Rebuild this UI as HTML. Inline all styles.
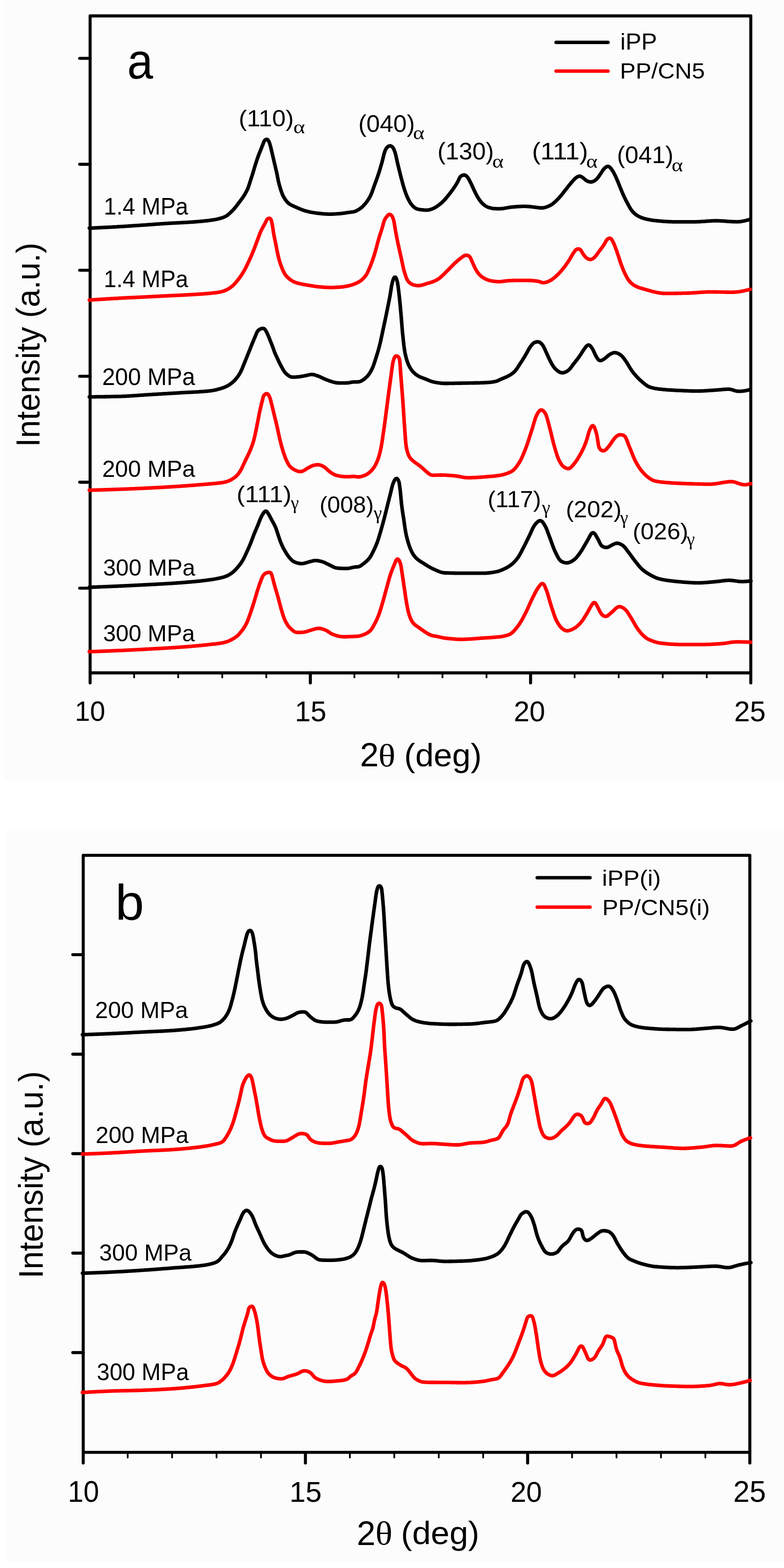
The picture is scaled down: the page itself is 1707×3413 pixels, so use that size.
<!DOCTYPE html>
<html><head><meta charset="utf-8"><title>XRD patterns</title>
<style>html,body{margin:0;padding:0;background:#fff;} svg{display:block;}</style></head>
<body>
<svg xmlns="http://www.w3.org/2000/svg" width="1707" height="3413" viewBox="0 0 1707 3413">
<rect x="0" y="0" width="1707" height="3413" fill="#fff"/>
<rect x="7" y="0" width="1700" height="1698.5" fill="#fcfcfc"/>
<rect x="13" y="1809" width="1694" height="1590" fill="#fcfcfc"/>
<rect x="196.2" y="34.6" width="1438.5" height="1430.0" fill="none" stroke="#000" stroke-width="6.6" stroke-linejoin="round"/>
<line x1="173.5" y1="127.0" x2="196.2" y2="127.0" stroke="#000" stroke-width="6.6" stroke-linecap="round"/>
<line x1="173.5" y1="357.6" x2="196.2" y2="357.6" stroke="#000" stroke-width="6.6" stroke-linecap="round"/>
<line x1="173.5" y1="588.3" x2="196.2" y2="588.3" stroke="#000" stroke-width="6.6" stroke-linecap="round"/>
<line x1="173.5" y1="819.0" x2="196.2" y2="819.0" stroke="#000" stroke-width="6.6" stroke-linecap="round"/>
<line x1="173.5" y1="1049.6" x2="196.2" y2="1049.6" stroke="#000" stroke-width="6.6" stroke-linecap="round"/>
<line x1="173.5" y1="1280.3" x2="196.2" y2="1280.3" stroke="#000" stroke-width="6.6" stroke-linecap="round"/>
<line x1="196.2" y1="1464.6" x2="196.2" y2="1486.5" stroke="#000" stroke-width="6.6" stroke-linecap="round"/>
<line x1="292.1" y1="1464.6" x2="292.1" y2="1474.5" stroke="#000" stroke-width="3.8" stroke-linecap="round"/>
<line x1="388.0" y1="1464.6" x2="388.0" y2="1474.5" stroke="#000" stroke-width="3.8" stroke-linecap="round"/>
<line x1="483.9" y1="1464.6" x2="483.9" y2="1474.5" stroke="#000" stroke-width="3.8" stroke-linecap="round"/>
<line x1="579.8" y1="1464.6" x2="579.8" y2="1474.5" stroke="#000" stroke-width="3.8" stroke-linecap="round"/>
<line x1="675.7" y1="1464.6" x2="675.7" y2="1486.5" stroke="#000" stroke-width="6.6" stroke-linecap="round"/>
<line x1="771.6" y1="1464.6" x2="771.6" y2="1474.5" stroke="#000" stroke-width="3.8" stroke-linecap="round"/>
<line x1="867.5" y1="1464.6" x2="867.5" y2="1474.5" stroke="#000" stroke-width="3.8" stroke-linecap="round"/>
<line x1="963.4" y1="1464.6" x2="963.4" y2="1474.5" stroke="#000" stroke-width="3.8" stroke-linecap="round"/>
<line x1="1059.3" y1="1464.6" x2="1059.3" y2="1474.5" stroke="#000" stroke-width="3.8" stroke-linecap="round"/>
<line x1="1155.2" y1="1464.6" x2="1155.2" y2="1486.5" stroke="#000" stroke-width="6.6" stroke-linecap="round"/>
<line x1="1251.1" y1="1464.6" x2="1251.1" y2="1474.5" stroke="#000" stroke-width="3.8" stroke-linecap="round"/>
<line x1="1347.0" y1="1464.6" x2="1347.0" y2="1474.5" stroke="#000" stroke-width="3.8" stroke-linecap="round"/>
<line x1="1442.9" y1="1464.6" x2="1442.9" y2="1474.5" stroke="#000" stroke-width="3.8" stroke-linecap="round"/>
<line x1="1538.8" y1="1464.6" x2="1538.8" y2="1474.5" stroke="#000" stroke-width="3.8" stroke-linecap="round"/>
<line x1="1634.7" y1="1464.6" x2="1634.7" y2="1486.5" stroke="#000" stroke-width="6.6" stroke-linecap="round"/>
<rect x="181.2" y="1861.8" width="1451.4" height="1299.5" fill="none" stroke="#000" stroke-width="6.6" stroke-linejoin="round"/>
<line x1="158.5" y1="2078.0" x2="181.2" y2="2078.0" stroke="#000" stroke-width="6.6" stroke-linecap="round"/>
<line x1="158.5" y1="2294.6" x2="181.2" y2="2294.6" stroke="#000" stroke-width="6.6" stroke-linecap="round"/>
<line x1="158.5" y1="2511.1" x2="181.2" y2="2511.1" stroke="#000" stroke-width="6.6" stroke-linecap="round"/>
<line x1="158.5" y1="2727.6" x2="181.2" y2="2727.6" stroke="#000" stroke-width="6.6" stroke-linecap="round"/>
<line x1="158.5" y1="2944.1" x2="181.2" y2="2944.1" stroke="#000" stroke-width="6.6" stroke-linecap="round"/>
<line x1="181.2" y1="3161.3" x2="181.2" y2="3184.5" stroke="#000" stroke-width="6.6" stroke-linecap="round"/>
<line x1="278.0" y1="3161.3" x2="278.0" y2="3172.5" stroke="#000" stroke-width="3.8" stroke-linecap="round"/>
<line x1="374.7" y1="3161.3" x2="374.7" y2="3172.5" stroke="#000" stroke-width="3.8" stroke-linecap="round"/>
<line x1="471.5" y1="3161.3" x2="471.5" y2="3172.5" stroke="#000" stroke-width="3.8" stroke-linecap="round"/>
<line x1="568.2" y1="3161.3" x2="568.2" y2="3172.5" stroke="#000" stroke-width="3.8" stroke-linecap="round"/>
<line x1="665.0" y1="3161.3" x2="665.0" y2="3184.5" stroke="#000" stroke-width="6.6" stroke-linecap="round"/>
<line x1="761.8" y1="3161.3" x2="761.8" y2="3172.5" stroke="#000" stroke-width="3.8" stroke-linecap="round"/>
<line x1="858.5" y1="3161.3" x2="858.5" y2="3172.5" stroke="#000" stroke-width="3.8" stroke-linecap="round"/>
<line x1="955.3" y1="3161.3" x2="955.3" y2="3172.5" stroke="#000" stroke-width="3.8" stroke-linecap="round"/>
<line x1="1052.0" y1="3161.3" x2="1052.0" y2="3172.5" stroke="#000" stroke-width="3.8" stroke-linecap="round"/>
<line x1="1148.8" y1="3161.3" x2="1148.8" y2="3184.5" stroke="#000" stroke-width="6.6" stroke-linecap="round"/>
<line x1="1245.6" y1="3161.3" x2="1245.6" y2="3172.5" stroke="#000" stroke-width="3.8" stroke-linecap="round"/>
<line x1="1342.3" y1="3161.3" x2="1342.3" y2="3172.5" stroke="#000" stroke-width="3.8" stroke-linecap="round"/>
<line x1="1439.1" y1="3161.3" x2="1439.1" y2="3172.5" stroke="#000" stroke-width="3.8" stroke-linecap="round"/>
<line x1="1535.8" y1="3161.3" x2="1535.8" y2="3172.5" stroke="#000" stroke-width="3.8" stroke-linecap="round"/>
<line x1="1632.6" y1="3161.3" x2="1632.6" y2="3184.5" stroke="#000" stroke-width="6.6" stroke-linecap="round"/>
<line x1="1210.7" y1="92.2" x2="1323.8" y2="92.2" stroke="#000" stroke-width="7.6" stroke-linecap="round"/>
<line x1="1210.7" y1="154.7" x2="1323.8" y2="154.7" stroke="#ff0000" stroke-width="7.6" stroke-linecap="round"/>
<line x1="1169.7" y1="1910.5" x2="1284.6" y2="1910.5" stroke="#000" stroke-width="7.6" stroke-linecap="round"/>
<line x1="1169.7" y1="1974.5" x2="1284.6" y2="1974.5" stroke="#ff0000" stroke-width="7.6" stroke-linecap="round"/>
<path d="M194.5,496.6 L196.3,496.5 L198.6,496.4 L200.5,496.3 L202.5,496.3 L204.5,496.2 L206.5,496.1 L208.5,496.0 L210.5,495.9 L212.5,495.8 L214.5,495.7 L216.5,495.6 L218.5,495.5 L220.5,495.4 L222.5,495.3 L224.5,495.2 L226.5,495.1 L228.5,495.0 L230.5,494.9 L232.5,494.8 L234.5,494.7 L236.5,494.6 L238.5,494.5 L240.4,494.4 L242.4,494.3 L244.4,494.2 L246.4,494.1 L248.4,494.0 L250.4,493.9 L252.4,493.8 L254.4,493.7 L256.4,493.5 L258.4,493.4 L260.4,493.3 L262.4,493.2 L264.4,493.1 L266.4,492.9 L268.4,492.8 L270.4,492.7 L272.4,492.6 L274.4,492.4 L276.4,492.3 L278.4,492.2 L280.4,492.0 L282.4,491.9 L284.4,491.8 L286.4,491.6 L288.4,491.5 L290.4,491.4 L292.4,491.2 L294.3,491.1 L296.3,491.0 L298.3,490.8 L300.3,490.7 L302.3,490.6 L304.3,490.4 L306.3,490.3 L308.3,490.2 L310.3,490.0 L312.3,489.9 L314.3,489.8 L316.3,489.6 L318.3,489.5 L320.3,489.3 L322.3,489.2 L324.3,489.0 L326.3,488.9 L328.3,488.8 L330.3,488.6 L332.3,488.5 L334.2,488.3 L336.2,488.2 L338.2,488.0 L340.2,487.9 L342.2,487.7 L344.2,487.6 L346.2,487.5 L348.2,487.3 L350.2,487.2 L352.2,487.1 L354.2,486.9 L356.2,486.8 L358.2,486.7 L360.2,486.5 L362.2,486.4 L364.2,486.3 L366.2,486.2 L368.2,486.0 L370.2,485.9 L372.2,485.8 L374.2,485.7 L376.2,485.6 L378.2,485.5 L380.2,485.4 L382.2,485.3 L384.1,485.2 L386.1,485.1 L388.1,485.0 L390.1,484.9 L392.1,484.8 L394.1,484.7 L396.1,484.6 L398.1,484.5 L400.1,484.4 L402.1,484.3 L404.1,484.2 L406.1,484.1 L408.1,483.9 L410.1,483.8 L412.1,483.7 L414.1,483.6 L416.1,483.4 L418.1,483.3 L420.1,483.2 L422.1,483.0 L424.1,482.9 L426.1,482.7 L428.1,482.6 L430.1,482.4 L432.1,482.2 L434.0,482.1 L436.0,481.9 L438.0,481.7 L440.0,481.5 L442.0,481.3 L444.0,481.1 L446.0,480.9 L448.0,480.7 L450.0,480.5 L452.0,480.3 L453.9,480.0 L455.9,479.8 L457.9,479.5 L459.9,479.2 L461.9,478.9 L463.8,478.6 L465.8,478.3 L467.8,477.9 L469.7,477.6 L471.7,477.2 L473.7,476.7 L475.6,476.3 L477.5,475.8 L479.5,475.3 L481.4,474.7 L483.3,474.1 L485.2,473.5 L487.1,472.8 L488.9,472.0 L490.7,471.2 L492.5,470.2 L494.1,469.2 L495.8,468.0 L497.3,466.7 L498.8,465.4 L500.3,464.1 L501.8,462.7 L503.2,461.3 L504.6,459.9 L506.0,458.5 L507.4,457.1 L508.8,455.6 L510.1,454.1 L511.4,452.6 L512.7,451.0 L513.9,449.5 L515.2,447.9 L516.4,446.3 L517.6,444.7 L518.8,443.1 L520.0,441.5 L521.2,439.9 L522.4,438.3 L523.6,436.7 L524.8,435.1 L526.0,433.5 L527.1,431.9 L528.3,430.3 L529.4,428.6 L530.5,427.0 L531.6,425.3 L532.7,423.6 L533.7,421.9 L534.7,420.1 L535.6,418.4 L536.6,416.6 L537.5,414.8 L538.4,413.0 L539.2,411.2 L540.0,409.4 L540.7,407.5 L541.3,405.6 L542.0,403.7 L542.6,401.8 L543.2,399.9 L543.8,398.0 L544.4,396.1 L545.0,394.2 L545.6,392.3 L546.2,390.4 L546.8,388.5 L547.4,386.6 L548.1,384.7 L548.7,382.8 L549.3,380.9 L549.9,378.9 L550.5,377.0 L551.1,375.1 L551.6,373.2 L552.2,371.3 L552.8,369.4 L553.3,367.5 L553.9,365.5 L554.5,363.6 L555.1,361.7 L555.6,359.8 L556.2,357.9 L556.8,356.0 L557.5,354.1 L558.1,352.2 L558.7,350.3 L559.3,348.4 L559.9,346.5 L560.6,344.6 L561.2,342.7 L561.9,340.8 L562.6,338.9 L563.3,337.1 L564.0,335.2 L564.8,333.3 L565.5,331.5 L566.3,329.6 L567.0,327.8 L567.8,325.9 L568.5,324.1 L569.3,322.2 L570.0,320.3 L570.7,318.5 L571.5,316.6 L572.2,314.8 L572.9,312.9 L573.6,311.0 L574.3,309.2 L575.1,307.4 L576.2,305.8 L577.5,304.5 L579.0,303.7 L580.6,303.4 L582.2,303.8 L583.5,304.9 L584.6,306.4 L585.5,308.1 L586.3,309.9 L587.0,311.8 L587.6,313.7 L588.1,315.6 L588.7,317.6 L589.2,319.5 L589.7,321.4 L590.2,323.4 L590.7,325.3 L591.1,327.3 L591.6,329.2 L592.0,331.2 L592.5,333.1 L592.9,335.1 L593.4,337.0 L593.8,338.9 L594.3,340.9 L594.7,342.8 L595.2,344.8 L595.6,346.7 L596.1,348.7 L596.5,350.6 L597.0,352.6 L597.4,354.5 L597.9,356.5 L598.3,358.4 L598.8,360.4 L599.3,362.3 L599.7,364.3 L600.2,366.2 L600.7,368.2 L601.1,370.1 L601.6,372.1 L602.0,374.0 L602.5,376.0 L602.9,377.9 L603.3,379.9 L603.7,381.8 L604.0,383.8 L604.4,385.8 L604.8,387.7 L605.2,389.7 L605.6,391.7 L606.0,393.6 L606.4,395.6 L606.9,397.5 L607.4,399.4 L607.9,401.4 L608.4,403.3 L609.0,405.2 L609.5,407.2 L610.1,409.1 L610.6,411.0 L611.2,412.9 L611.9,414.8 L612.5,416.7 L613.2,418.6 L613.9,420.4 L614.6,422.3 L615.4,424.1 L616.2,426.0 L617.1,427.7 L618.1,429.5 L619.1,431.2 L620.2,432.9 L621.3,434.6 L622.5,436.2 L623.7,437.8 L624.9,439.3 L626.3,440.7 L627.8,442.1 L629.3,443.3 L631.0,444.4 L632.7,445.5 L634.4,446.4 L636.2,447.3 L638.0,448.1 L639.9,448.9 L641.7,449.8 L643.5,450.6 L645.3,451.4 L647.2,452.2 L649.0,453.0 L650.8,453.8 L652.7,454.6 L654.5,455.3 L656.4,456.1 L658.3,456.8 L660.1,457.5 L662.0,458.1 L663.9,458.7 L665.9,459.3 L667.8,459.8 L669.7,460.3 L671.7,460.8 L673.6,461.2 L675.6,461.6 L677.5,462.0 L679.5,462.3 L681.5,462.7 L683.5,463.0 L685.4,463.3 L687.4,463.6 L689.4,463.8 L691.4,464.1 L693.4,464.3 L695.4,464.5 L697.3,464.7 L699.3,465.0 L701.3,465.2 L703.3,465.3 L705.3,465.5 L707.3,465.7 L709.3,465.8 L711.3,465.9 L713.3,466.0 L715.3,466.1 L717.3,466.1 L719.3,466.1 L721.3,466.0 L723.3,466.0 L725.3,465.9 L727.3,465.8 L729.3,465.7 L731.3,465.6 L733.3,465.4 L735.3,465.3 L737.3,465.2 L739.3,465.0 L741.2,464.9 L743.2,464.7 L745.2,464.4 L747.2,464.2 L749.2,463.9 L751.2,463.6 L753.1,463.3 L755.1,463.0 L757.1,462.7 L759.1,462.4 L761.1,462.2 L763.0,461.9 L765.0,461.7 L767.0,461.4 L769.0,461.1 L770.9,460.7 L772.8,460.2 L774.7,459.5 L776.5,458.6 L778.3,457.7 L780.0,456.7 L781.7,455.6 L783.4,454.5 L785.0,453.4 L786.6,452.2 L788.1,450.9 L789.6,449.5 L791.0,448.1 L792.3,446.7 L793.7,445.2 L795.0,443.7 L796.3,442.1 L797.5,440.6 L798.7,439.0 L799.9,437.4 L801.0,435.7 L802.1,434.0 L803.2,432.3 L804.2,430.6 L805.2,428.9 L806.1,427.1 L807.0,425.3 L807.8,423.5 L808.6,421.7 L809.4,419.8 L810.1,418.0 L810.8,416.1 L811.5,414.2 L812.1,412.3 L812.8,410.4 L813.4,408.5 L814.1,406.6 L814.8,404.8 L815.4,402.9 L816.1,401.0 L816.8,399.1 L817.5,397.2 L818.2,395.4 L818.9,393.5 L819.5,391.6 L820.2,389.7 L820.9,387.8 L821.6,386.0 L822.2,384.1 L822.9,382.2 L823.5,380.3 L824.1,378.4 L824.8,376.5 L825.4,374.6 L826.0,372.7 L826.5,370.8 L827.1,368.8 L827.7,366.9 L828.3,365.0 L828.8,363.1 L829.4,361.2 L829.9,359.2 L830.5,357.3 L831.0,355.4 L831.6,353.5 L832.1,351.5 L832.6,349.6 L833.1,347.7 L833.6,345.7 L834.0,343.8 L834.5,341.8 L835.0,339.9 L835.4,337.9 L835.9,336.0 L836.5,334.1 L837.1,332.2 L837.7,330.3 L838.4,328.4 L839.2,326.6 L840.1,324.8 L841.1,323.1 L842.3,321.5 L843.6,320.1 L845.1,318.9 L846.8,317.9 L848.5,317.4 L850.2,317.5 L851.9,318.1 L853.4,319.2 L854.8,320.5 L856.0,322.1 L857.0,323.8 L857.8,325.6 L858.6,327.5 L859.3,329.3 L859.9,331.2 L860.5,333.1 L861.0,335.1 L861.6,337.0 L862.0,338.9 L862.5,340.9 L862.9,342.8 L863.3,344.8 L863.8,346.7 L864.2,348.7 L864.6,350.7 L865.0,352.6 L865.5,354.6 L865.9,356.5 L866.4,358.5 L866.9,360.4 L867.3,362.3 L867.8,364.3 L868.3,366.2 L868.7,368.2 L869.2,370.1 L869.7,372.1 L870.2,374.0 L870.7,375.9 L871.1,377.9 L871.6,379.8 L872.1,381.8 L872.6,383.7 L873.1,385.6 L873.6,387.6 L874.1,389.5 L874.7,391.4 L875.2,393.4 L875.7,395.3 L876.2,397.2 L876.7,399.2 L877.2,401.1 L877.8,403.0 L878.3,404.9 L878.9,406.9 L879.5,408.8 L880.1,410.7 L880.7,412.6 L881.3,414.5 L882.0,416.4 L882.6,418.3 L883.3,420.1 L884.0,422.0 L884.7,423.9 L885.5,425.7 L886.2,427.6 L887.0,429.4 L887.9,431.2 L888.7,433.0 L889.6,434.8 L890.6,436.6 L891.5,438.4 L892.5,440.1 L893.6,441.8 L894.7,443.4 L895.9,445.0 L897.2,446.5 L898.5,448.0 L899.9,449.4 L901.4,450.8 L903.0,452.0 L904.6,453.1 L906.3,454.1 L908.1,454.8 L910.0,455.3 L912.0,455.8 L914.0,456.1 L915.9,456.4 L917.9,456.6 L919.9,456.8 L921.9,457.0 L923.9,457.2 L925.9,457.3 L927.9,457.3 L929.9,457.3 L931.9,457.1 L933.8,456.8 L935.8,456.4 L937.7,455.9 L939.6,455.2 L941.5,454.6 L943.3,453.8 L945.1,453.0 L946.9,452.0 L948.6,451.0 L950.3,449.9 L951.9,448.8 L953.6,447.7 L955.2,446.5 L956.8,445.3 L958.3,444.0 L959.8,442.7 L961.4,441.4 L962.8,440.0 L964.3,438.7 L965.7,437.3 L967.1,435.8 L968.5,434.4 L969.8,432.9 L971.1,431.4 L972.4,429.9 L973.7,428.3 L974.9,426.8 L976.2,425.2 L977.4,423.6 L978.6,422.1 L979.9,420.5 L981.1,418.9 L982.3,417.3 L983.5,415.7 L984.7,414.1 L985.9,412.5 L987.0,410.8 L988.2,409.2 L989.3,407.5 L990.4,405.9 L991.5,404.2 L992.5,402.5 L993.6,400.8 L994.6,399.1 L995.6,397.3 L996.5,395.6 L997.5,393.8 L998.3,392.0 L999.2,390.2 L1000.0,388.4 L1000.9,386.6 L1002.0,385.0 L1003.3,383.6 L1004.9,382.5 L1006.6,381.7 L1008.5,381.2 L1010.4,381.0 L1012.2,381.2 L1013.9,381.9 L1015.4,383.0 L1016.8,384.4 L1018.0,385.9 L1019.2,387.5 L1020.3,389.2 L1021.3,390.9 L1022.2,392.7 L1023.1,394.5 L1024.0,396.3 L1024.9,398.1 L1025.8,399.8 L1026.7,401.7 L1027.5,403.5 L1028.3,405.3 L1029.1,407.1 L1030.0,408.9 L1030.8,410.8 L1031.6,412.6 L1032.5,414.4 L1033.3,416.2 L1034.2,418.0 L1035.1,419.8 L1036.0,421.6 L1036.9,423.3 L1037.9,425.1 L1038.8,426.9 L1039.8,428.6 L1040.8,430.3 L1041.9,432.0 L1043.0,433.7 L1044.2,435.3 L1045.3,436.9 L1046.5,438.5 L1047.8,440.1 L1049.1,441.6 L1050.5,443.0 L1052.0,444.4 L1053.5,445.6 L1055.1,446.8 L1056.7,448.0 L1058.4,449.0 L1060.1,450.0 L1061.9,450.8 L1063.8,451.5 L1065.7,452.1 L1067.6,452.6 L1069.6,453.1 L1071.6,453.5 L1073.5,453.8 L1075.5,454.0 L1077.5,454.2 L1079.5,454.2 L1081.5,454.3 L1083.5,454.3 L1085.5,454.3 L1087.5,454.3 L1089.5,454.3 L1091.5,454.2 L1093.5,454.0 L1095.5,453.8 L1097.4,453.5 L1099.4,453.2 L1101.4,452.8 L1103.3,452.4 L1105.3,452.1 L1107.3,451.7 L1109.2,451.4 L1111.2,451.1 L1113.2,450.9 L1115.2,450.7 L1117.2,450.5 L1119.2,450.4 L1121.2,450.2 L1123.2,450.0 L1125.2,449.9 L1127.2,449.7 L1129.2,449.6 L1131.2,449.5 L1133.1,449.4 L1135.1,449.3 L1137.1,449.2 L1139.1,449.2 L1141.1,449.1 L1143.1,449.1 L1145.1,449.2 L1147.1,449.3 L1149.1,449.4 L1151.1,449.5 L1153.1,449.7 L1155.1,449.9 L1157.1,450.1 L1159.1,450.3 L1161.1,450.6 L1163.1,450.8 L1165.0,451.0 L1167.0,451.3 L1169.0,451.5 L1171.0,451.8 L1173.0,452.1 L1175.0,452.3 L1177.0,452.5 L1178.9,452.5 L1180.9,452.5 L1182.9,452.3 L1184.9,452.0 L1186.8,451.5 L1188.7,450.9 L1190.6,450.3 L1192.5,449.5 L1194.3,448.8 L1196.1,448.0 L1197.9,447.1 L1199.7,446.1 L1201.3,445.1 L1203.0,443.9 L1204.6,442.7 L1206.1,441.4 L1207.6,440.1 L1209.1,438.8 L1210.5,437.4 L1212.0,436.0 L1213.4,434.6 L1214.8,433.2 L1216.2,431.8 L1217.6,430.3 L1218.9,428.8 L1220.2,427.3 L1221.5,425.7 L1222.7,424.2 L1224.0,422.6 L1225.2,421.0 L1226.4,419.4 L1227.7,417.9 L1228.9,416.3 L1230.1,414.7 L1231.4,413.2 L1232.6,411.6 L1233.9,410.0 L1235.1,408.5 L1236.3,406.9 L1237.6,405.3 L1238.8,403.7 L1240.1,402.2 L1241.3,400.6 L1242.6,399.1 L1243.9,397.6 L1245.2,396.1 L1246.5,394.6 L1247.9,393.1 L1249.2,391.6 L1250.6,390.2 L1252.0,388.8 L1253.5,387.5 L1255.1,386.2 L1256.8,385.2 L1258.5,384.2 L1260.3,383.6 L1262.1,383.4 L1263.9,383.7 L1265.7,384.5 L1267.3,385.5 L1268.9,386.7 L1270.5,387.9 L1272.0,389.2 L1273.6,390.5 L1275.1,391.7 L1276.6,392.9 L1278.3,394.0 L1280.1,394.8 L1282.0,395.4 L1283.9,395.8 L1285.9,396.0 L1287.8,396.0 L1289.7,395.6 L1291.6,395.0 L1293.3,394.1 L1295.0,393.1 L1296.6,391.9 L1298.2,390.7 L1299.6,389.3 L1300.9,387.8 L1302.1,386.2 L1303.3,384.6 L1304.4,383.0 L1305.6,381.3 L1306.7,379.7 L1307.8,378.0 L1308.9,376.3 L1310.0,374.7 L1311.1,373.0 L1312.2,371.3 L1313.3,369.7 L1314.5,368.1 L1315.9,366.6 L1317.3,365.3 L1318.9,364.0 L1320.5,363.0 L1322.2,362.4 L1324.0,362.2 L1325.7,362.6 L1327.2,363.5 L1328.6,364.8 L1329.9,366.3 L1331.1,367.9 L1332.3,369.5 L1333.4,371.2 L1334.5,372.9 L1335.5,374.6 L1336.5,376.4 L1337.4,378.1 L1338.3,379.9 L1339.2,381.7 L1340.0,383.5 L1340.9,385.3 L1341.7,387.1 L1342.5,389.0 L1343.3,390.8 L1344.1,392.6 L1344.9,394.5 L1345.6,396.3 L1346.4,398.2 L1347.1,400.0 L1347.9,401.9 L1348.6,403.7 L1349.4,405.6 L1350.1,407.4 L1350.9,409.3 L1351.6,411.2 L1352.4,413.0 L1353.1,414.9 L1353.9,416.7 L1354.7,418.6 L1355.4,420.4 L1356.2,422.2 L1357.0,424.1 L1357.9,425.9 L1358.7,427.7 L1359.6,429.5 L1360.4,431.3 L1361.3,433.1 L1362.2,434.9 L1363.1,436.7 L1364.0,438.5 L1365.0,440.2 L1365.9,442.0 L1366.9,443.7 L1367.8,445.5 L1368.8,447.3 L1369.7,449.0 L1370.7,450.8 L1371.7,452.5 L1372.7,454.2 L1373.8,455.9 L1374.9,457.5 L1376.2,459.1 L1377.5,460.6 L1378.8,462.1 L1380.2,463.5 L1381.7,464.8 L1383.2,466.1 L1384.8,467.3 L1386.5,468.5 L1388.1,469.5 L1389.9,470.5 L1391.6,471.5 L1393.4,472.3 L1395.3,473.1 L1397.1,473.9 L1399.0,474.5 L1400.9,475.1 L1402.8,475.7 L1404.8,476.2 L1406.7,476.7 L1408.7,477.2 L1410.6,477.6 L1412.6,478.0 L1414.5,478.4 L1416.5,478.8 L1418.5,479.1 L1420.4,479.4 L1422.4,479.6 L1424.4,479.8 L1426.4,480.1 L1428.4,480.3 L1430.4,480.5 L1432.4,480.7 L1434.4,480.9 L1436.4,481.1 L1438.3,481.3 L1440.3,481.4 L1442.3,481.6 L1444.3,481.8 L1446.3,481.9 L1448.3,482.1 L1450.3,482.2 L1452.3,482.3 L1454.3,482.4 L1456.3,482.5 L1458.3,482.6 L1460.3,482.7 L1462.3,482.7 L1464.3,482.8 L1466.3,482.8 L1468.3,482.8 L1470.3,482.8 L1472.3,482.8 L1474.3,482.8 L1476.3,482.8 L1478.3,482.8 L1480.3,482.8 L1482.3,482.8 L1484.3,482.8 L1486.3,482.8 L1488.3,482.8 L1490.3,482.8 L1492.3,482.8 L1494.3,482.8 L1496.3,482.8 L1498.3,482.8 L1500.3,482.8 L1502.3,482.8 L1504.3,482.8 L1506.3,482.8 L1508.3,482.8 L1510.3,482.8 L1512.3,482.8 L1514.3,482.8 L1516.3,482.8 L1518.3,482.7 L1520.3,482.6 L1522.3,482.6 L1524.3,482.5 L1526.3,482.3 L1528.3,482.2 L1530.3,482.1 L1532.3,481.9 L1534.3,481.8 L1536.3,481.7 L1538.3,481.5 L1540.2,481.4 L1542.2,481.2 L1544.2,481.1 L1546.2,481.0 L1548.2,480.8 L1550.2,480.7 L1552.2,480.7 L1554.2,480.6 L1556.2,480.6 L1558.2,480.5 L1560.2,480.5 L1562.2,480.6 L1564.2,480.6 L1566.2,480.7 L1568.2,480.8 L1570.2,480.9 L1572.2,481.0 L1574.2,481.1 L1576.2,481.2 L1578.2,481.4 L1580.2,481.5 L1582.2,481.7 L1584.2,481.8 L1586.2,482.0 L1588.2,482.1 L1590.2,482.2 L1592.2,482.4 L1594.2,482.5 L1596.2,482.6 L1598.2,482.6 L1600.2,482.7 L1602.2,482.7 L1604.2,482.8 L1606.1,482.7 L1608.1,482.6 L1610.1,482.5 L1612.1,482.3 L1614.1,482.0 L1616.1,481.7 L1618.0,481.3 L1620.0,480.9 L1622.0,480.5 L1623.9,480.0 L1625.8,479.5 L1627.8,479.0 L1629.6,478.5 L1631.2,478.1 L1633.6,477.5 L1633.6,477.5" fill="none" stroke="#000" stroke-width="7.8" stroke-linejoin="round" stroke-linecap="round"/>
<path d="M194.5,653.1 L196.2,653.0 L198.6,652.8 L200.5,652.7 L202.5,652.6 L204.5,652.4 L206.5,652.3 L208.5,652.2 L210.5,652.0 L212.5,651.9 L214.5,651.8 L216.5,651.6 L218.4,651.5 L220.4,651.4 L222.4,651.3 L224.4,651.1 L226.4,651.0 L228.4,650.9 L230.4,650.8 L232.4,650.6 L234.4,650.5 L236.4,650.4 L238.4,650.3 L240.4,650.2 L242.4,650.0 L244.4,649.9 L246.4,649.8 L248.4,649.7 L250.4,649.6 L252.4,649.5 L254.4,649.4 L256.4,649.3 L258.4,649.1 L260.4,649.0 L262.4,648.9 L264.4,648.8 L266.4,648.7 L268.4,648.6 L270.4,648.5 L272.4,648.4 L274.4,648.3 L276.4,648.2 L278.4,648.1 L280.3,648.0 L282.3,647.9 L284.3,647.8 L286.3,647.7 L288.3,647.7 L290.3,647.6 L292.3,647.5 L294.3,647.4 L296.3,647.3 L298.3,647.2 L300.3,647.1 L302.3,647.0 L304.3,646.9 L306.3,646.8 L308.3,646.7 L310.3,646.6 L312.3,646.5 L314.3,646.4 L316.3,646.3 L318.3,646.2 L320.3,646.1 L322.3,646.0 L324.3,645.9 L326.3,645.8 L328.3,645.7 L330.3,645.6 L332.3,645.5 L334.3,645.4 L336.3,645.3 L338.3,645.2 L340.3,645.1 L342.3,645.0 L344.3,644.9 L346.3,644.8 L348.3,644.7 L350.3,644.6 L352.3,644.5 L354.3,644.4 L356.3,644.3 L358.3,644.2 L360.3,644.1 L362.2,644.0 L364.2,643.9 L366.2,643.8 L368.2,643.7 L370.2,643.6 L372.2,643.5 L374.2,643.4 L376.2,643.3 L378.2,643.2 L380.2,643.1 L382.2,643.0 L384.2,642.9 L386.2,642.8 L388.2,642.8 L390.2,642.7 L392.2,642.6 L394.2,642.5 L396.2,642.4 L398.2,642.3 L400.2,642.2 L402.2,642.1 L404.2,642.0 L406.2,641.9 L408.2,641.8 L410.2,641.7 L412.2,641.5 L414.2,641.4 L416.2,641.3 L418.2,641.2 L420.2,641.1 L422.2,640.9 L424.2,640.8 L426.2,640.7 L428.2,640.6 L430.2,640.4 L432.2,640.3 L434.1,640.2 L436.1,640.1 L438.1,639.9 L440.1,639.8 L442.1,639.7 L444.1,639.5 L446.1,639.4 L448.1,639.2 L450.1,639.1 L452.1,638.9 L454.1,638.7 L456.1,638.5 L458.1,638.3 L460.1,638.2 L462.1,637.9 L464.0,637.7 L466.0,637.5 L468.0,637.3 L470.0,637.0 L472.0,636.8 L474.0,636.5 L475.9,636.2 L477.9,635.8 L479.9,635.4 L481.8,635.0 L483.7,634.5 L485.7,633.9 L487.6,633.3 L489.4,632.6 L491.3,631.9 L493.1,631.1 L494.9,630.2 L496.6,629.2 L498.3,628.1 L500.0,627.1 L501.7,625.9 L503.3,624.7 L504.8,623.5 L506.4,622.2 L507.8,620.9 L509.3,619.5 L510.6,618.0 L512.0,616.5 L513.3,615.0 L514.6,613.5 L515.9,612.0 L517.1,610.4 L518.4,608.8 L519.6,607.3 L520.8,605.7 L522.0,604.1 L523.1,602.4 L524.3,600.8 L525.4,599.1 L526.5,597.5 L527.6,595.8 L528.6,594.1 L529.7,592.4 L530.7,590.7 L531.7,588.9 L532.7,587.2 L533.6,585.4 L534.6,583.6 L535.5,581.9 L536.4,580.1 L537.2,578.3 L538.1,576.5 L539.0,574.7 L539.8,572.9 L540.7,571.1 L541.5,569.2 L542.4,567.4 L543.2,565.6 L544.0,563.8 L544.9,562.0 L545.7,560.1 L546.5,558.3 L547.3,556.5 L548.1,554.6 L548.9,552.8 L549.6,551.0 L550.4,549.1 L551.2,547.3 L551.9,545.4 L552.7,543.6 L553.4,541.7 L554.1,539.8 L554.8,538.0 L555.5,536.1 L556.2,534.2 L556.9,532.3 L557.6,530.5 L558.3,528.6 L559.0,526.7 L559.7,524.8 L560.4,523.0 L561.1,521.1 L561.8,519.2 L562.5,517.3 L563.2,515.5 L563.9,513.6 L564.6,511.7 L565.3,509.8 L566.0,508.0 L566.8,506.1 L567.5,504.3 L568.4,502.5 L569.2,500.7 L570.1,498.9 L571.0,497.1 L572.0,495.3 L573.0,493.6 L573.9,491.9 L574.9,490.1 L575.9,488.4 L576.9,486.6 L577.8,484.8 L578.6,483.0 L579.5,481.2 L580.3,479.4 L581.3,477.8 L582.6,476.4 L584.0,475.5 L585.7,475.2 L587.4,475.4 L588.8,476.2 L589.8,477.5 L590.6,479.2 L591.1,481.0 L591.6,483.0 L592.0,484.9 L592.4,486.9 L592.7,488.9 L593.1,490.8 L593.5,492.8 L593.8,494.8 L594.1,496.7 L594.4,498.7 L594.6,500.7 L594.9,502.7 L595.2,504.7 L595.5,506.6 L595.9,508.6 L596.2,510.6 L596.6,512.5 L597.0,514.5 L597.4,516.4 L597.8,518.4 L598.2,520.4 L598.6,522.3 L599.0,524.3 L599.4,526.2 L599.8,528.2 L600.2,530.2 L600.6,532.1 L601.0,534.1 L601.4,536.1 L601.8,538.0 L602.2,540.0 L602.5,541.9 L602.9,543.9 L603.3,545.9 L603.7,547.8 L604.1,549.8 L604.5,551.7 L604.9,553.7 L605.4,555.6 L605.8,557.6 L606.3,559.5 L606.8,561.5 L607.3,563.4 L607.8,565.4 L608.3,567.3 L608.9,569.2 L609.5,571.1 L610.1,573.0 L610.7,574.9 L611.4,576.8 L612.1,578.7 L612.8,580.5 L613.5,582.4 L614.2,584.3 L615.0,586.1 L615.8,587.9 L616.6,589.8 L617.5,591.6 L618.4,593.4 L619.3,595.1 L620.3,596.8 L621.5,598.5 L622.7,600.0 L624.0,601.5 L625.4,603.0 L626.8,604.4 L628.3,605.7 L629.9,606.9 L631.5,608.2 L633.1,609.3 L634.7,610.5 L636.4,611.5 L638.1,612.5 L639.9,613.4 L641.7,614.2 L643.6,614.9 L645.5,615.5 L647.4,616.1 L649.4,616.6 L651.3,617.0 L653.3,617.5 L655.2,617.9 L657.2,618.3 L659.1,618.7 L661.1,619.1 L663.1,619.5 L665.0,619.8 L667.0,620.2 L669.0,620.5 L670.9,620.8 L672.9,621.2 L674.9,621.5 L676.9,621.8 L678.8,622.1 L680.8,622.4 L682.8,622.7 L684.8,623.1 L686.7,623.4 L688.7,623.6 L690.7,623.9 L692.7,624.1 L694.7,624.3 L696.7,624.5 L698.7,624.7 L700.7,624.8 L702.7,625.0 L704.6,625.2 L706.6,625.3 L708.6,625.4 L710.6,625.5 L712.6,625.6 L714.6,625.7 L716.6,625.7 L718.6,625.8 L720.6,625.8 L722.6,625.8 L724.6,625.7 L726.6,625.7 L728.6,625.6 L730.6,625.5 L732.6,625.4 L734.6,625.2 L736.6,625.1 L738.6,625.0 L740.6,624.8 L742.6,624.6 L744.6,624.5 L746.6,624.3 L748.6,624.0 L750.5,623.7 L752.5,623.4 L754.5,623.0 L756.4,622.6 L758.4,622.1 L760.3,621.7 L762.2,621.2 L764.2,620.7 L766.1,620.1 L768.0,619.5 L769.9,618.9 L771.8,618.2 L773.6,617.4 L775.5,616.6 L777.3,615.7 L779.0,614.8 L780.8,613.9 L782.5,612.8 L784.2,611.8 L785.8,610.6 L787.4,609.4 L788.9,608.1 L790.4,606.7 L791.8,605.3 L793.1,603.8 L794.4,602.3 L795.6,600.7 L796.8,599.1 L797.9,597.4 L798.9,595.7 L799.8,593.9 L800.7,592.1 L801.5,590.3 L802.3,588.5 L803.1,586.7 L803.9,584.8 L804.7,583.0 L805.5,581.1 L806.2,579.3 L807.0,577.4 L807.7,575.6 L808.4,573.7 L809.1,571.8 L809.8,570.0 L810.5,568.1 L811.2,566.2 L811.8,564.3 L812.5,562.4 L813.1,560.5 L813.7,558.6 L814.4,556.7 L815.0,554.8 L815.6,552.9 L816.1,551.0 L816.7,549.1 L817.3,547.2 L817.8,545.2 L818.3,543.3 L818.9,541.4 L819.4,539.4 L819.9,537.5 L820.4,535.6 L820.9,533.6 L821.4,531.7 L821.9,529.8 L822.4,527.8 L823.0,525.9 L823.5,524.0 L824.0,522.1 L824.6,520.1 L825.2,518.2 L825.8,516.3 L826.3,514.4 L826.9,512.5 L827.5,510.6 L828.1,508.7 L828.8,506.8 L829.4,504.9 L830.0,503.0 L830.6,501.0 L831.2,499.1 L831.8,497.2 L832.3,495.3 L832.9,493.4 L833.4,491.5 L833.9,489.5 L834.5,487.6 L835.0,485.7 L835.5,483.8 L836.1,481.8 L836.8,480.0 L837.6,478.2 L838.6,476.4 L839.7,474.8 L840.8,473.2 L842.0,471.6 L843.3,470.0 L844.5,468.5 L845.9,467.3 L847.4,466.7 L849.0,466.7 L850.6,467.4 L852.0,468.5 L853.3,470.0 L854.3,471.7 L855.1,473.5 L855.8,475.3 L856.4,477.2 L857.0,479.1 L857.5,481.1 L857.9,483.0 L858.3,485.0 L858.6,487.0 L859.0,488.9 L859.3,490.9 L859.6,492.9 L859.9,494.9 L860.2,496.8 L860.5,498.8 L860.9,500.8 L861.2,502.7 L861.6,504.7 L861.9,506.7 L862.3,508.6 L862.7,510.6 L863.1,512.6 L863.4,514.5 L863.8,516.5 L864.2,518.5 L864.6,520.4 L865.0,522.4 L865.4,524.3 L865.8,526.3 L866.2,528.3 L866.6,530.2 L867.0,532.2 L867.5,534.1 L867.9,536.1 L868.3,538.0 L868.7,540.0 L869.2,541.9 L869.6,543.9 L870.0,545.9 L870.5,547.8 L870.9,549.8 L871.3,551.7 L871.8,553.7 L872.2,555.6 L872.7,557.6 L873.1,559.5 L873.5,561.5 L874.0,563.4 L874.4,565.4 L874.8,567.3 L875.2,569.3 L875.6,571.2 L876.0,573.2 L876.5,575.2 L876.9,577.1 L877.3,579.1 L877.7,581.0 L878.2,583.0 L878.6,584.9 L879.1,586.9 L879.6,588.8 L880.1,590.7 L880.7,592.6 L881.3,594.6 L881.9,596.5 L882.5,598.4 L883.1,600.3 L883.8,602.2 L884.4,604.0 L885.2,605.9 L886.0,607.7 L886.9,609.5 L888.0,611.1 L889.2,612.7 L890.5,614.2 L892.0,615.5 L893.5,616.8 L895.2,617.9 L896.9,618.8 L898.7,619.6 L900.6,620.2 L902.6,620.6 L904.5,621.1 L906.5,621.4 L908.5,621.6 L910.5,621.7 L912.4,621.7 L914.4,621.5 L916.4,621.2 L918.3,620.7 L920.2,620.2 L922.2,619.6 L924.1,619.0 L925.9,618.3 L927.8,617.7 L929.8,617.1 L931.7,616.6 L933.6,616.0 L935.5,615.5 L937.4,614.9 L939.3,614.3 L941.2,613.7 L943.1,613.0 L945.0,612.2 L946.8,611.4 L948.6,610.5 L950.4,609.6 L952.1,608.6 L953.8,607.6 L955.5,606.5 L957.1,605.3 L958.6,604.1 L960.1,602.7 L961.6,601.4 L963.1,600.0 L964.5,598.6 L965.9,597.2 L967.4,595.8 L968.8,594.4 L970.2,593.0 L971.6,591.6 L973.1,590.2 L974.5,588.8 L975.9,587.4 L977.3,586.0 L978.7,584.5 L980.1,583.1 L981.5,581.7 L982.9,580.2 L984.3,578.8 L985.7,577.4 L987.1,576.0 L988.5,574.6 L989.9,573.2 L991.4,571.8 L992.9,570.5 L994.4,569.1 L995.9,567.8 L997.4,566.5 L999.0,565.3 L1000.6,564.1 L1002.1,562.8 L1003.7,561.6 L1005.3,560.4 L1006.9,559.2 L1008.5,558.0 L1010.2,556.9 L1011.9,556.1 L1013.7,555.6 L1015.6,555.5 L1017.5,555.8 L1019.3,556.4 L1020.9,557.4 L1022.4,558.6 L1023.6,560.1 L1024.6,561.8 L1025.4,563.6 L1026.2,565.4 L1027.0,567.3 L1027.8,569.1 L1028.6,570.9 L1029.4,572.8 L1030.3,574.6 L1031.1,576.4 L1031.9,578.2 L1032.7,580.1 L1033.5,581.9 L1034.4,583.7 L1035.4,585.4 L1036.3,587.2 L1037.4,588.9 L1038.4,590.6 L1039.5,592.3 L1040.7,593.9 L1041.9,595.5 L1043.2,597.0 L1044.5,598.4 L1046.0,599.8 L1047.5,601.1 L1049.0,602.4 L1050.7,603.5 L1052.3,604.6 L1054.1,605.6 L1055.8,606.6 L1057.6,607.5 L1059.4,608.3 L1061.3,609.0 L1063.2,609.7 L1065.1,610.3 L1067.0,610.8 L1068.9,611.2 L1070.9,611.6 L1072.9,611.9 L1074.9,612.2 L1076.8,612.4 L1078.8,612.6 L1080.8,612.8 L1082.8,613.0 L1084.8,613.1 L1086.8,613.1 L1088.8,613.1 L1090.8,612.9 L1092.7,612.6 L1094.7,612.3 L1096.7,612.1 L1098.7,611.8 L1100.6,611.6 L1102.6,611.4 L1104.6,611.2 L1106.6,611.1 L1108.6,610.9 L1110.6,610.8 L1112.6,610.7 L1114.6,610.6 L1116.6,610.5 L1118.6,610.5 L1120.6,610.4 L1122.6,610.4 L1124.6,610.4 L1126.6,610.4 L1128.6,610.4 L1130.6,610.4 L1132.6,610.4 L1134.6,610.4 L1136.6,610.4 L1138.6,610.4 L1140.6,610.4 L1142.6,610.4 L1144.6,610.4 L1146.6,610.4 L1148.6,610.4 L1150.6,610.4 L1152.6,610.5 L1154.6,610.5 L1156.6,610.6 L1158.6,610.8 L1160.6,610.9 L1162.6,611.1 L1164.6,611.3 L1166.5,611.5 L1168.5,611.8 L1170.5,612.1 L1172.5,612.4 L1174.4,612.9 L1176.2,613.6 L1178.0,614.3 L1179.7,614.9 L1181.5,615.3 L1183.5,615.3 L1185.4,615.1 L1187.4,614.7 L1189.3,614.2 L1191.2,613.7 L1193.1,613.0 L1194.9,612.2 L1196.7,611.3 L1198.4,610.3 L1200.2,609.3 L1201.8,608.3 L1203.5,607.1 L1205.1,606.0 L1206.7,604.7 L1208.2,603.4 L1209.7,602.1 L1211.2,600.8 L1212.6,599.4 L1214.1,598.0 L1215.5,596.6 L1216.9,595.2 L1218.3,593.7 L1219.6,592.2 L1220.9,590.7 L1222.2,589.2 L1223.5,587.7 L1224.8,586.2 L1226.1,584.6 L1227.3,583.1 L1228.6,581.5 L1229.8,579.9 L1231.0,578.3 L1232.1,576.7 L1233.3,575.0 L1234.4,573.4 L1235.6,571.7 L1236.7,570.1 L1237.8,568.4 L1238.9,566.7 L1240.0,565.1 L1241.0,563.4 L1242.0,561.6 L1243.0,559.9 L1244.0,558.1 L1245.0,556.4 L1246.0,554.7 L1247.0,553.0 L1248.1,551.3 L1249.2,549.6 L1250.4,548.0 L1251.6,546.4 L1252.9,544.9 L1254.3,543.6 L1255.8,542.6 L1257.6,542.0 L1259.4,541.8 L1261.2,542.1 L1262.8,542.9 L1264.1,544.1 L1265.3,545.6 L1266.3,547.3 L1267.3,549.0 L1268.3,550.8 L1269.4,552.4 L1270.5,554.1 L1271.7,555.7 L1272.9,557.3 L1274.2,558.8 L1275.6,560.2 L1277.1,561.5 L1278.7,562.6 L1280.5,563.5 L1282.3,564.3 L1284.1,564.7 L1286.0,564.8 L1287.9,564.4 L1289.6,563.7 L1291.3,562.7 L1292.9,561.5 L1294.4,560.2 L1295.8,558.8 L1297.1,557.3 L1298.3,555.7 L1299.5,554.1 L1300.7,552.5 L1301.8,550.8 L1303.0,549.2 L1304.1,547.6 L1305.3,545.9 L1306.5,544.3 L1307.7,542.7 L1308.9,541.2 L1310.1,539.6 L1311.3,538.0 L1312.5,536.3 L1313.6,534.7 L1314.8,533.0 L1315.8,531.4 L1316.8,529.6 L1317.8,527.9 L1318.7,526.1 L1319.7,524.4 L1320.8,522.7 L1322.0,521.2 L1323.5,519.9 L1325.1,519.0 L1326.8,518.5 L1328.5,518.6 L1330.0,519.4 L1331.3,520.6 L1332.4,522.2 L1333.4,523.9 L1334.3,525.7 L1335.2,527.5 L1336.0,529.3 L1336.9,531.1 L1337.7,532.9 L1338.4,534.8 L1339.1,536.6 L1339.8,538.5 L1340.5,540.4 L1341.2,542.3 L1341.9,544.1 L1342.6,546.0 L1343.2,547.9 L1343.9,549.8 L1344.5,551.7 L1345.2,553.6 L1345.8,555.5 L1346.4,557.4 L1347.1,559.3 L1347.7,561.2 L1348.3,563.1 L1348.9,565.0 L1349.5,566.9 L1350.1,568.8 L1350.8,570.7 L1351.4,572.6 L1352.1,574.5 L1352.8,576.4 L1353.5,578.2 L1354.2,580.1 L1354.9,582.0 L1355.6,583.8 L1356.4,585.7 L1357.1,587.5 L1357.9,589.4 L1358.7,591.2 L1359.5,593.0 L1360.4,594.8 L1361.2,596.6 L1362.1,598.4 L1363.1,600.2 L1364.0,602.0 L1364.9,603.7 L1365.9,605.5 L1367.0,607.2 L1368.0,608.9 L1369.2,610.5 L1370.4,612.1 L1371.7,613.6 L1373.1,615.0 L1374.6,616.4 L1376.1,617.7 L1377.7,618.9 L1379.3,620.1 L1380.9,621.2 L1382.7,622.2 L1384.4,623.1 L1386.2,624.0 L1388.1,624.7 L1389.9,625.5 L1391.8,626.1 L1393.7,626.8 L1395.6,627.3 L1397.5,627.9 L1399.5,628.4 L1401.4,629.0 L1403.3,629.5 L1405.2,630.1 L1407.2,630.6 L1409.1,631.2 L1411.0,631.7 L1412.9,632.3 L1414.9,632.8 L1416.8,633.3 L1418.7,633.9 L1420.6,634.4 L1422.6,634.9 L1424.5,635.3 L1426.5,635.8 L1428.4,636.2 L1430.4,636.7 L1432.3,637.0 L1434.3,637.4 L1436.3,637.7 L1438.3,638.0 L1440.2,638.2 L1442.2,638.4 L1444.2,638.5 L1446.2,638.6 L1448.2,638.7 L1450.2,638.7 L1452.2,638.7 L1454.2,638.7 L1456.2,638.7 L1458.2,638.7 L1460.2,638.6 L1462.2,638.6 L1464.2,638.6 L1466.2,638.6 L1468.2,638.6 L1470.2,638.5 L1472.2,638.5 L1474.2,638.5 L1476.2,638.4 L1478.2,638.4 L1480.2,638.4 L1482.2,638.3 L1484.2,638.3 L1486.2,638.2 L1488.2,638.2 L1490.2,638.2 L1492.2,638.1 L1494.2,638.1 L1496.2,638.0 L1498.2,638.0 L1500.2,637.9 L1502.2,637.8 L1504.2,637.7 L1506.2,637.6 L1508.2,637.5 L1510.2,637.4 L1512.2,637.2 L1514.2,637.1 L1516.2,637.0 L1518.2,636.8 L1520.2,636.7 L1522.2,636.5 L1524.2,636.4 L1526.2,636.2 L1528.2,636.1 L1530.2,636.0 L1532.2,635.9 L1534.1,635.8 L1536.1,635.7 L1538.1,635.6 L1540.1,635.5 L1542.1,635.5 L1544.1,635.4 L1546.1,635.4 L1548.1,635.4 L1550.1,635.4 L1552.1,635.4 L1554.1,635.5 L1556.1,635.5 L1558.1,635.5 L1560.1,635.5 L1562.1,635.6 L1564.1,635.6 L1566.1,635.7 L1568.1,635.7 L1570.1,635.7 L1572.1,635.8 L1574.1,635.8 L1576.1,635.9 L1578.1,635.9 L1580.1,635.9 L1582.1,636.0 L1584.1,636.0 L1586.1,636.0 L1588.1,636.1 L1590.1,636.1 L1592.1,636.1 L1594.1,636.1 L1596.1,636.0 L1598.1,636.0 L1600.1,635.9 L1602.1,635.7 L1604.1,635.6 L1606.1,635.3 L1608.1,635.1 L1610.1,634.8 L1612.0,634.5 L1614.0,634.1 L1616.0,633.8 L1617.9,633.4 L1619.9,633.0 L1621.8,632.5 L1623.8,632.1 L1625.7,631.6 L1627.7,631.2 L1629.5,630.7 L1631.1,630.3 L1633.5,629.7 L1633.5,629.7" fill="none" stroke="#ff0000" stroke-width="7.8" stroke-linejoin="round" stroke-linecap="round"/>
<path d="M194.5,863.8 L196.3,863.8 L198.6,863.8 L200.5,863.8 L202.5,863.8 L204.5,863.8 L206.5,863.8 L208.5,863.7 L210.5,863.7 L212.5,863.7 L214.5,863.7 L216.5,863.7 L218.5,863.6 L220.5,863.6 L222.5,863.6 L224.5,863.6 L226.5,863.5 L228.5,863.5 L230.5,863.5 L232.5,863.4 L234.5,863.4 L236.5,863.3 L238.5,863.3 L240.5,863.3 L242.5,863.2 L244.5,863.2 L246.5,863.1 L248.5,863.1 L250.5,863.0 L252.5,863.0 L254.5,863.0 L256.5,862.9 L258.5,862.9 L260.5,862.8 L262.5,862.8 L264.5,862.7 L266.5,862.6 L268.5,862.6 L270.5,862.5 L272.5,862.4 L274.5,862.3 L276.5,862.2 L278.5,862.1 L280.5,862.0 L282.5,861.9 L284.5,861.7 L286.5,861.6 L288.5,861.5 L290.5,861.4 L292.4,861.2 L294.4,861.1 L296.4,861.0 L298.4,860.8 L300.4,860.7 L302.4,860.5 L304.4,860.4 L306.4,860.2 L308.4,860.1 L310.4,860.0 L312.4,859.8 L314.4,859.7 L316.4,859.5 L318.4,859.4 L320.4,859.3 L322.4,859.2 L324.4,859.0 L326.4,858.9 L328.4,858.8 L330.4,858.7 L332.4,858.5 L334.4,858.4 L336.4,858.3 L338.3,858.2 L340.3,858.1 L342.3,858.0 L344.3,857.8 L346.3,857.7 L348.3,857.6 L350.3,857.5 L352.3,857.4 L354.3,857.2 L356.3,857.1 L358.3,857.0 L360.3,856.9 L362.3,856.8 L364.3,856.7 L366.3,856.5 L368.3,856.4 L370.3,856.3 L372.3,856.2 L374.3,856.1 L376.3,855.9 L378.3,855.8 L380.3,855.7 L382.3,855.6 L384.3,855.5 L386.3,855.3 L388.3,855.2 L390.3,855.1 L392.3,855.0 L394.2,854.9 L396.2,854.7 L398.2,854.6 L400.2,854.5 L402.2,854.4 L404.2,854.3 L406.2,854.2 L408.2,854.1 L410.2,854.0 L412.2,853.9 L414.2,853.8 L416.2,853.7 L418.2,853.6 L420.2,853.5 L422.2,853.4 L424.2,853.3 L426.2,853.2 L428.2,853.1 L430.2,853.0 L432.2,852.8 L434.2,852.7 L436.2,852.6 L438.2,852.4 L440.2,852.3 L442.2,852.1 L444.2,852.0 L446.2,851.8 L448.1,851.7 L450.1,851.5 L452.1,851.3 L454.1,851.1 L456.1,850.9 L458.1,850.6 L460.1,850.4 L462.1,850.1 L464.0,849.7 L466.0,849.4 L468.0,849.0 L469.9,848.6 L471.9,848.1 L473.8,847.6 L475.7,847.1 L477.7,846.6 L479.6,846.0 L481.5,845.4 L483.4,844.8 L485.3,844.2 L487.2,843.5 L489.0,842.8 L490.9,842.0 L492.7,841.2 L494.5,840.3 L496.2,839.4 L498.0,838.3 L499.6,837.3 L501.3,836.1 L502.9,835.0 L504.5,833.7 L506.0,832.5 L507.5,831.1 L509.0,829.8 L510.4,828.4 L511.8,826.9 L513.1,825.4 L514.4,823.9 L515.6,822.3 L516.9,820.8 L518.0,819.1 L519.2,817.5 L520.3,815.8 L521.3,814.1 L522.3,812.4 L523.3,810.7 L524.2,808.9 L525.1,807.1 L525.9,805.3 L526.7,803.4 L527.5,801.6 L528.3,799.7 L529.0,797.9 L529.8,796.0 L530.5,794.2 L531.3,792.3 L532.0,790.5 L532.8,788.6 L533.5,786.8 L534.3,784.9 L535.0,783.1 L535.8,781.2 L536.5,779.4 L537.3,777.5 L538.0,775.6 L538.7,773.8 L539.5,771.9 L540.2,770.1 L541.0,768.2 L541.7,766.4 L542.5,764.5 L543.2,762.6 L544.0,760.8 L544.7,758.9 L545.5,757.1 L546.2,755.2 L546.9,753.4 L547.7,751.5 L548.4,749.7 L549.2,747.8 L549.9,745.9 L550.7,744.1 L551.5,742.2 L552.2,740.4 L553.0,738.6 L553.8,736.7 L554.6,734.9 L555.4,733.0 L556.1,731.2 L556.9,729.3 L557.7,727.5 L558.4,725.7 L559.2,723.8 L560.2,722.1 L561.3,720.5 L562.5,719.0 L564.0,717.8 L565.7,716.7 L567.5,715.9 L569.3,715.2 L571.2,714.8 L573.0,714.8 L574.7,715.2 L576.1,716.3 L577.4,717.7 L578.4,719.3 L579.5,721.0 L580.4,722.8 L581.3,724.6 L582.1,726.4 L582.9,728.2 L583.7,730.0 L584.5,731.9 L585.3,733.7 L586.0,735.6 L586.8,737.5 L587.5,739.3 L588.2,741.2 L589.0,743.0 L589.7,744.9 L590.5,746.7 L591.2,748.6 L592.0,750.5 L592.7,752.3 L593.4,754.2 L594.1,756.1 L594.8,757.9 L595.4,759.8 L596.1,761.7 L596.7,763.6 L597.4,765.5 L598.1,767.4 L598.9,769.2 L599.7,771.0 L600.5,772.8 L601.4,774.7 L602.2,776.5 L603.1,778.3 L603.9,780.1 L604.8,781.9 L605.6,783.7 L606.4,785.5 L607.3,787.4 L608.2,789.1 L609.1,790.9 L610.0,792.7 L610.9,794.5 L611.8,796.3 L612.8,798.0 L613.8,799.8 L614.7,801.5 L615.7,803.3 L616.7,805.0 L617.7,806.7 L618.8,808.4 L620.0,810.0 L621.2,811.5 L622.6,813.0 L624.1,814.3 L625.6,815.6 L627.2,816.8 L628.8,817.9 L630.5,819.0 L632.3,819.8 L634.1,820.5 L636.0,820.8 L638.0,820.9 L640.0,820.9 L642.0,820.8 L644.0,820.7 L646.0,820.5 L648.0,820.3 L649.9,820.1 L651.9,819.9 L653.9,819.6 L655.9,819.3 L657.9,819.0 L659.8,818.7 L661.8,818.3 L663.8,817.9 L665.7,817.5 L667.7,817.1 L669.6,816.6 L671.6,816.2 L673.5,815.8 L675.5,815.4 L677.5,815.2 L679.4,815.1 L681.4,815.3 L683.4,815.6 L685.3,816.1 L687.2,816.7 L689.1,817.3 L691.0,818.0 L692.8,818.7 L694.7,819.4 L696.6,820.2 L698.4,821.0 L700.2,821.9 L702.0,822.7 L703.8,823.6 L705.6,824.4 L707.4,825.2 L709.3,826.0 L711.1,826.7 L713.0,827.5 L714.9,828.1 L716.8,828.8 L718.7,829.5 L720.6,830.1 L722.5,830.7 L724.4,831.2 L726.3,831.8 L728.2,832.3 L730.2,832.8 L732.1,833.1 L734.1,833.4 L736.1,833.5 L738.1,833.6 L740.1,833.6 L742.1,833.6 L744.1,833.6 L746.1,833.6 L748.1,833.6 L750.1,833.6 L752.1,833.6 L754.1,833.5 L756.1,833.4 L758.1,833.3 L760.0,833.0 L762.0,832.6 L764.0,832.2 L765.9,831.9 L767.9,831.6 L769.9,831.4 L771.9,831.3 L773.9,831.3 L775.9,831.3 L777.9,831.3 L779.8,831.2 L781.8,830.9 L783.7,830.5 L785.6,829.8 L787.3,828.9 L789.1,827.9 L790.7,826.8 L792.3,825.6 L793.9,824.4 L795.4,823.1 L796.9,821.7 L798.4,820.4 L799.8,819.0 L801.1,817.5 L802.3,815.9 L803.5,814.3 L804.6,812.7 L805.7,811.0 L806.7,809.2 L807.7,807.5 L808.6,805.7 L809.5,803.9 L810.4,802.1 L811.2,800.3 L812.0,798.5 L812.7,796.6 L813.4,794.7 L814.1,792.9 L814.7,791.0 L815.3,789.1 L816.0,787.2 L816.6,785.3 L817.2,783.4 L817.8,781.5 L818.4,779.6 L819.0,777.6 L819.6,775.7 L820.2,773.8 L820.8,771.9 L821.4,770.0 L822.0,768.1 L822.5,766.2 L823.1,764.3 L823.7,762.3 L824.2,760.4 L824.7,758.5 L825.2,756.5 L825.8,754.6 L826.3,752.7 L826.7,750.7 L827.2,748.8 L827.7,746.9 L828.2,744.9 L828.6,743.0 L829.0,741.0 L829.5,739.1 L829.9,737.1 L830.3,735.1 L830.7,733.2 L831.2,731.2 L831.6,729.3 L832.0,727.3 L832.4,725.4 L832.8,723.4 L833.2,721.4 L833.6,719.5 L834.1,717.5 L834.5,715.6 L834.9,713.6 L835.3,711.7 L835.7,709.7 L836.2,707.8 L836.6,705.8 L837.0,703.9 L837.4,701.9 L837.8,699.9 L838.2,698.0 L838.7,696.0 L839.1,694.1 L839.5,692.1 L839.9,690.2 L840.3,688.2 L840.7,686.2 L841.1,684.3 L841.5,682.3 L841.9,680.4 L842.3,678.4 L842.7,676.4 L843.1,674.5 L843.5,672.5 L843.9,670.6 L844.3,668.6 L844.7,666.6 L845.1,664.7 L845.5,662.7 L845.9,660.8 L846.3,658.8 L846.7,656.8 L847.0,654.9 L847.4,652.9 L847.8,650.9 L848.2,649.0 L848.6,647.0 L848.9,645.0 L849.3,643.1 L849.6,641.1 L849.9,639.1 L850.2,637.2 L850.6,635.2 L850.9,633.2 L851.2,631.2 L851.5,629.3 L851.8,627.3 L852.1,625.3 L852.4,623.3 L852.8,621.4 L853.2,619.4 L853.6,617.4 L854.0,615.5 L854.6,613.6 L855.1,611.7 L855.7,609.8 L856.4,607.9 L857.2,606.1 L858.0,604.5 L859.1,603.4 L860.8,603.3 L862.3,605.1 L863.0,606.8 L863.7,608.6 L864.3,610.5 L864.8,612.4 L865.3,614.4 L865.7,616.3 L866.0,618.3 L866.3,620.3 L866.6,622.3 L866.9,624.2 L867.1,626.2 L867.4,628.2 L867.6,630.2 L867.9,632.2 L868.1,634.2 L868.4,636.2 L868.6,638.1 L868.8,640.1 L869.0,642.1 L869.3,644.1 L869.5,646.1 L869.7,648.1 L869.9,650.1 L870.1,652.1 L870.3,654.0 L870.5,656.0 L870.7,658.0 L870.9,660.0 L871.1,662.0 L871.3,664.0 L871.5,666.0 L871.6,668.0 L871.8,670.0 L872.0,672.0 L872.2,674.0 L872.4,676.0 L872.5,677.9 L872.7,679.9 L872.9,681.9 L873.1,683.9 L873.2,685.9 L873.4,687.9 L873.6,689.9 L873.7,691.9 L873.9,693.9 L874.1,695.9 L874.2,697.9 L874.4,699.9 L874.6,701.9 L874.7,703.9 L874.9,705.8 L875.0,707.8 L875.2,709.8 L875.4,711.8 L875.5,713.8 L875.7,715.8 L875.9,717.8 L876.0,719.8 L876.2,721.8 L876.4,723.8 L876.6,725.8 L876.8,727.8 L877.0,729.8 L877.2,731.7 L877.4,733.7 L877.6,735.7 L877.8,737.7 L878.0,739.7 L878.2,741.7 L878.5,743.7 L878.7,745.7 L878.9,747.7 L879.1,749.6 L879.4,751.6 L879.6,753.6 L879.9,755.6 L880.1,757.6 L880.4,759.6 L880.7,761.5 L881.0,763.5 L881.4,765.5 L881.7,767.4 L882.1,769.4 L882.5,771.4 L883.0,773.3 L883.4,775.3 L883.9,777.2 L884.4,779.1 L884.9,781.1 L885.5,783.0 L886.1,784.9 L886.7,786.8 L887.4,788.7 L888.1,790.6 L888.8,792.4 L889.6,794.2 L890.5,796.0 L891.4,797.8 L892.3,799.6 L893.3,801.3 L894.4,803.0 L895.5,804.7 L896.7,806.3 L897.9,807.8 L899.3,809.3 L900.7,810.7 L902.1,812.1 L903.6,813.5 L905.1,814.7 L906.7,815.9 L908.4,817.0 L910.1,818.1 L911.8,819.1 L913.6,819.9 L915.4,820.8 L917.3,821.5 L919.1,822.3 L921.0,822.9 L922.9,823.6 L924.8,824.3 L926.6,825.0 L928.5,825.8 L930.3,826.5 L932.2,827.3 L934.0,828.2 L935.8,828.9 L937.7,829.6 L939.6,830.3 L941.5,830.8 L943.5,831.3 L945.4,831.7 L947.4,832.1 L949.3,832.5 L951.3,832.8 L953.3,833.2 L955.2,833.5 L957.2,833.7 L959.2,834.0 L961.2,834.1 L963.2,834.3 L965.2,834.4 L967.2,834.5 L969.2,834.5 L971.2,834.5 L973.2,834.5 L975.2,834.5 L977.2,834.4 L979.2,834.4 L981.2,834.4 L983.2,834.4 L985.2,834.3 L987.2,834.3 L989.2,834.3 L991.2,834.2 L993.2,834.2 L995.2,834.2 L997.2,834.1 L999.2,834.1 L1001.2,834.1 L1003.2,834.0 L1005.2,834.0 L1007.2,833.9 L1009.2,833.9 L1011.2,833.9 L1013.2,833.8 L1015.2,833.8 L1017.2,833.8 L1019.2,833.8 L1021.2,833.7 L1023.2,833.7 L1025.2,833.7 L1027.2,833.6 L1029.2,833.6 L1031.2,833.6 L1033.2,833.5 L1035.2,833.5 L1037.2,833.5 L1039.2,833.4 L1041.2,833.4 L1043.2,833.3 L1045.2,833.3 L1047.2,833.2 L1049.2,833.2 L1051.2,833.1 L1053.2,833.0 L1055.2,832.9 L1057.2,832.8 L1059.2,832.7 L1061.2,832.6 L1063.2,832.4 L1065.1,832.3 L1067.1,832.1 L1069.1,831.8 L1071.1,831.6 L1073.1,831.3 L1075.1,831.0 L1077.0,830.7 L1079.0,830.3 L1080.9,829.8 L1082.8,829.1 L1084.6,828.3 L1086.4,827.4 L1088.2,826.6 L1090.0,825.7 L1091.8,824.9 L1093.7,824.1 L1095.5,823.4 L1097.4,822.7 L1099.2,821.9 L1101.1,821.1 L1102.9,820.3 L1104.7,819.4 L1106.5,818.5 L1108.2,817.6 L1110.0,816.6 L1111.7,815.5 L1113.3,814.4 L1115.0,813.3 L1116.5,812.1 L1118.1,810.8 L1119.6,809.4 L1121.0,808.0 L1122.3,806.5 L1123.5,805.0 L1124.7,803.4 L1125.9,801.7 L1127.0,800.1 L1128.1,798.4 L1129.1,796.7 L1130.2,795.0 L1131.3,793.4 L1132.4,791.7 L1133.5,790.0 L1134.6,788.3 L1135.7,786.7 L1136.8,785.0 L1137.9,783.3 L1138.9,781.6 L1140.0,779.9 L1141.0,778.2 L1142.1,776.5 L1143.1,774.8 L1144.1,773.1 L1145.2,771.3 L1146.1,769.6 L1147.1,767.8 L1148.0,766.1 L1149.0,764.3 L1149.9,762.6 L1150.9,760.8 L1151.9,759.1 L1152.9,757.4 L1154.0,755.7 L1155.2,754.1 L1156.4,752.5 L1157.7,750.9 L1159.0,749.4 L1160.3,748.0 L1161.8,746.7 L1163.5,745.7 L1165.3,744.9 L1167.1,744.4 L1169.1,744.1 L1171.0,744.0 L1172.9,744.3 L1174.7,744.9 L1176.3,745.9 L1177.9,747.1 L1179.3,748.5 L1180.6,750.0 L1181.8,751.6 L1182.9,753.3 L1183.8,755.0 L1184.7,756.8 L1185.6,758.6 L1186.4,760.4 L1187.2,762.3 L1188.0,764.1 L1188.8,765.9 L1189.7,767.7 L1190.5,769.5 L1191.3,771.4 L1192.1,773.2 L1193.0,775.0 L1193.8,776.8 L1194.6,778.7 L1195.4,780.5 L1196.3,782.3 L1197.2,784.1 L1198.1,785.9 L1199.0,787.6 L1199.9,789.4 L1200.9,791.1 L1201.9,792.9 L1203.0,794.6 L1204.0,796.3 L1205.1,798.0 L1206.3,799.6 L1207.5,801.1 L1208.9,802.6 L1210.3,804.0 L1211.8,805.3 L1213.4,806.5 L1214.9,807.8 L1216.6,808.9 L1218.3,809.9 L1220.1,810.7 L1222.0,811.2 L1223.9,811.5 L1225.8,811.4 L1227.7,811.1 L1229.6,810.5 L1231.5,809.7 L1233.2,808.8 L1235.0,807.8 L1236.6,806.7 L1238.2,805.5 L1239.6,804.2 L1241.0,802.7 L1242.2,801.2 L1243.4,799.6 L1244.6,798.0 L1245.8,796.3 L1247.0,794.7 L1248.2,793.1 L1249.4,791.5 L1250.6,790.0 L1251.9,788.4 L1253.1,786.8 L1254.3,785.2 L1255.6,783.7 L1256.8,782.1 L1258.0,780.5 L1259.2,778.9 L1260.4,777.3 L1261.5,775.6 L1262.7,774.0 L1263.8,772.3 L1264.9,770.7 L1266.0,769.0 L1267.0,767.3 L1268.1,765.6 L1269.2,763.9 L1270.3,762.3 L1271.4,760.6 L1272.6,759.0 L1273.8,757.4 L1275.0,755.8 L1276.3,754.3 L1277.6,752.8 L1279.0,751.7 L1280.6,751.0 L1282.2,751.0 L1283.7,751.7 L1285.2,752.9 L1286.5,754.3 L1287.7,755.9 L1288.8,757.5 L1289.9,759.2 L1290.9,760.9 L1291.8,762.7 L1292.6,764.5 L1293.4,766.4 L1294.3,768.2 L1295.1,770.0 L1295.9,771.8 L1296.8,773.6 L1297.8,775.4 L1298.8,777.1 L1299.8,778.8 L1300.9,780.4 L1302.1,782.0 L1303.4,783.4 L1304.9,784.4 L1306.5,784.9 L1308.3,784.9 L1310.1,784.3 L1311.9,783.5 L1313.6,782.5 L1315.3,781.4 L1316.9,780.2 L1318.5,779.0 L1320.0,777.8 L1321.5,776.5 L1323.0,775.1 L1324.5,773.8 L1326.1,772.6 L1327.8,771.5 L1329.5,770.5 L1331.3,769.6 L1333.1,768.8 L1334.9,768.1 L1336.8,767.7 L1338.8,767.6 L1340.7,767.8 L1342.6,768.2 L1344.5,768.9 L1346.3,769.7 L1348.1,770.6 L1349.8,771.7 L1351.4,772.8 L1352.9,774.0 L1354.4,775.4 L1355.7,776.9 L1357.0,778.4 L1358.2,780.0 L1359.4,781.6 L1360.6,783.2 L1361.7,784.9 L1362.9,786.5 L1364.0,788.2 L1365.1,789.8 L1366.2,791.5 L1367.2,793.2 L1368.2,794.9 L1369.3,796.7 L1370.3,798.4 L1371.3,800.1 L1372.3,801.8 L1373.4,803.5 L1374.5,805.2 L1375.6,806.8 L1376.8,808.4 L1378.0,810.0 L1379.3,811.6 L1380.5,813.2 L1381.8,814.7 L1383.1,816.2 L1384.4,817.7 L1385.7,819.2 L1387.1,820.7 L1388.5,822.1 L1389.9,823.5 L1391.3,824.9 L1392.7,826.3 L1394.2,827.7 L1395.7,829.0 L1397.2,830.4 L1398.7,831.7 L1400.2,833.0 L1401.8,834.2 L1403.3,835.5 L1404.9,836.7 L1406.5,837.9 L1408.1,839.1 L1409.8,840.2 L1411.5,841.1 L1413.3,842.0 L1415.2,842.7 L1417.1,843.3 L1419.0,843.8 L1420.9,844.3 L1422.9,844.8 L1424.8,845.2 L1426.8,845.6 L1428.8,845.9 L1430.7,846.2 L1432.7,846.5 L1434.7,846.8 L1436.7,847.0 L1438.7,847.2 L1440.7,847.4 L1442.7,847.6 L1444.6,847.8 L1446.6,848.0 L1448.6,848.2 L1450.6,848.3 L1452.6,848.5 L1454.6,848.6 L1456.6,848.8 L1458.6,848.9 L1460.6,849.0 L1462.6,849.1 L1464.6,849.2 L1466.6,849.4 L1468.6,849.5 L1470.6,849.6 L1472.6,849.7 L1474.6,849.8 L1476.6,849.8 L1478.6,849.9 L1480.6,850.0 L1482.6,850.1 L1484.6,850.2 L1486.6,850.3 L1488.6,850.4 L1490.6,850.5 L1492.6,850.6 L1494.6,850.7 L1496.6,850.7 L1498.6,850.8 L1500.6,850.9 L1502.6,850.9 L1504.6,851.0 L1506.6,851.1 L1508.6,851.1 L1510.6,851.1 L1512.6,851.2 L1514.6,851.2 L1516.6,851.2 L1518.6,851.2 L1520.6,851.2 L1522.6,851.1 L1524.6,851.1 L1526.6,851.0 L1528.5,850.9 L1530.5,850.9 L1532.5,850.8 L1534.5,850.7 L1536.5,850.5 L1538.5,850.4 L1540.5,850.3 L1542.5,850.2 L1544.5,850.0 L1546.5,849.9 L1548.5,849.7 L1550.5,849.6 L1552.5,849.5 L1554.5,849.3 L1556.5,849.2 L1558.5,849.1 L1560.5,848.9 L1562.5,848.8 L1564.5,848.6 L1566.5,848.4 L1568.5,848.3 L1570.4,848.1 L1572.4,847.9 L1574.4,847.7 L1576.4,847.5 L1578.4,847.4 L1580.4,847.3 L1582.4,847.2 L1584.4,847.1 L1586.4,847.1 L1588.4,847.2 L1590.4,847.5 L1592.3,847.9 L1594.2,848.4 L1596.1,849.0 L1598.0,849.7 L1599.9,850.3 L1601.8,850.8 L1603.8,851.3 L1605.7,851.5 L1607.7,851.7 L1609.7,851.7 L1611.7,851.7 L1613.7,851.6 L1615.7,851.4 L1617.7,851.2 L1619.7,851.0 L1621.7,850.7 L1623.6,850.3 L1625.6,849.9 L1627.5,849.4 L1629.4,848.9 L1631.1,848.4 L1634.2,847.3 L1634.2,847.3" fill="none" stroke="#000" stroke-width="7.8" stroke-linejoin="round" stroke-linecap="round"/>
<path d="M194.5,1067.0 L196.3,1067.0 L198.6,1066.9 L200.5,1066.8 L202.5,1066.8 L204.5,1066.7 L206.5,1066.7 L208.5,1066.6 L210.5,1066.6 L212.5,1066.5 L214.5,1066.5 L216.5,1066.4 L218.5,1066.3 L220.5,1066.3 L222.5,1066.2 L224.5,1066.2 L226.5,1066.1 L228.5,1066.0 L230.5,1066.0 L232.5,1065.9 L234.5,1065.8 L236.5,1065.8 L238.5,1065.7 L240.5,1065.6 L242.5,1065.6 L244.5,1065.5 L246.5,1065.4 L248.5,1065.4 L250.5,1065.3 L252.5,1065.2 L254.5,1065.2 L256.5,1065.1 L258.5,1065.0 L260.5,1064.9 L262.5,1064.9 L264.5,1064.8 L266.5,1064.7 L268.5,1064.6 L270.5,1064.6 L272.5,1064.5 L274.5,1064.4 L276.5,1064.3 L278.5,1064.3 L280.5,1064.2 L282.5,1064.1 L284.4,1064.0 L286.4,1063.9 L288.4,1063.9 L290.4,1063.8 L292.4,1063.7 L294.4,1063.6 L296.4,1063.5 L298.4,1063.4 L300.4,1063.4 L302.4,1063.3 L304.4,1063.2 L306.4,1063.1 L308.4,1063.0 L310.4,1062.9 L312.4,1062.8 L314.4,1062.7 L316.4,1062.6 L318.4,1062.5 L320.4,1062.4 L322.4,1062.3 L324.4,1062.2 L326.4,1062.1 L328.4,1062.0 L330.4,1061.9 L332.4,1061.8 L334.4,1061.7 L336.4,1061.6 L338.4,1061.5 L340.4,1061.4 L342.4,1061.3 L344.4,1061.2 L346.4,1061.1 L348.4,1061.0 L350.4,1060.9 L352.4,1060.8 L354.4,1060.7 L356.4,1060.5 L358.4,1060.4 L360.4,1060.3 L362.4,1060.2 L364.4,1060.1 L366.3,1060.0 L368.3,1059.9 L370.3,1059.7 L372.3,1059.6 L374.3,1059.5 L376.3,1059.4 L378.3,1059.2 L380.3,1059.1 L382.3,1059.0 L384.3,1058.8 L386.3,1058.7 L388.3,1058.6 L390.3,1058.5 L392.3,1058.3 L394.3,1058.2 L396.3,1058.0 L398.3,1057.9 L400.3,1057.8 L402.3,1057.6 L404.3,1057.5 L406.3,1057.3 L408.3,1057.2 L410.3,1057.0 L412.2,1056.9 L414.2,1056.7 L416.2,1056.6 L418.2,1056.4 L420.2,1056.3 L422.2,1056.1 L424.2,1056.0 L426.2,1055.8 L428.2,1055.6 L430.2,1055.5 L432.2,1055.3 L434.2,1055.1 L436.2,1055.0 L438.2,1054.8 L440.2,1054.6 L442.1,1054.5 L444.1,1054.3 L446.1,1054.1 L448.1,1054.0 L450.1,1053.8 L452.1,1053.7 L454.1,1053.5 L456.1,1053.4 L458.1,1053.2 L460.1,1053.1 L462.1,1052.9 L464.1,1052.7 L466.1,1052.5 L468.1,1052.4 L470.1,1052.2 L472.0,1051.9 L474.0,1051.7 L476.0,1051.5 L478.0,1051.2 L480.0,1051.0 L482.0,1050.7 L483.9,1050.4 L485.9,1050.1 L487.9,1049.7 L489.8,1049.3 L491.8,1048.9 L493.7,1048.3 L495.6,1047.6 L497.4,1046.9 L499.2,1046.1 L501.1,1045.2 L502.8,1044.3 L504.6,1043.4 L506.3,1042.4 L508.0,1041.3 L509.7,1040.2 L511.3,1039.0 L512.8,1037.7 L514.3,1036.4 L515.7,1035.0 L517.0,1033.5 L518.3,1032.0 L519.6,1030.4 L520.8,1028.8 L521.9,1027.2 L523.0,1025.5 L524.0,1023.8 L525.0,1022.0 L525.9,1020.2 L526.8,1018.4 L527.6,1016.6 L528.5,1014.8 L529.3,1013.0 L530.2,1011.2 L531.0,1009.4 L531.8,1007.6 L532.7,1005.8 L533.6,1004.0 L534.4,1002.2 L535.3,1000.4 L536.2,998.6 L537.1,996.8 L537.9,995.0 L538.8,993.2 L539.7,991.4 L540.5,989.6 L541.4,987.8 L542.2,985.9 L543.0,984.1 L543.9,982.3 L544.6,980.4 L545.4,978.6 L546.2,976.7 L546.9,974.9 L547.6,973.0 L548.3,971.1 L549.0,969.3 L549.6,967.4 L550.3,965.5 L550.9,963.6 L551.5,961.7 L552.1,959.8 L552.6,957.8 L553.1,955.9 L553.6,954.0 L554.1,952.0 L554.5,950.1 L555.0,948.1 L555.4,946.2 L555.8,944.2 L556.2,942.2 L556.6,940.3 L557.1,938.3 L557.5,936.4 L557.9,934.4 L558.3,932.5 L558.7,930.5 L559.1,928.5 L559.4,926.6 L559.8,924.6 L560.2,922.6 L560.6,920.7 L561.0,918.7 L561.3,916.8 L561.7,914.8 L562.1,912.8 L562.5,910.9 L562.9,908.9 L563.3,906.9 L563.7,905.0 L564.0,903.0 L564.4,901.1 L564.8,899.1 L565.2,897.1 L565.6,895.2 L566.1,893.2 L566.5,891.3 L566.9,889.3 L567.4,887.4 L567.8,885.4 L568.3,883.5 L568.8,881.5 L569.2,879.6 L569.7,877.7 L570.2,875.7 L570.7,873.8 L571.2,871.8 L571.6,869.9 L572.1,867.9 L572.5,866.0 L573.1,864.1 L573.8,862.3 L574.8,860.6 L576.0,859.1 L577.5,858.0 L579.1,857.1 L580.8,856.9 L582.4,857.3 L583.7,858.3 L584.8,859.8 L585.7,861.5 L586.5,863.3 L587.3,865.1 L587.9,867.0 L588.6,868.9 L589.1,870.8 L589.6,872.8 L590.1,874.7 L590.6,876.6 L591.1,878.6 L591.6,880.5 L592.1,882.5 L592.6,884.4 L593.0,886.4 L593.5,888.3 L594.0,890.2 L594.4,892.2 L594.9,894.1 L595.4,896.1 L595.9,898.0 L596.3,900.0 L596.8,901.9 L597.3,903.9 L597.7,905.8 L598.2,907.7 L598.7,909.7 L599.2,911.6 L599.6,913.6 L600.1,915.5 L600.6,917.5 L601.1,919.4 L601.5,921.3 L602.0,923.3 L602.5,925.2 L602.9,927.2 L603.4,929.1 L603.8,931.1 L604.3,933.0 L604.7,935.0 L605.1,936.9 L605.5,938.9 L605.9,940.9 L606.3,942.8 L606.7,944.8 L607.1,946.7 L607.6,948.7 L608.0,950.6 L608.4,952.6 L608.9,954.5 L609.3,956.5 L609.8,958.4 L610.3,960.4 L610.8,962.3 L611.3,964.2 L611.8,966.2 L612.3,968.1 L612.8,970.0 L613.3,972.0 L613.9,973.9 L614.4,975.8 L615.0,977.7 L615.6,979.7 L616.1,981.6 L616.7,983.5 L617.3,985.4 L618.0,987.3 L618.6,989.2 L619.3,991.1 L620.0,992.9 L620.7,994.8 L621.4,996.7 L622.1,998.5 L622.9,1000.4 L623.7,1002.2 L624.6,1004.0 L625.4,1005.8 L626.4,1007.6 L627.3,1009.3 L628.3,1011.1 L629.4,1012.7 L630.6,1014.3 L631.9,1015.8 L633.3,1017.2 L634.8,1018.5 L636.4,1019.7 L638.1,1020.8 L639.8,1021.8 L641.6,1022.7 L643.4,1023.6 L645.2,1024.4 L647.0,1025.1 L648.9,1025.8 L650.9,1026.2 L652.8,1026.5 L654.7,1026.5 L656.7,1026.2 L658.5,1025.6 L660.3,1024.8 L662.1,1023.9 L663.8,1022.8 L665.5,1021.8 L667.2,1020.7 L668.9,1019.7 L670.6,1018.7 L672.4,1017.7 L674.1,1016.7 L675.9,1015.8 L677.6,1014.9 L679.5,1014.0 L681.3,1013.4 L683.2,1012.8 L685.2,1012.4 L687.1,1012.0 L689.1,1011.8 L691.1,1011.6 L693.1,1011.6 L695.0,1011.8 L697.0,1012.3 L698.9,1012.9 L700.7,1013.6 L702.5,1014.5 L704.3,1015.4 L706.0,1016.4 L707.6,1017.6 L709.2,1018.8 L710.6,1020.1 L712.1,1021.5 L713.5,1022.9 L715.0,1024.3 L716.5,1025.6 L718.0,1026.8 L719.7,1028.0 L721.3,1029.1 L723.0,1030.2 L724.7,1031.3 L726.4,1032.3 L728.2,1033.1 L730.0,1033.9 L731.9,1034.5 L733.8,1035.0 L735.8,1035.5 L737.7,1035.9 L739.7,1036.2 L741.7,1036.6 L743.7,1036.9 L745.6,1037.1 L747.6,1037.3 L749.6,1037.5 L751.6,1037.6 L753.6,1037.7 L755.6,1037.7 L757.6,1037.7 L759.6,1037.6 L761.6,1037.5 L763.6,1037.3 L765.6,1037.2 L767.6,1037.1 L769.6,1037.1 L771.6,1037.2 L773.6,1037.4 L775.5,1037.7 L777.5,1037.9 L779.5,1038.0 L781.5,1038.0 L783.5,1037.8 L785.4,1037.4 L787.4,1037.0 L789.3,1036.4 L791.2,1035.8 L793.1,1035.1 L794.9,1034.4 L796.7,1033.5 L798.5,1032.6 L800.2,1031.6 L801.8,1030.4 L803.4,1029.2 L804.9,1027.9 L806.4,1026.6 L807.8,1025.2 L809.2,1023.8 L810.6,1022.3 L811.8,1020.8 L813.0,1019.2 L814.2,1017.5 L815.2,1015.8 L816.3,1014.1 L817.2,1012.4 L818.2,1010.6 L819.1,1008.8 L819.9,1007.0 L820.7,1005.2 L821.5,1003.3 L822.3,1001.5 L823.0,999.6 L823.6,997.7 L824.2,995.8 L824.8,993.9 L825.4,992.0 L825.9,990.1 L826.5,988.1 L827.0,986.2 L827.5,984.3 L827.9,982.3 L828.4,980.4 L828.8,978.4 L829.2,976.5 L829.6,974.5 L830.0,972.5 L830.3,970.6 L830.7,968.6 L831.0,966.6 L831.3,964.7 L831.7,962.7 L832.0,960.7 L832.3,958.7 L832.6,956.7 L832.9,954.8 L833.2,952.8 L833.4,950.8 L833.7,948.8 L834.0,946.9 L834.3,944.9 L834.6,942.9 L834.9,940.9 L835.2,938.9 L835.5,937.0 L835.7,935.0 L836.0,933.0 L836.3,931.0 L836.6,929.0 L836.9,927.1 L837.1,925.1 L837.4,923.1 L837.7,921.1 L838.0,919.1 L838.2,917.1 L838.5,915.2 L838.7,913.2 L839.0,911.2 L839.3,909.2 L839.5,907.2 L839.8,905.3 L840.0,903.3 L840.3,901.3 L840.5,899.3 L840.8,897.3 L841.0,895.3 L841.3,893.3 L841.6,891.4 L841.8,889.4 L842.1,887.4 L842.3,885.4 L842.6,883.4 L842.8,881.4 L843.1,879.5 L843.4,877.5 L843.6,875.5 L843.9,873.5 L844.2,871.5 L844.4,869.6 L844.7,867.6 L844.9,865.6 L845.2,863.6 L845.5,861.6 L845.7,859.6 L846.0,857.7 L846.2,855.7 L846.5,853.7 L846.8,851.7 L847.0,849.7 L847.3,847.7 L847.6,845.8 L847.8,843.8 L848.1,841.8 L848.4,839.8 L848.6,837.8 L848.9,835.8 L849.2,833.9 L849.4,831.9 L849.7,829.9 L850.0,827.9 L850.3,825.9 L850.5,824.0 L850.8,822.0 L851.1,820.0 L851.4,818.0 L851.6,816.0 L851.9,814.1 L852.1,812.1 L852.4,810.1 L852.6,808.1 L852.9,806.1 L853.2,804.1 L853.4,802.2 L853.7,800.2 L854.0,798.2 L854.3,796.2 L854.6,794.2 L854.9,792.3 L855.2,790.3 L855.6,788.3 L856.1,786.4 L856.6,784.5 L857.2,782.6 L857.9,780.7 L858.6,778.9 L859.5,777.2 L860.6,775.8 L862.0,774.9 L863.6,774.8 L865.2,775.4 L866.7,776.4 L867.9,777.8 L868.9,779.5 L869.6,781.3 L870.0,783.2 L870.3,785.2 L870.5,787.1 L870.7,789.1 L870.9,791.1 L871.0,793.1 L871.2,795.1 L871.3,797.1 L871.5,799.1 L871.6,801.1 L871.8,803.1 L871.9,805.1 L872.0,807.1 L872.2,809.1 L872.3,811.1 L872.4,813.1 L872.6,815.1 L872.7,817.1 L872.9,819.1 L873.0,821.1 L873.2,823.0 L873.3,825.0 L873.5,827.0 L873.7,829.0 L873.8,831.0 L874.0,833.0 L874.2,835.0 L874.3,837.0 L874.5,839.0 L874.6,841.0 L874.8,843.0 L874.9,845.0 L875.1,847.0 L875.3,849.0 L875.4,851.0 L875.6,853.0 L875.7,854.9 L875.9,856.9 L876.0,858.9 L876.2,860.9 L876.3,862.9 L876.5,864.9 L876.6,866.9 L876.8,868.9 L876.9,870.9 L877.1,872.9 L877.2,874.9 L877.3,876.9 L877.5,878.9 L877.6,880.9 L877.8,882.9 L877.9,884.9 L878.0,886.9 L878.2,888.9 L878.3,890.9 L878.4,892.9 L878.6,894.8 L878.7,896.8 L878.8,898.8 L879.0,900.8 L879.1,902.8 L879.2,904.8 L879.4,906.8 L879.5,908.8 L879.6,910.8 L879.8,912.8 L879.9,914.8 L880.0,916.8 L880.2,918.8 L880.3,920.8 L880.5,922.8 L880.6,924.8 L880.8,926.8 L880.9,928.8 L881.0,930.8 L881.2,932.8 L881.3,934.8 L881.4,936.7 L881.6,938.7 L881.7,940.7 L881.8,942.7 L882.0,944.7 L882.1,946.7 L882.3,948.7 L882.4,950.7 L882.5,952.7 L882.7,954.7 L882.8,956.7 L883.0,958.7 L883.2,960.7 L883.3,962.7 L883.5,964.7 L883.8,966.7 L884.0,968.6 L884.3,970.6 L884.6,972.6 L885.0,974.6 L885.4,976.5 L885.8,978.5 L886.3,980.4 L886.8,982.3 L887.3,984.3 L887.9,986.2 L888.5,988.1 L889.3,989.9 L890.1,991.8 L891.0,993.5 L892.0,995.3 L893.1,996.9 L894.3,998.4 L895.7,999.9 L897.1,1001.3 L898.6,1002.6 L900.1,1003.9 L901.7,1005.1 L903.3,1006.4 L904.9,1007.5 L906.5,1008.7 L908.2,1009.8 L909.8,1011.0 L911.5,1012.1 L913.1,1013.3 L914.7,1014.5 L916.2,1015.8 L917.7,1017.1 L919.2,1018.4 L920.7,1019.8 L922.2,1021.1 L923.7,1022.4 L925.2,1023.8 L926.7,1025.1 L928.2,1026.4 L929.7,1027.6 L931.3,1028.9 L932.8,1030.2 L934.3,1031.5 L936.0,1032.6 L937.7,1033.4 L939.5,1034.0 L941.5,1034.3 L943.4,1034.4 L945.4,1034.4 L947.4,1034.3 L949.4,1034.3 L951.4,1034.2 L953.4,1034.1 L955.4,1034.1 L957.4,1034.0 L959.4,1034.0 L961.4,1034.0 L963.4,1034.1 L965.4,1034.1 L967.4,1034.2 L969.4,1034.2 L971.4,1034.3 L973.4,1034.4 L975.4,1034.6 L977.4,1034.7 L979.4,1034.8 L981.4,1035.0 L983.4,1035.1 L985.4,1035.3 L987.4,1035.5 L989.4,1035.6 L991.4,1035.9 L993.3,1036.1 L995.3,1036.4 L997.3,1036.7 L999.3,1037.1 L1001.2,1037.5 L1003.2,1037.9 L1005.1,1038.2 L1007.1,1038.6 L1009.1,1039.0 L1011.1,1039.3 L1013.0,1039.5 L1015.0,1039.7 L1017.0,1039.8 L1019.0,1039.9 L1021.0,1039.9 L1023.0,1039.8 L1025.0,1039.8 L1027.0,1039.7 L1029.0,1039.7 L1031.0,1039.6 L1033.0,1039.5 L1035.0,1039.4 L1037.0,1039.3 L1039.0,1039.2 L1041.0,1039.0 L1043.0,1038.9 L1045.0,1038.8 L1047.0,1038.6 L1049.0,1038.5 L1051.0,1038.3 L1053.0,1038.2 L1055.0,1038.0 L1056.9,1037.8 L1058.9,1037.7 L1060.9,1037.5 L1062.9,1037.3 L1064.9,1037.2 L1066.9,1037.0 L1068.9,1036.8 L1070.9,1036.7 L1072.9,1036.5 L1074.9,1036.3 L1076.9,1036.1 L1078.9,1035.9 L1080.8,1035.6 L1082.8,1035.4 L1084.8,1035.1 L1086.8,1034.8 L1088.8,1034.5 L1090.7,1034.1 L1092.7,1033.7 L1094.6,1033.3 L1096.6,1032.8 L1098.5,1032.3 L1100.4,1031.7 L1102.3,1031.1 L1104.2,1030.5 L1106.1,1029.7 L1107.9,1029.0 L1109.7,1028.1 L1111.5,1027.3 L1113.3,1026.3 L1115.0,1025.3 L1116.6,1024.1 L1118.2,1022.9 L1119.6,1021.5 L1121.0,1020.1 L1122.3,1018.6 L1123.5,1017.0 L1124.8,1015.4 L1125.9,1013.8 L1127.1,1012.2 L1128.2,1010.5 L1129.3,1008.9 L1130.4,1007.2 L1131.4,1005.5 L1132.4,1003.7 L1133.4,1002.0 L1134.3,1000.2 L1135.2,998.4 L1136.0,996.6 L1136.9,994.8 L1137.7,993.0 L1138.5,991.1 L1139.3,989.3 L1140.0,987.4 L1140.8,985.6 L1141.6,983.7 L1142.3,981.9 L1143.1,980.0 L1143.8,978.2 L1144.5,976.3 L1145.2,974.4 L1145.9,972.6 L1146.6,970.7 L1147.3,968.8 L1147.9,966.9 L1148.6,965.0 L1149.2,963.1 L1149.8,961.2 L1150.5,959.3 L1151.1,957.4 L1151.7,955.5 L1152.3,953.6 L1152.9,951.7 L1153.5,949.8 L1154.1,947.9 L1154.7,946.0 L1155.3,944.1 L1155.9,942.2 L1156.5,940.3 L1157.2,938.4 L1157.8,936.5 L1158.4,934.6 L1159.0,932.6 L1159.5,930.7 L1160.1,928.8 L1160.7,926.9 L1161.2,925.0 L1161.8,923.0 L1162.3,921.1 L1162.9,919.2 L1163.5,917.3 L1164.1,915.4 L1164.7,913.5 L1165.3,911.6 L1165.9,909.7 L1166.6,907.8 L1167.4,906.0 L1168.2,904.1 L1169.1,902.4 L1170.1,900.6 L1171.1,898.9 L1172.2,897.2 L1173.3,895.6 L1174.6,894.2 L1176.1,893.1 L1177.7,892.4 L1179.4,892.4 L1181.0,893.1 L1182.6,894.1 L1184.0,895.5 L1185.3,897.0 L1186.4,898.6 L1187.5,900.3 L1188.4,902.1 L1189.2,903.9 L1189.8,905.8 L1190.5,907.7 L1191.1,909.6 L1191.6,911.5 L1192.1,913.4 L1192.7,915.4 L1193.2,917.3 L1193.7,919.2 L1194.2,921.2 L1194.7,923.1 L1195.2,925.0 L1195.7,927.0 L1196.2,928.9 L1196.7,930.8 L1197.2,932.8 L1197.7,934.7 L1198.2,936.6 L1198.7,938.6 L1199.2,940.5 L1199.7,942.5 L1200.2,944.4 L1200.6,946.3 L1201.1,948.3 L1201.6,950.2 L1202.0,952.2 L1202.5,954.1 L1203.0,956.1 L1203.4,958.0 L1203.9,960.0 L1204.4,961.9 L1204.9,963.8 L1205.4,965.8 L1205.9,967.7 L1206.5,969.6 L1207.0,971.5 L1207.6,973.5 L1208.1,975.4 L1208.7,977.3 L1209.2,979.2 L1209.8,981.1 L1210.4,983.1 L1211.0,985.0 L1211.6,986.9 L1212.2,988.8 L1212.8,990.7 L1213.5,992.6 L1214.1,994.5 L1214.9,996.3 L1215.6,998.2 L1216.4,1000.0 L1217.3,1001.8 L1218.2,1003.6 L1219.1,1005.3 L1220.1,1007.1 L1221.1,1008.8 L1222.2,1010.5 L1223.4,1012.1 L1224.7,1013.6 L1226.1,1015.0 L1227.6,1016.2 L1229.3,1017.3 L1231.0,1018.3 L1232.8,1019.1 L1234.6,1019.7 L1236.5,1020.0 L1238.4,1019.9 L1240.1,1019.3 L1241.8,1018.3 L1243.3,1017.1 L1244.7,1015.7 L1246.0,1014.2 L1247.3,1012.7 L1248.6,1011.1 L1249.9,1009.6 L1251.2,1008.1 L1252.4,1006.5 L1253.6,1004.9 L1254.7,1003.3 L1255.9,1001.6 L1257.0,999.9 L1258.0,998.2 L1259.1,996.5 L1260.1,994.8 L1261.1,993.1 L1262.1,991.4 L1263.1,989.6 L1264.1,987.9 L1265.1,986.1 L1266.0,984.4 L1266.9,982.6 L1267.8,980.8 L1268.7,979.0 L1269.5,977.2 L1270.4,975.4 L1271.2,973.6 L1272.0,971.7 L1272.8,969.9 L1273.5,968.0 L1274.3,966.2 L1275.0,964.3 L1275.7,962.4 L1276.4,960.6 L1277.0,958.7 L1277.6,956.8 L1278.2,954.8 L1278.7,952.9 L1279.3,951.0 L1279.8,949.1 L1280.3,947.1 L1280.8,945.2 L1281.4,943.3 L1282.0,941.4 L1282.6,939.5 L1283.3,937.6 L1284.0,935.7 L1284.8,933.9 L1285.7,932.1 L1286.6,930.3 L1287.5,928.7 L1288.7,927.3 L1290.6,926.5 L1292.5,927.5 L1293.6,928.9 L1294.4,930.6 L1295.1,932.5 L1295.8,934.4 L1296.4,936.3 L1297.0,938.2 L1297.6,940.1 L1298.2,942.0 L1298.7,943.9 L1299.2,945.9 L1299.6,947.8 L1300.0,949.8 L1300.3,951.7 L1300.7,953.7 L1301.0,955.7 L1301.3,957.7 L1301.6,959.7 L1301.9,961.6 L1302.2,963.6 L1302.5,965.6 L1302.8,967.6 L1303.2,969.5 L1303.6,971.5 L1304.2,973.3 L1305.0,975.1 L1306.0,976.8 L1307.3,978.3 L1308.7,979.6 L1310.3,980.6 L1312.1,981.2 L1313.9,981.3 L1315.6,980.9 L1317.3,980.1 L1318.8,978.9 L1320.3,977.5 L1321.6,976.1 L1322.9,974.5 L1324.2,973.0 L1325.5,971.5 L1326.7,969.9 L1327.9,968.3 L1329.1,966.7 L1330.2,965.0 L1331.3,963.4 L1332.4,961.7 L1333.5,960.0 L1334.6,958.4 L1335.8,956.8 L1337.0,955.2 L1338.3,953.7 L1339.7,952.2 L1341.1,950.8 L1342.6,949.5 L1344.2,948.3 L1345.9,947.4 L1347.7,946.7 L1349.6,946.4 L1351.5,946.4 L1353.5,946.6 L1355.4,946.9 L1357.2,947.5 L1358.9,948.4 L1360.3,949.6 L1361.5,951.1 L1362.5,952.8 L1363.3,954.6 L1364.1,956.4 L1364.9,958.3 L1365.6,960.2 L1366.3,962.0 L1367.0,963.9 L1367.7,965.8 L1368.4,967.7 L1369.1,969.5 L1369.9,971.4 L1370.6,973.2 L1371.4,975.1 L1372.2,976.9 L1373.0,978.8 L1373.7,980.6 L1374.5,982.5 L1375.2,984.3 L1375.9,986.2 L1376.7,988.1 L1377.4,989.9 L1378.1,991.8 L1378.9,993.6 L1379.7,995.5 L1380.5,997.3 L1381.3,999.1 L1382.1,1000.9 L1383.0,1002.7 L1383.9,1004.5 L1384.9,1006.3 L1385.8,1008.0 L1386.8,1009.8 L1387.8,1011.5 L1388.9,1013.2 L1389.9,1014.9 L1391.0,1016.6 L1392.1,1018.2 L1393.2,1019.9 L1394.4,1021.5 L1395.6,1023.1 L1396.9,1024.6 L1398.2,1026.2 L1399.4,1027.7 L1400.8,1029.2 L1402.1,1030.7 L1403.5,1032.1 L1404.9,1033.5 L1406.4,1034.9 L1407.9,1036.2 L1409.4,1037.5 L1411.0,1038.7 L1412.6,1039.9 L1414.2,1041.1 L1415.9,1042.2 L1417.6,1043.3 L1419.3,1044.3 L1421.0,1045.2 L1422.9,1046.0 L1424.8,1046.6 L1426.7,1047.1 L1428.6,1047.5 L1430.6,1047.9 L1432.6,1048.2 L1434.6,1048.5 L1436.5,1048.8 L1438.5,1049.1 L1440.5,1049.3 L1442.5,1049.5 L1444.5,1049.7 L1446.5,1049.9 L1448.5,1050.1 L1450.5,1050.3 L1452.4,1050.4 L1454.4,1050.6 L1456.4,1050.7 L1458.4,1050.9 L1460.4,1051.0 L1462.4,1051.1 L1464.4,1051.3 L1466.4,1051.4 L1468.4,1051.5 L1470.4,1051.6 L1472.4,1051.7 L1474.4,1051.8 L1476.4,1051.9 L1478.4,1052.0 L1480.4,1052.1 L1482.4,1052.2 L1484.4,1052.3 L1486.4,1052.4 L1488.4,1052.5 L1490.4,1052.6 L1492.4,1052.6 L1494.4,1052.7 L1496.4,1052.8 L1498.4,1052.8 L1500.4,1052.9 L1502.4,1053.0 L1504.4,1053.0 L1506.4,1053.1 L1508.4,1053.1 L1510.4,1053.2 L1512.4,1053.3 L1514.4,1053.3 L1516.4,1053.4 L1518.4,1053.4 L1520.4,1053.5 L1522.4,1053.5 L1524.4,1053.6 L1526.4,1053.6 L1528.4,1053.7 L1530.4,1053.7 L1532.4,1053.8 L1534.4,1053.8 L1536.4,1053.8 L1538.4,1053.9 L1540.4,1053.9 L1542.4,1053.9 L1544.4,1053.9 L1546.4,1053.8 L1548.4,1053.8 L1550.4,1053.7 L1552.4,1053.5 L1554.3,1053.3 L1556.3,1053.1 L1558.3,1052.9 L1560.3,1052.6 L1562.3,1052.3 L1564.2,1052.0 L1566.2,1051.6 L1568.2,1051.3 L1570.2,1050.9 L1572.1,1050.6 L1574.1,1050.3 L1576.1,1049.9 L1578.0,1049.6 L1580.0,1049.4 L1582.0,1049.1 L1584.0,1048.9 L1586.0,1048.7 L1588.0,1048.5 L1590.0,1048.4 L1592.0,1048.4 L1594.0,1048.5 L1595.9,1048.7 L1597.9,1049.0 L1599.8,1049.5 L1601.8,1050.0 L1603.7,1050.6 L1605.6,1051.3 L1607.4,1052.0 L1609.3,1052.6 L1611.2,1053.3 L1613.1,1053.9 L1615.1,1054.4 L1617.0,1054.7 L1619.0,1055.0 L1621.0,1055.1 L1622.9,1055.1 L1624.9,1054.9 L1626.9,1054.6 L1628.8,1054.2 L1630.7,1053.8 L1632.3,1053.3 L1634.6,1052.6 L1634.6,1052.6" fill="none" stroke="#ff0000" stroke-width="7.8" stroke-linejoin="round" stroke-linecap="round"/>
<path d="M194.5,1278.3 L196.3,1278.2 L198.6,1278.1 L200.5,1278.1 L202.5,1278.0 L204.5,1277.9 L206.5,1277.9 L208.5,1277.8 L210.5,1277.7 L212.5,1277.6 L214.5,1277.5 L216.5,1277.5 L218.5,1277.4 L220.5,1277.3 L222.5,1277.2 L224.5,1277.2 L226.5,1277.1 L228.5,1277.0 L230.5,1276.9 L232.5,1276.8 L234.5,1276.7 L236.5,1276.7 L238.5,1276.6 L240.5,1276.5 L242.5,1276.4 L244.5,1276.3 L246.5,1276.2 L248.5,1276.2 L250.5,1276.1 L252.5,1276.0 L254.5,1275.9 L256.4,1275.8 L258.4,1275.7 L260.4,1275.6 L262.4,1275.5 L264.4,1275.5 L266.4,1275.4 L268.4,1275.3 L270.4,1275.2 L272.4,1275.1 L274.4,1275.0 L276.4,1274.9 L278.4,1274.8 L280.4,1274.7 L282.4,1274.6 L284.4,1274.5 L286.4,1274.4 L288.4,1274.3 L290.4,1274.2 L292.4,1274.1 L294.4,1274.0 L296.4,1273.9 L298.4,1273.8 L300.4,1273.7 L302.4,1273.6 L304.4,1273.5 L306.4,1273.4 L308.4,1273.3 L310.4,1273.2 L312.4,1273.1 L314.4,1273.0 L316.4,1272.9 L318.4,1272.8 L320.4,1272.7 L322.4,1272.6 L324.4,1272.5 L326.4,1272.4 L328.4,1272.3 L330.4,1272.2 L332.4,1272.1 L334.4,1272.0 L336.4,1271.9 L338.3,1271.8 L340.3,1271.7 L342.3,1271.5 L344.3,1271.4 L346.3,1271.3 L348.3,1271.2 L350.3,1271.1 L352.3,1271.0 L354.3,1270.9 L356.3,1270.8 L358.3,1270.7 L360.3,1270.5 L362.3,1270.4 L364.3,1270.3 L366.3,1270.2 L368.3,1270.1 L370.3,1269.9 L372.3,1269.8 L374.3,1269.7 L376.3,1269.6 L378.3,1269.4 L380.3,1269.3 L382.3,1269.2 L384.3,1269.0 L386.3,1268.9 L388.3,1268.7 L390.3,1268.6 L392.2,1268.5 L394.2,1268.3 L396.2,1268.2 L398.2,1268.0 L400.2,1267.8 L402.2,1267.7 L404.2,1267.5 L406.2,1267.4 L408.2,1267.2 L410.2,1267.0 L412.2,1266.9 L414.2,1266.7 L416.2,1266.5 L418.2,1266.3 L420.2,1266.2 L422.1,1266.0 L424.1,1265.8 L426.1,1265.6 L428.1,1265.4 L430.1,1265.2 L432.1,1265.0 L434.1,1264.8 L436.1,1264.6 L438.1,1264.3 L440.0,1264.1 L442.0,1263.9 L444.0,1263.7 L446.0,1263.4 L448.0,1263.2 L450.0,1262.9 L452.0,1262.7 L453.9,1262.4 L455.9,1262.1 L457.9,1261.9 L459.9,1261.6 L461.9,1261.3 L463.8,1261.0 L465.8,1260.7 L467.8,1260.3 L469.8,1260.0 L471.7,1259.6 L473.7,1259.2 L475.6,1258.8 L477.6,1258.4 L479.6,1258.0 L481.5,1257.5 L483.4,1257.0 L485.4,1256.5 L487.3,1256.0 L489.2,1255.4 L491.1,1254.7 L492.9,1254.0 L494.8,1253.2 L496.6,1252.3 L498.3,1251.4 L500.1,1250.4 L501.7,1249.3 L503.4,1248.2 L505.0,1247.0 L506.6,1245.8 L508.1,1244.5 L509.6,1243.1 L511.0,1241.7 L512.4,1240.3 L513.8,1238.9 L515.2,1237.4 L516.5,1236.0 L517.8,1234.5 L519.1,1232.9 L520.4,1231.4 L521.6,1229.8 L522.8,1228.2 L524.0,1226.6 L525.1,1224.9 L526.2,1223.3 L527.3,1221.6 L528.3,1219.9 L529.3,1218.1 L530.3,1216.4 L531.2,1214.6 L532.1,1212.8 L532.9,1211.0 L533.8,1209.2 L534.6,1207.4 L535.5,1205.6 L536.3,1203.7 L537.1,1201.9 L538.0,1200.1 L538.8,1198.3 L539.6,1196.5 L540.5,1194.7 L541.3,1192.8 L542.1,1191.0 L542.9,1189.2 L543.7,1187.3 L544.4,1185.5 L545.2,1183.6 L546.0,1181.8 L546.7,1179.9 L547.4,1178.1 L548.1,1176.2 L548.8,1174.3 L549.5,1172.4 L550.2,1170.6 L550.9,1168.7 L551.6,1166.8 L552.3,1164.9 L553.0,1163.1 L553.8,1161.2 L554.5,1159.4 L555.3,1157.5 L556.1,1155.7 L556.9,1153.8 L557.7,1152.0 L558.5,1150.2 L559.3,1148.3 L560.0,1146.5 L560.8,1144.6 L561.6,1142.8 L562.3,1140.9 L563.0,1139.1 L563.7,1137.2 L564.5,1135.3 L565.2,1133.5 L565.9,1131.6 L566.7,1129.8 L567.5,1127.9 L568.3,1126.1 L569.2,1124.3 L570.2,1122.6 L571.1,1120.8 L572.2,1119.1 L573.2,1117.4 L574.4,1115.8 L575.6,1114.3 L576.9,1113.1 L578.3,1112.5 L580.4,1113.1 L581.6,1114.3 L582.7,1115.9 L583.8,1117.5 L584.8,1119.3 L585.8,1121.0 L586.8,1122.7 L587.8,1124.5 L588.7,1126.2 L589.6,1128.0 L590.6,1129.8 L591.5,1131.5 L592.5,1133.3 L593.4,1135.1 L594.4,1136.8 L595.4,1138.6 L596.3,1140.3 L597.3,1142.1 L598.1,1143.9 L599.0,1145.7 L599.8,1147.5 L600.6,1149.4 L601.3,1151.2 L601.9,1153.1 L602.5,1155.0 L603.2,1156.9 L603.8,1158.8 L604.4,1160.7 L605.0,1162.6 L605.6,1164.5 L606.2,1166.4 L606.9,1168.3 L607.5,1170.2 L608.2,1172.1 L608.8,1174.0 L609.5,1175.9 L610.2,1177.8 L610.9,1179.6 L611.6,1181.5 L612.4,1183.3 L613.2,1185.2 L614.0,1187.0 L614.8,1188.8 L615.7,1190.6 L616.6,1192.4 L617.5,1194.2 L618.5,1195.9 L619.5,1197.7 L620.5,1199.4 L621.5,1201.1 L622.5,1202.8 L623.6,1204.6 L624.6,1206.2 L625.7,1207.9 L626.9,1209.5 L628.1,1211.1 L629.3,1212.7 L630.6,1214.2 L631.9,1215.7 L633.3,1217.2 L634.7,1218.6 L636.1,1220.0 L637.7,1221.2 L639.3,1222.3 L641.1,1223.2 L642.9,1223.9 L644.8,1224.6 L646.7,1225.2 L648.7,1225.7 L650.6,1226.1 L652.6,1226.5 L654.5,1226.7 L656.5,1226.8 L658.5,1226.7 L660.5,1226.5 L662.4,1226.1 L664.3,1225.6 L666.3,1225.0 L668.2,1224.4 L670.1,1223.9 L672.0,1223.3 L673.9,1222.8 L675.9,1222.2 L677.8,1221.7 L679.7,1221.2 L681.7,1220.7 L683.6,1220.4 L685.6,1220.2 L687.6,1220.2 L689.6,1220.3 L691.6,1220.4 L693.5,1220.7 L695.5,1221.1 L697.5,1221.5 L699.4,1222.0 L701.3,1222.5 L703.2,1223.1 L705.1,1223.8 L706.9,1224.6 L708.7,1225.5 L710.5,1226.4 L712.3,1227.3 L714.1,1228.1 L715.9,1229.0 L717.7,1229.9 L719.5,1230.8 L721.3,1231.7 L723.0,1232.6 L724.8,1233.5 L726.6,1234.4 L728.5,1235.1 L730.4,1235.8 L732.3,1236.2 L734.2,1236.5 L736.2,1236.8 L738.2,1236.9 L740.2,1237.0 L742.2,1237.1 L744.2,1237.2 L746.2,1237.3 L748.2,1237.4 L750.2,1237.4 L752.2,1237.4 L754.2,1237.4 L756.2,1237.3 L758.2,1237.2 L760.2,1236.9 L762.1,1236.5 L764.1,1236.0 L766.0,1235.6 L767.9,1235.1 L769.9,1234.7 L771.9,1234.3 L773.8,1234.1 L775.8,1234.0 L777.8,1233.9 L779.8,1233.7 L781.7,1233.3 L783.5,1232.6 L785.2,1231.6 L786.8,1230.5 L788.4,1229.3 L790.0,1228.0 L791.5,1226.8 L793.1,1225.6 L794.7,1224.4 L796.3,1223.1 L797.8,1221.8 L799.3,1220.5 L800.7,1219.1 L802.0,1217.6 L803.3,1216.1 L804.5,1214.5 L805.7,1212.9 L806.7,1211.2 L807.8,1209.4 L808.7,1207.7 L809.7,1205.9 L810.6,1204.2 L811.5,1202.4 L812.4,1200.6 L813.3,1198.8 L814.2,1197.0 L815.1,1195.2 L815.9,1193.4 L816.7,1191.6 L817.5,1189.8 L818.3,1187.9 L819.1,1186.1 L819.8,1184.2 L820.6,1182.4 L821.3,1180.5 L822.0,1178.6 L822.6,1176.7 L823.3,1174.8 L823.9,1172.9 L824.5,1171.0 L825.1,1169.1 L825.6,1167.2 L826.2,1165.3 L826.8,1163.4 L827.3,1161.4 L827.9,1159.5 L828.5,1157.6 L829.0,1155.7 L829.6,1153.8 L830.1,1151.8 L830.7,1149.9 L831.2,1148.0 L831.8,1146.1 L832.3,1144.1 L832.8,1142.2 L833.4,1140.3 L833.9,1138.3 L834.4,1136.4 L834.9,1134.5 L835.5,1132.6 L836.0,1130.6 L836.5,1128.7 L837.0,1126.7 L837.5,1124.8 L838.0,1122.9 L838.5,1120.9 L838.9,1119.0 L839.4,1117.1 L839.9,1115.1 L840.4,1113.2 L840.9,1111.2 L841.3,1109.3 L841.8,1107.3 L842.3,1105.4 L842.8,1103.5 L843.3,1101.5 L843.8,1099.6 L844.2,1097.6 L844.7,1095.7 L845.2,1093.8 L845.7,1091.8 L846.2,1089.9 L846.7,1087.9 L847.1,1086.0 L847.6,1084.1 L848.1,1082.1 L848.6,1080.2 L849.1,1078.2 L849.6,1076.3 L850.1,1074.4 L850.6,1072.4 L851.0,1070.5 L851.5,1068.5 L852.0,1066.6 L852.4,1064.6 L852.9,1062.7 L853.4,1060.8 L853.9,1058.8 L854.4,1056.9 L855.0,1055.0 L855.6,1053.1 L856.3,1051.2 L857.1,1049.4 L857.9,1047.6 L858.8,1045.8 L859.8,1044.1 L860.9,1042.7 L862.2,1041.7 L864.3,1041.7 L865.6,1042.7 L866.7,1044.2 L867.5,1045.9 L868.2,1047.7 L868.8,1049.6 L869.2,1051.6 L869.5,1053.5 L869.8,1055.5 L870.1,1057.5 L870.4,1059.5 L870.6,1061.5 L870.9,1063.4 L871.1,1065.4 L871.4,1067.4 L871.6,1069.4 L871.8,1071.4 L872.0,1073.4 L872.2,1075.4 L872.4,1077.4 L872.6,1079.4 L872.8,1081.3 L873.0,1083.3 L873.1,1085.3 L873.3,1087.3 L873.5,1089.3 L873.7,1091.3 L873.9,1093.3 L874.1,1095.3 L874.3,1097.3 L874.5,1099.3 L874.8,1101.2 L875.0,1103.2 L875.3,1105.2 L875.5,1107.2 L875.8,1109.2 L876.1,1111.2 L876.4,1113.1 L876.7,1115.1 L877.0,1117.1 L877.3,1119.1 L877.6,1121.0 L877.9,1123.0 L878.2,1125.0 L878.6,1127.0 L878.9,1128.9 L879.2,1130.9 L879.4,1132.9 L879.7,1134.9 L880.0,1136.9 L880.3,1138.8 L880.6,1140.8 L880.8,1142.8 L881.1,1144.8 L881.4,1146.8 L881.7,1148.7 L882.0,1150.7 L882.3,1152.7 L882.6,1154.7 L882.9,1156.6 L883.3,1158.6 L883.7,1160.6 L884.1,1162.5 L884.5,1164.5 L884.9,1166.4 L885.4,1168.4 L885.9,1170.3 L886.4,1172.3 L886.9,1174.2 L887.4,1176.1 L888.0,1178.0 L888.5,1180.0 L889.1,1181.9 L889.7,1183.8 L890.3,1185.7 L891.0,1187.6 L891.6,1189.5 L892.3,1191.4 L893.0,1193.2 L893.7,1195.1 L894.5,1196.9 L895.3,1198.8 L896.2,1200.5 L897.1,1202.3 L898.1,1204.1 L899.1,1205.8 L900.2,1207.5 L901.3,1209.1 L902.5,1210.7 L903.8,1212.3 L905.1,1213.8 L906.5,1215.2 L907.9,1216.5 L909.5,1217.8 L911.1,1219.0 L912.7,1220.2 L914.4,1221.3 L916.1,1222.4 L917.7,1223.4 L919.4,1224.5 L921.1,1225.5 L922.8,1226.6 L924.5,1227.7 L926.2,1228.8 L927.9,1229.9 L929.6,1230.9 L931.3,1232.0 L933.0,1233.0 L934.7,1234.0 L936.5,1235.0 L938.2,1235.9 L940.0,1236.8 L941.8,1237.7 L943.6,1238.5 L945.4,1239.4 L947.2,1240.2 L949.0,1241.1 L950.9,1241.9 L952.7,1242.7 L954.5,1243.5 L956.4,1244.2 L958.3,1244.9 L960.2,1245.5 L962.1,1246.0 L964.1,1246.3 L966.1,1246.6 L968.0,1246.8 L970.0,1247.0 L972.0,1247.0 L974.0,1247.1 L976.0,1247.2 L978.0,1247.2 L980.0,1247.3 L982.0,1247.3 L984.0,1247.4 L986.0,1247.4 L988.0,1247.5 L990.0,1247.5 L992.0,1247.6 L994.0,1247.6 L996.0,1247.6 L998.0,1247.6 L1000.0,1247.7 L1002.0,1247.7 L1004.0,1247.7 L1006.0,1247.7 L1008.0,1247.7 L1010.0,1247.7 L1012.0,1247.7 L1014.0,1247.7 L1016.0,1247.7 L1018.0,1247.7 L1020.0,1247.7 L1022.0,1247.7 L1024.0,1247.7 L1026.0,1247.7 L1028.0,1247.7 L1030.0,1247.7 L1032.0,1247.7 L1034.0,1247.7 L1036.0,1247.7 L1038.0,1247.7 L1040.0,1247.7 L1042.0,1247.7 L1044.0,1247.7 L1046.0,1247.7 L1048.0,1247.7 L1050.0,1247.7 L1052.0,1247.7 L1054.0,1247.6 L1056.0,1247.6 L1058.0,1247.5 L1060.0,1247.4 L1062.0,1247.2 L1064.0,1247.0 L1066.0,1246.8 L1068.0,1246.6 L1069.9,1246.3 L1071.9,1246.0 L1073.9,1245.7 L1075.9,1245.3 L1077.8,1245.0 L1079.8,1244.6 L1081.8,1244.2 L1083.7,1243.8 L1085.6,1243.2 L1087.5,1242.6 L1089.4,1241.9 L1091.2,1241.2 L1093.1,1240.4 L1094.9,1239.6 L1096.7,1238.8 L1098.6,1237.9 L1100.4,1237.1 L1102.2,1236.2 L1103.9,1235.2 L1105.7,1234.3 L1107.4,1233.2 L1109.1,1232.2 L1110.7,1231.0 L1112.3,1229.9 L1113.9,1228.6 L1115.4,1227.3 L1116.9,1226.0 L1118.3,1224.6 L1119.7,1223.2 L1121.1,1221.7 L1122.4,1220.2 L1123.7,1218.7 L1125.0,1217.2 L1126.2,1215.6 L1127.4,1214.0 L1128.6,1212.4 L1129.7,1210.7 L1130.7,1209.0 L1131.7,1207.3 L1132.7,1205.5 L1133.6,1203.7 L1134.6,1202.0 L1135.5,1200.2 L1136.4,1198.4 L1137.3,1196.6 L1138.2,1194.9 L1139.1,1193.1 L1140.1,1191.3 L1141.0,1189.5 L1141.9,1187.7 L1142.8,1186.0 L1143.7,1184.2 L1144.6,1182.4 L1145.5,1180.6 L1146.3,1178.8 L1147.2,1177.0 L1148.1,1175.2 L1149.0,1173.4 L1149.9,1171.6 L1150.8,1169.8 L1151.6,1168.0 L1152.5,1166.2 L1153.4,1164.4 L1154.2,1162.6 L1155.0,1160.8 L1155.8,1158.9 L1156.7,1157.1 L1157.5,1155.3 L1158.3,1153.5 L1159.1,1151.7 L1160.0,1149.9 L1160.9,1148.1 L1161.9,1146.3 L1163.0,1144.7 L1164.1,1143.0 L1165.3,1141.4 L1166.6,1139.9 L1167.9,1138.4 L1169.3,1137.0 L1170.8,1135.6 L1172.3,1134.5 L1174.0,1133.6 L1175.7,1133.3 L1177.5,1133.5 L1179.1,1134.2 L1180.5,1135.4 L1181.8,1136.9 L1183.0,1138.5 L1184.1,1140.2 L1185.1,1141.9 L1186.1,1143.6 L1187.1,1145.3 L1188.1,1147.1 L1188.9,1148.9 L1189.7,1150.7 L1190.5,1152.6 L1191.2,1154.4 L1191.9,1156.3 L1192.6,1158.2 L1193.3,1160.1 L1194.0,1162.0 L1194.7,1163.8 L1195.3,1165.7 L1196.0,1167.6 L1196.8,1169.5 L1197.5,1171.3 L1198.2,1173.2 L1198.9,1175.1 L1199.6,1177.0 L1200.2,1178.8 L1200.9,1180.7 L1201.6,1182.6 L1202.3,1184.5 L1203.0,1186.4 L1203.6,1188.2 L1204.3,1190.1 L1205.1,1192.0 L1205.8,1193.8 L1206.5,1195.7 L1207.3,1197.5 L1208.1,1199.4 L1209.0,1201.2 L1209.8,1203.0 L1210.7,1204.8 L1211.6,1206.6 L1212.5,1208.3 L1213.4,1210.1 L1214.3,1211.9 L1215.3,1213.7 L1216.3,1215.4 L1217.4,1217.0 L1218.6,1218.6 L1220.0,1220.0 L1221.5,1221.3 L1223.2,1222.3 L1224.9,1223.2 L1226.8,1223.9 L1228.7,1224.5 L1230.6,1224.9 L1232.6,1225.2 L1234.5,1225.2 L1236.5,1225.0 L1238.4,1224.5 L1240.3,1223.9 L1242.1,1223.1 L1243.9,1222.2 L1245.6,1221.3 L1247.3,1220.2 L1249.0,1219.1 L1250.6,1217.9 L1252.1,1216.6 L1253.5,1215.2 L1254.9,1213.8 L1256.2,1212.3 L1257.4,1210.7 L1258.6,1209.1 L1259.8,1207.5 L1261.0,1205.9 L1262.2,1204.3 L1263.3,1202.6 L1264.5,1201.0 L1265.6,1199.3 L1266.7,1197.7 L1267.8,1196.0 L1268.8,1194.3 L1269.8,1192.5 L1270.8,1190.8 L1271.8,1189.1 L1272.8,1187.3 L1273.8,1185.6 L1274.8,1183.9 L1275.8,1182.1 L1276.8,1180.4 L1277.8,1178.7 L1278.8,1177.0 L1279.8,1175.2 L1280.8,1173.5 L1281.7,1171.7 L1282.6,1169.9 L1283.6,1168.2 L1284.5,1166.4 L1285.5,1164.7 L1286.5,1163.0 L1287.7,1161.5 L1289.1,1160.3 L1290.6,1159.6 L1292.1,1159.7 L1293.6,1160.5 L1294.9,1161.8 L1296.1,1163.3 L1297.1,1165.0 L1298.1,1166.7 L1299.1,1168.5 L1300.1,1170.2 L1301.1,1172.0 L1302.1,1173.7 L1303.0,1175.5 L1303.9,1177.3 L1304.7,1179.1 L1305.6,1180.9 L1306.5,1182.7 L1307.4,1184.4 L1308.4,1186.1 L1309.7,1187.6 L1311.1,1188.9 L1312.7,1189.9 L1314.5,1190.6 L1316.4,1191.2 L1318.4,1191.5 L1320.3,1191.6 L1322.3,1191.4 L1324.1,1190.9 L1325.9,1190.2 L1327.7,1189.2 L1329.4,1188.2 L1331.1,1187.2 L1332.8,1186.2 L1334.6,1185.3 L1336.4,1184.4 L1338.2,1183.6 L1340.1,1183.0 L1342.0,1182.5 L1343.9,1182.4 L1345.9,1182.6 L1347.8,1183.1 L1349.6,1183.8 L1351.4,1184.6 L1353.2,1185.5 L1354.9,1186.6 L1356.5,1187.7 L1358.0,1189.0 L1359.4,1190.4 L1360.7,1191.9 L1362.0,1193.4 L1363.2,1195.0 L1364.4,1196.6 L1365.6,1198.3 L1366.8,1199.9 L1368.0,1201.5 L1369.2,1203.0 L1370.4,1204.6 L1371.6,1206.2 L1372.8,1207.8 L1374.0,1209.5 L1375.2,1211.1 L1376.3,1212.7 L1377.5,1214.3 L1378.7,1215.9 L1379.9,1217.5 L1381.1,1219.1 L1382.3,1220.7 L1383.6,1222.3 L1384.8,1223.8 L1386.1,1225.4 L1387.3,1227.0 L1388.5,1228.5 L1389.8,1230.1 L1391.1,1231.6 L1392.4,1233.1 L1393.7,1234.6 L1395.1,1236.1 L1396.5,1237.5 L1397.9,1238.9 L1399.4,1240.2 L1400.9,1241.5 L1402.5,1242.8 L1404.1,1244.0 L1405.7,1245.1 L1407.4,1246.2 L1409.1,1247.3 L1410.8,1248.3 L1412.5,1249.4 L1414.2,1250.4 L1416.0,1251.3 L1417.7,1252.3 L1419.5,1253.3 L1421.2,1254.2 L1423.0,1255.1 L1424.8,1256.0 L1426.6,1256.8 L1428.5,1257.6 L1430.3,1258.3 L1432.2,1259.0 L1434.1,1259.6 L1436.0,1260.1 L1438.0,1260.6 L1439.9,1261.0 L1441.9,1261.4 L1443.9,1261.8 L1445.8,1262.2 L1447.8,1262.5 L1449.8,1262.8 L1451.7,1263.1 L1453.7,1263.4 L1455.7,1263.7 L1457.7,1264.0 L1459.7,1264.2 L1461.7,1264.5 L1463.6,1264.7 L1465.6,1264.9 L1467.6,1265.1 L1469.6,1265.3 L1471.6,1265.5 L1473.6,1265.7 L1475.6,1265.9 L1477.6,1266.1 L1479.6,1266.3 L1481.6,1266.4 L1483.6,1266.6 L1485.5,1266.8 L1487.5,1267.0 L1489.5,1267.1 L1491.5,1267.3 L1493.5,1267.4 L1495.5,1267.6 L1497.5,1267.7 L1499.5,1267.9 L1501.5,1268.0 L1503.5,1268.1 L1505.5,1268.3 L1507.5,1268.4 L1509.5,1268.4 L1511.5,1268.5 L1513.5,1268.6 L1515.5,1268.6 L1517.5,1268.7 L1519.5,1268.7 L1521.5,1268.7 L1523.5,1268.6 L1525.5,1268.6 L1527.5,1268.5 L1529.5,1268.4 L1531.5,1268.3 L1533.5,1268.2 L1535.5,1268.1 L1537.5,1267.9 L1539.5,1267.7 L1541.4,1267.6 L1543.4,1267.4 L1545.4,1267.2 L1547.4,1267.0 L1549.4,1266.8 L1551.4,1266.6 L1553.4,1266.5 L1555.4,1266.3 L1557.4,1266.1 L1559.4,1265.9 L1561.4,1265.7 L1563.3,1265.5 L1565.3,1265.3 L1567.3,1265.0 L1569.3,1264.8 L1571.3,1264.5 L1573.3,1264.2 L1575.3,1264.0 L1577.2,1263.8 L1579.2,1263.6 L1581.2,1263.4 L1583.2,1263.3 L1585.2,1263.2 L1587.2,1263.2 L1589.2,1263.2 L1591.2,1263.3 L1593.2,1263.5 L1595.2,1263.7 L1597.2,1263.9 L1599.1,1264.2 L1601.1,1264.5 L1603.1,1264.7 L1605.1,1265.0 L1607.1,1265.3 L1609.1,1265.5 L1611.1,1265.7 L1613.0,1265.8 L1615.0,1265.8 L1617.0,1265.8 L1619.0,1265.8 L1621.0,1265.7 L1623.0,1265.7 L1625.0,1265.5 L1627.0,1265.4 L1629.0,1265.2 L1630.9,1265.0 L1632.6,1264.8 L1635.0,1264.5 L1635.0,1264.5" fill="none" stroke="#000" stroke-width="7.8" stroke-linejoin="round" stroke-linecap="round"/>
<path d="M194.5,1418.5 L196.3,1418.4 L198.6,1418.4 L200.5,1418.3 L202.5,1418.2 L204.5,1418.2 L206.5,1418.1 L208.5,1418.0 L210.5,1417.9 L212.5,1417.9 L214.5,1417.8 L216.5,1417.7 L218.5,1417.7 L220.5,1417.6 L222.5,1417.5 L224.5,1417.4 L226.5,1417.3 L228.5,1417.3 L230.5,1417.2 L232.5,1417.1 L234.5,1417.0 L236.5,1416.9 L238.5,1416.9 L240.5,1416.8 L242.5,1416.7 L244.5,1416.6 L246.5,1416.5 L248.5,1416.4 L250.5,1416.4 L252.5,1416.3 L254.5,1416.2 L256.5,1416.1 L258.5,1416.0 L260.4,1415.9 L262.4,1415.8 L264.4,1415.8 L266.4,1415.7 L268.4,1415.6 L270.4,1415.5 L272.4,1415.4 L274.4,1415.3 L276.4,1415.2 L278.4,1415.1 L280.4,1415.0 L282.4,1414.9 L284.4,1414.8 L286.4,1414.7 L288.4,1414.6 L290.4,1414.5 L292.4,1414.4 L294.4,1414.3 L296.4,1414.2 L298.4,1414.1 L300.4,1414.0 L302.4,1413.9 L304.4,1413.8 L306.4,1413.7 L308.4,1413.6 L310.4,1413.5 L312.4,1413.4 L314.4,1413.3 L316.4,1413.1 L318.4,1413.0 L320.4,1412.9 L322.4,1412.8 L324.4,1412.7 L326.4,1412.6 L328.4,1412.5 L330.4,1412.4 L332.4,1412.3 L334.4,1412.2 L336.4,1412.1 L338.3,1411.9 L340.3,1411.8 L342.3,1411.7 L344.3,1411.6 L346.3,1411.5 L348.3,1411.4 L350.3,1411.3 L352.3,1411.2 L354.3,1411.1 L356.3,1410.9 L358.3,1410.8 L360.3,1410.7 L362.3,1410.6 L364.3,1410.5 L366.3,1410.4 L368.3,1410.2 L370.3,1410.1 L372.3,1410.0 L374.3,1409.9 L376.3,1409.7 L378.3,1409.6 L380.3,1409.5 L382.3,1409.4 L384.3,1409.2 L386.3,1409.1 L388.3,1408.9 L390.3,1408.8 L392.2,1408.7 L394.2,1408.5 L396.2,1408.4 L398.2,1408.2 L400.2,1408.1 L402.2,1407.9 L404.2,1407.8 L406.2,1407.6 L408.2,1407.4 L410.2,1407.3 L412.2,1407.1 L414.2,1407.0 L416.2,1406.8 L418.2,1406.6 L420.2,1406.4 L422.2,1406.3 L424.1,1406.1 L426.1,1405.9 L428.1,1405.7 L430.1,1405.6 L432.1,1405.4 L434.1,1405.2 L436.1,1405.0 L438.1,1404.8 L440.1,1404.6 L442.1,1404.4 L444.1,1404.2 L446.0,1404.0 L448.0,1403.8 L450.0,1403.6 L452.0,1403.3 L454.0,1403.1 L456.0,1402.9 L458.0,1402.7 L460.0,1402.5 L461.9,1402.2 L463.9,1402.0 L465.9,1401.8 L467.9,1401.6 L469.9,1401.3 L471.9,1401.1 L473.9,1400.8 L475.8,1400.6 L477.8,1400.3 L479.8,1400.0 L481.8,1399.7 L483.7,1399.3 L485.7,1399.0 L487.7,1398.6 L489.6,1398.1 L491.5,1397.6 L493.4,1397.0 L495.3,1396.3 L497.2,1395.5 L499.0,1394.7 L500.8,1393.9 L502.6,1393.0 L504.4,1392.1 L506.1,1391.2 L507.9,1390.2 L509.6,1389.2 L511.3,1388.1 L512.9,1387.0 L514.5,1385.8 L516.1,1384.5 L517.6,1383.2 L519.0,1381.8 L520.4,1380.3 L521.7,1378.9 L523.0,1377.3 L524.3,1375.8 L525.5,1374.2 L526.8,1372.6 L528.0,1371.0 L529.1,1369.4 L530.3,1367.8 L531.4,1366.1 L532.4,1364.4 L533.5,1362.7 L534.5,1361.0 L535.4,1359.2 L536.4,1357.5 L537.2,1355.7 L538.1,1353.8 L538.9,1352.0 L539.6,1350.2 L540.3,1348.3 L541.0,1346.4 L541.7,1344.5 L542.4,1342.7 L543.0,1340.8 L543.7,1338.9 L544.4,1337.0 L545.0,1335.1 L545.7,1333.2 L546.3,1331.3 L547.0,1329.4 L547.6,1327.5 L548.2,1325.6 L548.8,1323.7 L549.5,1321.8 L550.1,1319.9 L550.7,1318.0 L551.3,1316.1 L551.9,1314.2 L552.5,1312.3 L553.1,1310.4 L553.7,1308.5 L554.3,1306.6 L554.8,1304.6 L555.4,1302.7 L556.0,1300.8 L556.5,1298.9 L557.1,1297.0 L557.7,1295.1 L558.3,1293.1 L558.8,1291.2 L559.4,1289.3 L560.0,1287.4 L560.6,1285.5 L561.2,1283.6 L561.8,1281.7 L562.4,1279.8 L563.0,1277.9 L563.6,1276.0 L564.3,1274.1 L564.9,1272.2 L565.6,1270.3 L566.3,1268.4 L567.0,1266.5 L567.7,1264.7 L568.4,1262.8 L569.1,1260.9 L569.9,1259.1 L570.7,1257.2 L571.5,1255.4 L572.4,1253.7 L573.5,1252.0 L574.8,1250.5 L576.2,1249.2 L577.8,1248.1 L579.6,1247.3 L581.4,1246.6 L583.4,1246.1 L585.3,1245.9 L587.1,1245.9 L588.7,1246.4 L589.9,1247.4 L590.8,1248.9 L591.5,1250.7 L592.1,1252.6 L592.6,1254.5 L593.1,1256.4 L593.6,1258.4 L594.2,1260.3 L594.7,1262.2 L595.2,1264.2 L595.7,1266.1 L596.2,1268.0 L596.7,1270.0 L597.2,1271.9 L597.8,1273.8 L598.3,1275.8 L598.8,1277.7 L599.4,1279.6 L599.9,1281.5 L600.5,1283.4 L601.1,1285.4 L601.6,1287.3 L602.2,1289.2 L602.8,1291.1 L603.3,1293.0 L603.9,1295.0 L604.5,1296.9 L605.0,1298.8 L605.6,1300.7 L606.1,1302.6 L606.6,1304.6 L607.1,1306.5 L607.6,1308.4 L608.1,1310.4 L608.6,1312.3 L609.1,1314.2 L609.6,1316.2 L610.2,1318.1 L610.7,1320.1 L611.2,1322.0 L611.7,1323.9 L612.3,1325.8 L612.8,1327.8 L613.4,1329.7 L614.0,1331.6 L614.6,1333.5 L615.1,1335.4 L615.7,1337.3 L616.3,1339.2 L617.0,1341.1 L617.6,1343.0 L618.3,1344.9 L619.0,1346.8 L619.8,1348.6 L620.7,1350.4 L621.5,1352.2 L622.4,1354.0 L623.4,1355.7 L624.4,1357.5 L625.4,1359.2 L626.5,1360.9 L627.6,1362.5 L628.9,1364.1 L630.2,1365.6 L631.6,1367.0 L633.0,1368.4 L634.4,1369.8 L635.9,1371.1 L637.5,1372.4 L639.1,1373.6 L640.8,1374.6 L642.5,1375.5 L644.4,1376.1 L646.3,1376.5 L648.3,1376.7 L650.2,1376.7 L652.2,1376.6 L654.2,1376.5 L656.2,1376.4 L658.2,1376.3 L660.2,1376.1 L662.2,1375.9 L664.2,1375.5 L666.1,1375.1 L668.0,1374.6 L669.9,1374.0 L671.8,1373.3 L673.7,1372.7 L675.6,1372.0 L677.5,1371.5 L679.4,1370.9 L681.4,1370.3 L683.3,1369.8 L685.2,1369.2 L687.1,1368.7 L689.1,1368.3 L691.0,1368.0 L693.0,1367.8 L695.0,1367.7 L697.0,1367.9 L698.9,1368.2 L700.9,1368.7 L702.8,1369.2 L704.7,1369.9 L706.5,1370.6 L708.4,1371.4 L710.2,1372.2 L711.9,1373.2 L713.6,1374.2 L715.3,1375.3 L716.9,1376.4 L718.6,1377.6 L720.3,1378.6 L722.0,1379.6 L723.9,1380.4 L725.7,1381.1 L727.6,1381.8 L729.5,1382.5 L731.4,1383.1 L733.3,1383.6 L735.2,1384.2 L737.2,1384.7 L739.1,1385.1 L741.1,1385.4 L743.1,1385.7 L745.0,1385.9 L747.0,1386.0 L749.0,1386.1 L751.0,1386.0 L753.0,1386.0 L755.0,1386.0 L757.0,1385.9 L759.0,1385.8 L761.0,1385.7 L763.0,1385.7 L765.0,1385.6 L767.0,1385.5 L769.0,1385.4 L771.0,1385.3 L773.0,1385.2 L775.0,1385.1 L777.0,1385.0 L779.0,1384.8 L781.0,1384.6 L782.9,1384.2 L784.9,1383.8 L786.8,1383.2 L788.7,1382.6 L790.6,1381.9 L792.4,1381.2 L794.3,1380.4 L796.1,1379.6 L797.9,1378.7 L799.6,1377.7 L801.3,1376.7 L802.9,1375.5 L804.5,1374.3 L806.0,1373.0 L807.3,1371.5 L808.6,1370.0 L809.7,1368.3 L810.8,1366.6 L811.8,1364.9 L812.8,1363.2 L813.8,1361.4 L814.7,1359.7 L815.7,1357.9 L816.6,1356.1 L817.5,1354.4 L818.4,1352.6 L819.3,1350.8 L820.2,1349.0 L821.0,1347.2 L821.8,1345.3 L822.6,1343.5 L823.3,1341.6 L824.1,1339.8 L824.8,1337.9 L825.5,1336.0 L826.2,1334.2 L826.8,1332.3 L827.4,1330.4 L828.0,1328.5 L828.6,1326.6 L829.2,1324.6 L829.8,1322.7 L830.4,1320.8 L830.9,1318.9 L831.5,1317.0 L832.1,1315.1 L832.6,1313.1 L833.2,1311.2 L833.7,1309.3 L834.3,1307.4 L834.8,1305.4 L835.4,1303.5 L835.9,1301.6 L836.4,1299.7 L837.0,1297.7 L837.5,1295.8 L838.0,1293.9 L838.5,1291.9 L839.0,1290.0 L839.6,1288.1 L840.1,1286.1 L840.6,1284.2 L841.1,1282.3 L841.7,1280.4 L842.2,1278.4 L842.7,1276.5 L843.3,1274.6 L843.8,1272.6 L844.3,1270.7 L844.8,1268.8 L845.4,1266.9 L845.9,1264.9 L846.4,1263.0 L847.0,1261.1 L847.5,1259.1 L848.1,1257.2 L848.6,1255.3 L849.2,1253.4 L849.8,1251.5 L850.5,1249.6 L851.1,1247.7 L851.8,1245.8 L852.5,1243.9 L853.2,1242.1 L853.9,1240.2 L854.6,1238.3 L855.4,1236.5 L856.1,1234.6 L856.9,1232.8 L857.7,1231.0 L858.5,1229.1 L859.2,1227.3 L860.0,1225.4 L860.7,1223.6 L861.5,1221.7 L862.3,1219.9 L863.3,1218.4 L864.4,1217.2 L866.3,1216.9 L868.1,1218.4 L869.1,1220.0 L869.9,1221.8 L870.7,1223.6 L871.4,1225.5 L872.0,1227.4 L872.5,1229.4 L872.9,1231.3 L873.3,1233.3 L873.6,1235.2 L873.9,1237.2 L874.2,1239.2 L874.5,1241.2 L874.8,1243.1 L875.1,1245.1 L875.4,1247.1 L875.7,1249.1 L876.0,1251.1 L876.3,1253.0 L876.6,1255.0 L876.9,1257.0 L877.2,1259.0 L877.5,1260.9 L877.8,1262.9 L878.1,1264.9 L878.4,1266.9 L878.7,1268.9 L879.0,1270.8 L879.2,1272.8 L879.5,1274.8 L879.8,1276.8 L880.1,1278.8 L880.4,1280.7 L880.7,1282.7 L881.0,1284.7 L881.3,1286.7 L881.6,1288.6 L881.8,1290.6 L882.1,1292.6 L882.4,1294.6 L882.7,1296.6 L883.0,1298.5 L883.3,1300.5 L883.6,1302.5 L883.9,1304.5 L884.2,1306.5 L884.5,1308.4 L884.9,1310.4 L885.2,1312.4 L885.6,1314.3 L885.9,1316.3 L886.3,1318.3 L886.7,1320.2 L887.0,1322.2 L887.4,1324.2 L887.8,1326.1 L888.2,1328.1 L888.7,1330.0 L889.1,1332.0 L889.6,1333.9 L890.2,1335.8 L890.8,1337.7 L891.4,1339.6 L892.1,1341.5 L892.8,1343.4 L893.5,1345.3 L894.3,1347.1 L895.1,1348.9 L896.0,1350.7 L897.0,1352.4 L898.0,1354.1 L899.2,1355.7 L900.5,1357.2 L901.9,1358.6 L903.4,1359.9 L905.0,1361.2 L906.6,1362.3 L908.2,1363.5 L909.9,1364.6 L911.5,1365.7 L913.2,1366.9 L914.8,1368.1 L916.4,1369.2 L918.0,1370.4 L919.7,1371.6 L921.3,1372.7 L923.0,1373.8 L924.6,1374.9 L926.3,1376.0 L928.0,1377.0 L929.7,1378.1 L931.4,1379.1 L933.2,1380.1 L934.9,1381.1 L936.7,1381.9 L938.6,1382.7 L940.5,1383.2 L942.4,1383.7 L944.4,1384.1 L946.3,1384.4 L948.3,1384.8 L950.3,1385.1 L952.2,1385.5 L954.2,1385.9 L956.1,1386.4 L958.1,1386.8 L960.0,1387.3 L962.0,1387.7 L963.9,1388.1 L965.9,1388.5 L967.9,1388.8 L969.9,1389.0 L971.9,1389.3 L973.8,1389.5 L975.8,1389.7 L977.8,1389.9 L979.8,1390.1 L981.8,1390.3 L983.8,1390.5 L985.8,1390.7 L987.8,1390.9 L989.8,1391.0 L991.8,1391.2 L993.8,1391.3 L995.8,1391.4 L997.8,1391.5 L999.8,1391.5 L1001.8,1391.6 L1003.7,1391.6 L1005.7,1391.6 L1007.7,1391.6 L1009.7,1391.5 L1011.7,1391.5 L1013.7,1391.4 L1015.7,1391.3 L1017.7,1391.2 L1019.7,1391.1 L1021.7,1391.0 L1023.7,1390.9 L1025.7,1390.8 L1027.7,1390.6 L1029.7,1390.5 L1031.7,1390.3 L1033.7,1390.2 L1035.7,1390.0 L1037.7,1389.9 L1039.7,1389.7 L1041.7,1389.6 L1043.7,1389.4 L1045.7,1389.2 L1047.7,1389.1 L1049.7,1389.0 L1051.7,1388.8 L1053.7,1388.7 L1055.6,1388.6 L1057.6,1388.4 L1059.6,1388.3 L1061.6,1388.2 L1063.6,1388.1 L1065.6,1387.9 L1067.6,1387.8 L1069.6,1387.7 L1071.6,1387.5 L1073.6,1387.4 L1075.6,1387.2 L1077.6,1387.1 L1079.6,1386.9 L1081.6,1386.7 L1083.6,1386.5 L1085.6,1386.3 L1087.5,1386.1 L1089.5,1385.8 L1091.5,1385.6 L1093.5,1385.3 L1095.5,1384.9 L1097.4,1384.5 L1099.4,1384.1 L1101.3,1383.6 L1103.2,1383.1 L1105.1,1382.5 L1107.0,1381.8 L1108.9,1381.1 L1110.7,1380.2 L1112.4,1379.2 L1114.0,1378.1 L1115.5,1376.8 L1117.0,1375.5 L1118.4,1374.1 L1119.8,1372.6 L1121.1,1371.1 L1122.4,1369.5 L1123.6,1368.0 L1124.9,1366.4 L1126.1,1364.9 L1127.3,1363.3 L1128.5,1361.7 L1129.7,1360.1 L1130.8,1358.4 L1131.9,1356.7 L1133.0,1355.0 L1134.0,1353.3 L1135.0,1351.6 L1136.0,1349.9 L1137.0,1348.1 L1138.0,1346.4 L1138.9,1344.6 L1139.9,1342.8 L1140.8,1341.1 L1141.7,1339.3 L1142.6,1337.5 L1143.6,1335.8 L1144.5,1334.0 L1145.4,1332.2 L1146.3,1330.4 L1147.1,1328.6 L1148.0,1326.8 L1148.8,1325.0 L1149.7,1323.2 L1150.5,1321.3 L1151.3,1319.5 L1152.1,1317.7 L1152.9,1315.8 L1153.7,1314.0 L1154.5,1312.2 L1155.3,1310.4 L1156.2,1308.5 L1157.0,1306.7 L1157.9,1304.9 L1158.7,1303.1 L1159.6,1301.3 L1160.5,1299.5 L1161.4,1297.7 L1162.3,1296.0 L1163.2,1294.2 L1164.1,1292.4 L1165.0,1290.6 L1166.0,1288.8 L1166.9,1287.1 L1167.9,1285.3 L1168.9,1283.6 L1170.0,1281.9 L1171.1,1280.3 L1172.2,1278.6 L1173.4,1277.0 L1174.6,1275.4 L1175.8,1273.8 L1177.1,1272.3 L1178.5,1271.1 L1180.0,1270.4 L1181.5,1270.3 L1182.9,1271.0 L1184.1,1272.2 L1185.1,1273.9 L1186.0,1275.6 L1186.8,1277.5 L1187.5,1279.3 L1188.3,1281.2 L1189.0,1283.0 L1189.8,1284.9 L1190.5,1286.8 L1191.1,1288.6 L1191.8,1290.5 L1192.4,1292.4 L1192.9,1294.4 L1193.5,1296.3 L1194.1,1298.2 L1194.6,1300.1 L1195.1,1302.0 L1195.7,1304.0 L1196.2,1305.9 L1196.8,1307.8 L1197.3,1309.7 L1197.9,1311.7 L1198.5,1313.6 L1199.1,1315.5 L1199.7,1317.4 L1200.3,1319.3 L1200.9,1321.2 L1201.5,1323.1 L1202.1,1325.0 L1202.7,1326.9 L1203.4,1328.8 L1204.0,1330.7 L1204.6,1332.6 L1205.2,1334.5 L1205.9,1336.4 L1206.5,1338.3 L1207.2,1340.2 L1207.9,1342.1 L1208.6,1343.9 L1209.3,1345.8 L1210.1,1347.6 L1211.0,1349.4 L1211.9,1351.2 L1212.8,1353.0 L1213.8,1354.7 L1214.8,1356.4 L1215.8,1358.2 L1216.9,1359.8 L1218.1,1361.5 L1219.2,1363.1 L1220.5,1364.6 L1221.9,1366.1 L1223.3,1367.5 L1224.8,1368.7 L1226.4,1369.9 L1228.1,1371.0 L1229.9,1371.9 L1231.7,1372.6 L1233.6,1372.9 L1235.5,1373.0 L1237.5,1372.8 L1239.4,1372.4 L1241.3,1371.8 L1243.1,1371.0 L1245.0,1370.3 L1246.8,1369.4 L1248.6,1368.5 L1250.3,1367.6 L1252.0,1366.5 L1253.7,1365.4 L1255.3,1364.2 L1256.8,1362.9 L1258.3,1361.6 L1259.7,1360.2 L1261.2,1358.8 L1262.5,1357.4 L1263.9,1355.9 L1265.2,1354.4 L1266.5,1352.8 L1267.7,1351.2 L1268.8,1349.6 L1269.9,1347.9 L1271.0,1346.3 L1272.1,1344.6 L1273.2,1342.9 L1274.2,1341.2 L1275.2,1339.5 L1276.3,1337.8 L1277.3,1336.0 L1278.3,1334.3 L1279.4,1332.6 L1280.4,1330.9 L1281.3,1329.1 L1282.3,1327.4 L1283.2,1325.6 L1284.2,1323.9 L1285.2,1322.1 L1286.2,1320.4 L1287.2,1318.7 L1288.3,1317.0 L1289.4,1315.3 L1290.6,1313.8 L1291.8,1312.4 L1293.2,1311.6 L1295.3,1311.8 L1296.5,1312.8 L1297.6,1314.3 L1298.5,1316.0 L1299.5,1317.8 L1300.4,1319.5 L1301.3,1321.3 L1302.2,1323.1 L1303.1,1324.9 L1304.0,1326.7 L1304.9,1328.4 L1305.8,1330.2 L1306.7,1332.0 L1307.7,1333.8 L1308.7,1335.4 L1310.0,1337.0 L1311.3,1338.4 L1312.9,1339.6 L1314.5,1340.6 L1316.3,1341.3 L1318.1,1341.6 L1320.0,1341.5 L1321.8,1340.9 L1323.4,1339.9 L1325.0,1338.7 L1326.6,1337.5 L1328.1,1336.1 L1329.6,1334.8 L1331.1,1333.5 L1332.6,1332.2 L1334.0,1330.8 L1335.5,1329.5 L1336.9,1328.0 L1338.3,1326.6 L1339.7,1325.2 L1341.2,1323.9 L1342.8,1322.7 L1344.4,1321.6 L1346.2,1320.9 L1348.0,1320.5 L1349.9,1320.5 L1351.8,1320.9 L1353.6,1321.6 L1355.4,1322.5 L1357.1,1323.5 L1358.7,1324.7 L1360.3,1325.9 L1361.8,1327.2 L1363.2,1328.6 L1364.5,1330.1 L1365.7,1331.7 L1366.8,1333.4 L1367.9,1335.0 L1369.0,1336.7 L1370.0,1338.4 L1371.1,1340.1 L1372.1,1341.8 L1373.2,1343.5 L1374.3,1345.2 L1375.3,1346.9 L1376.3,1348.6 L1377.3,1350.4 L1378.3,1352.1 L1379.3,1353.8 L1380.3,1355.6 L1381.3,1357.3 L1382.3,1359.1 L1383.3,1360.8 L1384.3,1362.5 L1385.4,1364.2 L1386.4,1365.9 L1387.6,1367.5 L1388.7,1369.2 L1389.9,1370.8 L1391.1,1372.4 L1392.3,1374.0 L1393.6,1375.5 L1394.8,1377.1 L1396.1,1378.6 L1397.5,1380.1 L1398.9,1381.5 L1400.3,1382.9 L1401.7,1384.3 L1403.2,1385.6 L1404.7,1386.9 L1406.3,1388.2 L1407.9,1389.3 L1409.6,1390.3 L1411.4,1391.3 L1413.2,1392.2 L1415.0,1393.0 L1416.8,1393.8 L1418.7,1394.5 L1420.6,1395.2 L1422.4,1395.9 L1424.3,1396.6 L1426.2,1397.2 L1428.2,1397.7 L1430.1,1398.2 L1432.0,1398.7 L1434.0,1399.1 L1436.0,1399.5 L1437.9,1399.8 L1439.9,1400.0 L1441.9,1400.3 L1443.9,1400.5 L1445.9,1400.7 L1447.9,1400.9 L1449.9,1401.1 L1451.8,1401.3 L1453.8,1401.5 L1455.8,1401.6 L1457.8,1401.8 L1459.8,1402.0 L1461.8,1402.1 L1463.8,1402.2 L1465.8,1402.3 L1467.8,1402.4 L1469.8,1402.5 L1471.8,1402.6 L1473.8,1402.7 L1475.8,1402.7 L1477.8,1402.8 L1479.8,1402.8 L1481.8,1402.8 L1483.8,1402.8 L1485.8,1402.8 L1487.8,1402.8 L1489.8,1402.8 L1491.8,1402.8 L1493.8,1402.8 L1495.8,1402.8 L1497.8,1402.8 L1499.8,1402.8 L1501.8,1402.8 L1503.8,1402.8 L1505.8,1402.8 L1507.8,1402.8 L1509.8,1402.8 L1511.8,1402.8 L1513.8,1402.8 L1515.8,1402.8 L1517.8,1402.8 L1519.8,1402.8 L1521.8,1402.8 L1523.8,1402.8 L1525.8,1402.8 L1527.8,1402.8 L1529.8,1402.8 L1531.8,1402.8 L1533.8,1402.8 L1535.8,1402.8 L1537.8,1402.7 L1539.8,1402.7 L1541.8,1402.6 L1543.8,1402.6 L1545.8,1402.5 L1547.8,1402.4 L1549.8,1402.3 L1551.8,1402.2 L1553.8,1402.1 L1555.8,1402.0 L1557.8,1401.9 L1559.8,1401.7 L1561.8,1401.6 L1563.8,1401.5 L1565.8,1401.3 L1567.8,1401.2 L1569.7,1401.1 L1571.7,1400.9 L1573.7,1400.7 L1575.7,1400.5 L1577.7,1400.3 L1579.7,1400.0 L1581.7,1399.7 L1583.6,1399.4 L1585.6,1399.1 L1587.6,1398.7 L1589.6,1398.4 L1591.5,1398.1 L1593.5,1397.8 L1595.5,1397.6 L1597.5,1397.4 L1599.5,1397.3 L1601.5,1397.2 L1603.5,1397.2 L1605.5,1397.2 L1607.5,1397.2 L1609.5,1397.2 L1611.5,1397.2 L1613.5,1397.2 L1615.5,1397.3 L1617.5,1397.3 L1619.5,1397.3 L1621.5,1397.4 L1623.5,1397.4 L1625.5,1397.5 L1627.5,1397.6 L1629.4,1397.7 L1631.2,1397.8 L1634.5,1398.0 L1634.5,1398.0" fill="none" stroke="#ff0000" stroke-width="7.8" stroke-linejoin="round" stroke-linecap="round"/>
<path d="M179.5,2252.2 L181.3,2252.1 L183.6,2252.1 L185.5,2252.0 L187.5,2251.9 L189.5,2251.9 L191.5,2251.8 L193.5,2251.7 L195.5,2251.6 L197.5,2251.6 L199.5,2251.5 L201.5,2251.4 L203.5,2251.4 L205.5,2251.3 L207.5,2251.2 L209.5,2251.1 L211.5,2251.0 L213.5,2251.0 L215.5,2250.9 L217.5,2250.8 L219.5,2250.7 L221.5,2250.6 L223.5,2250.6 L225.5,2250.5 L227.5,2250.4 L229.5,2250.3 L231.5,2250.2 L233.5,2250.1 L235.5,2250.1 L237.5,2250.0 L239.5,2249.9 L241.5,2249.8 L243.5,2249.7 L245.4,2249.6 L247.4,2249.5 L249.4,2249.5 L251.4,2249.4 L253.4,2249.3 L255.4,2249.2 L257.4,2249.1 L259.4,2249.0 L261.4,2248.9 L263.4,2248.8 L265.4,2248.7 L267.4,2248.6 L269.4,2248.5 L271.4,2248.4 L273.4,2248.3 L275.4,2248.2 L277.4,2248.1 L279.4,2248.0 L281.4,2247.9 L283.4,2247.8 L285.4,2247.7 L287.4,2247.6 L289.4,2247.4 L291.4,2247.3 L293.4,2247.2 L295.4,2247.1 L297.4,2247.0 L299.4,2246.9 L301.4,2246.8 L303.4,2246.7 L305.4,2246.6 L307.4,2246.5 L309.4,2246.4 L311.4,2246.3 L313.4,2246.2 L315.4,2246.1 L317.4,2246.0 L319.4,2245.9 L321.4,2245.8 L323.4,2245.7 L325.3,2245.6 L327.3,2245.5 L329.3,2245.5 L331.3,2245.4 L333.3,2245.3 L335.3,2245.2 L337.3,2245.1 L339.3,2245.0 L341.3,2244.9 L343.3,2244.8 L345.3,2244.7 L347.3,2244.6 L349.3,2244.5 L351.3,2244.5 L353.3,2244.4 L355.3,2244.3 L357.3,2244.1 L359.3,2244.0 L361.3,2243.9 L363.3,2243.8 L365.3,2243.7 L367.3,2243.6 L369.3,2243.5 L371.3,2243.3 L373.3,2243.2 L375.3,2243.1 L377.3,2242.9 L379.3,2242.8 L381.3,2242.7 L383.3,2242.5 L385.3,2242.4 L387.3,2242.2 L389.2,2242.0 L391.2,2241.9 L393.2,2241.7 L395.2,2241.5 L397.2,2241.4 L399.2,2241.2 L401.2,2241.0 L403.2,2240.8 L405.2,2240.6 L407.2,2240.4 L409.2,2240.2 L411.1,2240.0 L413.1,2239.8 L415.1,2239.5 L417.1,2239.3 L419.1,2239.1 L421.1,2238.8 L423.1,2238.6 L425.0,2238.3 L427.0,2238.1 L429.0,2237.8 L431.0,2237.5 L433.0,2237.2 L435.0,2237.0 L436.9,2236.7 L438.9,2236.4 L440.9,2236.1 L442.9,2235.7 L444.8,2235.4 L446.8,2235.1 L448.8,2234.7 L450.7,2234.3 L452.7,2234.0 L454.7,2233.5 L456.6,2233.1 L458.6,2232.6 L460.5,2232.2 L462.4,2231.7 L464.4,2231.1 L466.3,2230.5 L468.2,2229.9 L470.1,2229.3 L471.9,2228.6 L473.8,2227.9 L475.6,2227.0 L477.4,2226.1 L479.1,2225.1 L480.7,2223.9 L482.3,2222.7 L483.8,2221.4 L485.2,2220.0 L486.6,2218.6 L487.9,2217.1 L489.2,2215.5 L490.4,2213.9 L491.5,2212.3 L492.6,2210.6 L493.7,2208.9 L494.7,2207.2 L495.6,2205.5 L496.6,2203.7 L497.4,2201.9 L498.3,2200.1 L499.0,2198.2 L499.8,2196.4 L500.4,2194.5 L501.1,2192.6 L501.7,2190.7 L502.2,2188.8 L502.8,2186.8 L503.3,2184.9 L503.8,2183.0 L504.3,2181.0 L504.8,2179.1 L505.4,2177.2 L505.9,2175.2 L506.4,2173.3 L506.9,2171.4 L507.4,2169.4 L507.8,2167.5 L508.3,2165.5 L508.8,2163.6 L509.3,2161.7 L509.7,2159.7 L510.1,2157.8 L510.6,2155.8 L511.0,2153.8 L511.4,2151.9 L511.8,2149.9 L512.2,2148.0 L512.6,2146.0 L513.0,2144.1 L513.4,2142.1 L513.8,2140.1 L514.2,2138.2 L514.6,2136.2 L515.0,2134.2 L515.3,2132.3 L515.7,2130.3 L516.1,2128.4 L516.5,2126.4 L516.9,2124.4 L517.3,2122.5 L517.7,2120.5 L518.1,2118.5 L518.4,2116.6 L518.8,2114.6 L519.2,2112.7 L519.6,2110.7 L520.0,2108.7 L520.4,2106.8 L520.8,2104.8 L521.2,2102.9 L521.6,2100.9 L522.0,2098.9 L522.4,2097.0 L522.8,2095.0 L523.2,2093.1 L523.6,2091.1 L524.0,2089.1 L524.5,2087.2 L524.9,2085.2 L525.4,2083.3 L525.8,2081.3 L526.3,2079.4 L526.7,2077.5 L527.2,2075.5 L527.7,2073.6 L528.1,2071.6 L528.6,2069.7 L529.1,2067.7 L529.6,2065.8 L530.1,2063.9 L530.6,2061.9 L531.1,2060.0 L531.6,2058.1 L532.1,2056.1 L532.6,2054.2 L533.0,2052.2 L533.5,2050.3 L534.0,2048.3 L534.4,2046.4 L534.9,2044.4 L535.4,2042.5 L535.9,2040.6 L536.4,2038.7 L537.0,2036.7 L537.5,2034.8 L538.1,2032.9 L538.8,2031.0 L539.6,2029.2 L540.6,2027.6 L541.8,2026.3 L543.3,2025.5 L544.8,2025.3 L546.2,2026.0 L547.4,2027.2 L548.3,2028.8 L549.1,2030.6 L549.7,2032.5 L550.3,2034.4 L550.7,2036.4 L551.1,2038.3 L551.5,2040.3 L551.8,2042.3 L552.2,2044.3 L552.5,2046.2 L552.8,2048.2 L553.2,2050.2 L553.5,2052.1 L553.8,2054.1 L554.1,2056.1 L554.5,2058.1 L554.8,2060.0 L555.0,2062.0 L555.3,2064.0 L555.6,2066.0 L555.8,2068.0 L556.1,2070.0 L556.3,2071.9 L556.5,2073.9 L556.8,2075.9 L557.0,2077.9 L557.1,2079.9 L557.3,2081.9 L557.5,2083.9 L557.7,2085.9 L557.9,2087.9 L558.1,2089.8 L558.4,2091.8 L558.6,2093.8 L558.8,2095.8 L559.0,2097.8 L559.3,2099.8 L559.5,2101.8 L559.8,2103.7 L560.0,2105.7 L560.3,2107.7 L560.5,2109.7 L560.8,2111.7 L561.0,2113.7 L561.3,2115.7 L561.5,2117.6 L561.8,2119.6 L562.0,2121.6 L562.3,2123.6 L562.5,2125.6 L562.7,2127.6 L563.0,2129.6 L563.2,2131.5 L563.5,2133.5 L563.8,2135.5 L564.1,2137.5 L564.3,2139.5 L564.6,2141.4 L564.9,2143.4 L565.2,2145.4 L565.5,2147.4 L565.8,2149.4 L566.1,2151.3 L566.4,2153.3 L566.8,2155.3 L567.1,2157.2 L567.4,2159.2 L567.8,2161.2 L568.1,2163.2 L568.5,2165.1 L568.8,2167.1 L569.2,2169.1 L569.6,2171.0 L570.0,2173.0 L570.4,2174.9 L570.9,2176.9 L571.5,2178.8 L572.0,2180.7 L572.6,2182.6 L573.3,2184.5 L574.0,2186.4 L574.7,2188.2 L575.5,2190.1 L576.4,2191.9 L577.3,2193.7 L578.2,2195.4 L579.1,2197.2 L580.1,2198.9 L581.2,2200.6 L582.2,2202.3 L583.4,2204.0 L584.6,2205.5 L585.9,2207.0 L587.3,2208.4 L588.8,2209.8 L590.3,2211.1 L591.9,2212.3 L593.6,2213.4 L595.3,2214.4 L597.1,2215.3 L598.9,2216.1 L600.8,2216.8 L602.7,2217.3 L604.6,2217.8 L606.6,2218.2 L608.5,2218.4 L610.5,2218.5 L612.5,2218.5 L614.5,2218.3 L616.5,2218.1 L618.5,2217.8 L620.4,2217.4 L622.3,2216.9 L624.2,2216.3 L626.1,2215.6 L627.9,2214.8 L629.8,2214.0 L631.6,2213.1 L633.4,2212.2 L635.1,2211.3 L636.9,2210.4 L638.7,2209.5 L640.4,2208.5 L642.2,2207.5 L643.9,2206.5 L645.6,2205.6 L647.4,2204.7 L649.3,2204.0 L651.2,2203.5 L653.1,2203.1 L655.1,2202.9 L657.1,2202.7 L659.1,2202.6 L661.1,2202.6 L663.0,2202.8 L664.8,2203.2 L666.5,2204.1 L668.0,2205.3 L669.4,2206.7 L670.7,2208.2 L672.0,2209.6 L673.4,2211.1 L674.9,2212.4 L676.4,2213.7 L677.9,2215.0 L679.5,2216.3 L681.1,2217.5 L682.7,2218.7 L684.3,2219.8 L686.0,2220.8 L687.8,2221.6 L689.7,2222.3 L691.6,2222.9 L693.5,2223.3 L695.5,2223.7 L697.5,2224.0 L699.5,2224.2 L701.5,2224.4 L703.4,2224.6 L705.4,2224.7 L707.4,2224.8 L709.4,2224.8 L711.4,2224.8 L713.4,2224.8 L715.4,2224.8 L717.4,2224.8 L719.4,2224.8 L721.4,2224.8 L723.4,2224.8 L725.4,2224.8 L727.4,2224.8 L729.4,2224.7 L731.4,2224.6 L733.4,2224.3 L735.3,2223.9 L737.3,2223.4 L739.2,2222.9 L741.1,2222.3 L743.0,2221.8 L745.0,2221.2 L746.9,2220.8 L748.9,2220.4 L750.8,2220.2 L752.8,2220.1 L754.8,2220.0 L756.8,2220.0 L758.8,2220.0 L760.8,2219.8 L762.7,2219.5 L764.5,2218.9 L766.2,2217.9 L767.7,2216.7 L769.1,2215.3 L770.4,2213.8 L771.7,2212.3 L772.9,2210.7 L774.2,2209.2 L775.3,2207.5 L776.4,2205.9 L777.5,2204.2 L778.5,2202.4 L779.4,2200.7 L780.3,2198.9 L781.1,2197.1 L781.9,2195.2 L782.6,2193.4 L783.3,2191.5 L783.9,2189.6 L784.5,2187.7 L785.0,2185.7 L785.5,2183.8 L786.0,2181.9 L786.5,2179.9 L787.0,2178.0 L787.4,2176.0 L787.9,2174.1 L788.3,2172.1 L788.7,2170.2 L789.0,2168.2 L789.4,2166.2 L789.7,2164.3 L790.0,2162.3 L790.4,2160.3 L790.7,2158.3 L791.0,2156.4 L791.3,2154.4 L791.6,2152.4 L791.8,2150.4 L792.1,2148.4 L792.4,2146.5 L792.7,2144.5 L793.0,2142.5 L793.3,2140.5 L793.6,2138.5 L793.9,2136.6 L794.2,2134.6 L794.5,2132.6 L794.8,2130.6 L795.1,2128.7 L795.4,2126.7 L795.7,2124.7 L796.0,2122.7 L796.3,2120.7 L796.6,2118.8 L796.8,2116.8 L797.1,2114.8 L797.4,2112.8 L797.6,2110.8 L797.9,2108.9 L798.1,2106.9 L798.4,2104.9 L798.6,2102.9 L798.9,2100.9 L799.1,2098.9 L799.3,2096.9 L799.6,2095.0 L799.8,2093.0 L800.0,2091.0 L800.3,2089.0 L800.5,2087.0 L800.7,2085.0 L801.0,2083.0 L801.2,2081.1 L801.5,2079.1 L801.7,2077.1 L801.9,2075.1 L802.2,2073.1 L802.4,2071.1 L802.6,2069.1 L802.9,2067.2 L803.1,2065.2 L803.3,2063.2 L803.6,2061.2 L803.8,2059.2 L804.0,2057.2 L804.3,2055.2 L804.5,2053.2 L804.8,2051.3 L805.0,2049.3 L805.3,2047.3 L805.5,2045.3 L805.8,2043.3 L806.0,2041.3 L806.3,2039.4 L806.6,2037.4 L806.8,2035.4 L807.1,2033.4 L807.4,2031.4 L807.6,2029.5 L807.9,2027.5 L808.2,2025.5 L808.4,2023.5 L808.7,2021.5 L808.9,2019.5 L809.2,2017.6 L809.5,2015.6 L809.7,2013.6 L810.0,2011.6 L810.3,2009.6 L810.5,2007.6 L810.8,2005.7 L811.1,2003.7 L811.4,2001.7 L811.6,1999.7 L811.9,1997.7 L812.2,1995.8 L812.4,1993.8 L812.7,1991.8 L813.0,1989.8 L813.2,1987.8 L813.5,1985.8 L813.8,1983.9 L814.1,1981.9 L814.3,1979.9 L814.6,1977.9 L814.9,1975.9 L815.2,1974.0 L815.4,1972.0 L815.7,1970.0 L816.0,1968.0 L816.3,1966.0 L816.5,1964.1 L816.8,1962.1 L817.1,1960.1 L817.3,1958.1 L817.6,1956.1 L817.9,1954.1 L818.1,1952.2 L818.4,1950.2 L818.7,1948.2 L819.0,1946.2 L819.3,1944.3 L819.7,1942.3 L820.1,1940.3 L820.5,1938.4 L821.1,1936.5 L821.6,1934.5 L822.2,1932.6 L822.9,1930.9 L823.8,1929.3 L825.0,1928.3 L827.0,1928.4 L828.3,1929.3 L829.4,1930.8 L830.2,1932.5 L830.8,1934.4 L831.1,1936.3 L831.4,1938.3 L831.6,1940.3 L831.8,1942.2 L832.0,1944.2 L832.2,1946.2 L832.4,1948.2 L832.6,1950.2 L832.8,1952.2 L832.9,1954.2 L833.1,1956.2 L833.3,1958.2 L833.5,1960.2 L833.7,1962.2 L833.8,1964.2 L834.0,1966.1 L834.2,1968.1 L834.3,1970.1 L834.5,1972.1 L834.7,1974.1 L834.8,1976.1 L835.0,1978.1 L835.1,1980.1 L835.3,1982.1 L835.4,1984.1 L835.5,1986.1 L835.7,1988.1 L835.8,1990.1 L835.9,1992.1 L836.1,1994.1 L836.2,1996.1 L836.3,1998.1 L836.4,2000.1 L836.5,2002.1 L836.6,2004.1 L836.8,2006.0 L836.9,2008.0 L837.0,2010.0 L837.1,2012.0 L837.2,2014.0 L837.3,2016.0 L837.5,2018.0 L837.6,2020.0 L837.7,2022.0 L837.8,2024.0 L837.9,2026.0 L838.0,2028.0 L838.2,2030.0 L838.3,2032.0 L838.4,2034.0 L838.5,2036.0 L838.6,2038.0 L838.8,2040.0 L838.9,2042.0 L839.0,2044.0 L839.1,2046.0 L839.2,2048.0 L839.3,2050.0 L839.5,2052.0 L839.6,2054.0 L839.7,2056.0 L839.8,2058.0 L839.9,2060.0 L840.1,2062.0 L840.2,2063.9 L840.3,2065.9 L840.4,2067.9 L840.5,2069.9 L840.6,2071.9 L840.8,2073.9 L840.9,2075.9 L841.0,2077.9 L841.1,2079.9 L841.2,2081.9 L841.4,2083.9 L841.5,2085.9 L841.6,2087.9 L841.7,2089.9 L841.8,2091.9 L842.0,2093.9 L842.1,2095.9 L842.2,2097.9 L842.3,2099.9 L842.5,2101.9 L842.6,2103.9 L842.7,2105.9 L842.8,2107.9 L843.0,2109.9 L843.1,2111.9 L843.2,2113.9 L843.4,2115.8 L843.5,2117.8 L843.6,2119.8 L843.8,2121.8 L843.9,2123.8 L844.1,2125.8 L844.2,2127.8 L844.3,2129.8 L844.5,2131.8 L844.6,2133.8 L844.8,2135.8 L845.0,2137.8 L845.1,2139.8 L845.3,2141.8 L845.5,2143.8 L845.7,2145.8 L845.9,2147.7 L846.1,2149.7 L846.4,2151.7 L846.6,2153.7 L846.9,2155.7 L847.1,2157.7 L847.4,2159.6 L847.7,2161.6 L848.0,2163.6 L848.4,2165.6 L848.7,2167.5 L849.1,2169.5 L849.5,2171.5 L849.9,2173.4 L850.4,2175.4 L850.8,2177.3 L851.3,2179.3 L851.8,2181.2 L852.4,2183.1 L853.0,2185.0 L853.8,2186.8 L854.8,2188.5 L856.0,2190.0 L857.4,2191.4 L859.0,2192.5 L860.7,2193.4 L862.5,2194.1 L864.5,2194.6 L866.4,2195.0 L868.3,2195.5 L870.2,2196.1 L871.9,2196.9 L873.5,2198.1 L875.0,2199.3 L876.5,2200.7 L877.9,2202.0 L879.4,2203.4 L880.9,2204.7 L882.4,2206.1 L883.9,2207.4 L885.4,2208.7 L886.9,2210.0 L888.4,2211.3 L890.0,2212.6 L891.5,2213.9 L893.0,2215.2 L894.6,2216.4 L896.2,2217.6 L897.9,2218.7 L899.6,2219.6 L901.4,2220.5 L903.3,2221.2 L905.1,2221.9 L907.0,2222.5 L908.9,2223.1 L910.9,2223.6 L912.8,2224.1 L914.8,2224.6 L916.7,2225.0 L918.7,2225.4 L920.6,2225.7 L922.6,2226.1 L924.6,2226.4 L926.6,2226.7 L928.6,2226.9 L930.5,2227.2 L932.5,2227.4 L934.5,2227.6 L936.5,2227.8 L938.5,2228.0 L940.5,2228.1 L942.5,2228.2 L944.5,2228.3 L946.5,2228.4 L948.5,2228.5 L950.5,2228.6 L952.5,2228.7 L954.5,2228.8 L956.5,2228.9 L958.5,2229.0 L960.5,2229.1 L962.5,2229.1 L964.5,2229.2 L966.5,2229.3 L968.5,2229.3 L970.5,2229.4 L972.5,2229.4 L974.5,2229.4 L976.5,2229.5 L978.5,2229.5 L980.5,2229.5 L982.5,2229.5 L984.5,2229.5 L986.5,2229.5 L988.5,2229.5 L990.5,2229.5 L992.5,2229.5 L994.5,2229.4 L996.5,2229.4 L998.5,2229.4 L1000.5,2229.4 L1002.5,2229.3 L1004.5,2229.3 L1006.5,2229.3 L1008.5,2229.2 L1010.5,2229.2 L1012.5,2229.2 L1014.5,2229.1 L1016.5,2229.1 L1018.5,2229.0 L1020.5,2229.0 L1022.5,2228.9 L1024.5,2228.9 L1026.5,2228.8 L1028.5,2228.7 L1030.4,2228.5 L1032.4,2228.4 L1034.4,2228.2 L1036.4,2228.0 L1038.4,2227.7 L1040.4,2227.5 L1042.4,2227.3 L1044.4,2227.0 L1046.3,2226.7 L1048.3,2226.5 L1050.3,2226.2 L1052.3,2226.0 L1054.3,2225.7 L1056.3,2225.5 L1058.2,2225.2 L1060.2,2225.0 L1062.2,2224.8 L1064.2,2224.6 L1066.2,2224.4 L1068.2,2224.2 L1070.2,2223.9 L1072.2,2223.6 L1074.1,2223.3 L1076.1,2223.0 L1078.0,2222.5 L1079.9,2222.0 L1081.7,2221.2 L1083.5,2220.2 L1085.1,2219.1 L1086.6,2217.8 L1088.1,2216.5 L1089.5,2215.0 L1090.8,2213.6 L1092.2,2212.1 L1093.5,2210.6 L1094.8,2209.1 L1096.0,2207.5 L1097.2,2205.9 L1098.4,2204.3 L1099.5,2202.6 L1100.5,2200.9 L1101.6,2199.2 L1102.6,2197.5 L1103.7,2195.8 L1104.7,2194.1 L1105.7,2192.4 L1106.7,2190.6 L1107.7,2188.9 L1108.7,2187.1 L1109.6,2185.4 L1110.6,2183.6 L1111.5,2181.9 L1112.4,2180.1 L1113.3,2178.3 L1114.1,2176.5 L1115.0,2174.6 L1115.8,2172.8 L1116.6,2171.0 L1117.3,2169.1 L1118.0,2167.3 L1118.7,2165.4 L1119.4,2163.5 L1120.0,2161.6 L1120.6,2159.7 L1121.2,2157.8 L1121.8,2155.9 L1122.4,2154.0 L1123.0,2152.1 L1123.6,2150.2 L1124.3,2148.3 L1124.9,2146.4 L1125.5,2144.5 L1126.2,2142.6 L1126.8,2140.7 L1127.5,2138.8 L1128.2,2136.9 L1128.9,2135.1 L1129.6,2133.2 L1130.3,2131.3 L1131.0,2129.4 L1131.7,2127.5 L1132.3,2125.7 L1133.0,2123.8 L1133.6,2121.9 L1134.3,2120.0 L1134.9,2118.1 L1135.4,2116.2 L1135.9,2114.2 L1136.5,2112.3 L1137.0,2110.4 L1137.5,2108.4 L1138.0,2106.5 L1138.6,2104.6 L1139.2,2102.7 L1139.9,2100.8 L1140.8,2099.0 L1141.7,2097.3 L1142.9,2095.7 L1144.2,2094.3 L1145.6,2093.3 L1147.1,2093.0 L1148.5,2093.4 L1149.8,2094.4 L1150.9,2096.0 L1151.8,2097.7 L1152.6,2099.5 L1153.3,2101.4 L1154.0,2103.2 L1154.7,2105.1 L1155.4,2107.0 L1156.0,2108.9 L1156.6,2110.8 L1157.1,2112.8 L1157.6,2114.7 L1158.0,2116.6 L1158.5,2118.6 L1158.9,2120.6 L1159.2,2122.5 L1159.6,2124.5 L1160.0,2126.4 L1160.4,2128.4 L1160.7,2130.4 L1161.1,2132.3 L1161.5,2134.3 L1161.9,2136.3 L1162.3,2138.2 L1162.7,2140.2 L1163.2,2142.1 L1163.6,2144.1 L1164.0,2146.0 L1164.5,2148.0 L1164.9,2149.9 L1165.4,2151.9 L1165.8,2153.8 L1166.3,2155.8 L1166.8,2157.7 L1167.2,2159.7 L1167.7,2161.6 L1168.1,2163.6 L1168.6,2165.5 L1169.0,2167.5 L1169.4,2169.4 L1169.9,2171.4 L1170.3,2173.3 L1170.7,2175.3 L1171.1,2177.2 L1171.5,2179.2 L1171.9,2181.2 L1172.3,2183.1 L1172.8,2185.1 L1173.2,2187.0 L1173.7,2189.0 L1174.1,2190.9 L1174.7,2192.8 L1175.3,2194.7 L1176.0,2196.6 L1176.7,2198.4 L1177.5,2200.3 L1178.4,2202.1 L1179.3,2203.9 L1180.2,2205.6 L1181.3,2207.3 L1182.4,2209.0 L1183.6,2210.5 L1185.0,2211.9 L1186.5,2213.2 L1188.2,2214.2 L1189.9,2215.1 L1191.8,2215.9 L1193.6,2216.6 L1195.6,2217.1 L1197.5,2217.4 L1199.5,2217.4 L1201.4,2217.2 L1203.3,2216.7 L1205.1,2216.0 L1206.9,2215.1 L1208.6,2214.0 L1210.2,2212.9 L1211.8,2211.8 L1213.4,2210.5 L1214.9,2209.2 L1216.3,2207.8 L1217.7,2206.4 L1219.0,2204.9 L1220.3,2203.3 L1221.5,2201.7 L1222.7,2200.1 L1223.9,2198.5 L1225.1,2196.9 L1226.2,2195.3 L1227.4,2193.7 L1228.5,2192.0 L1229.6,2190.3 L1230.7,2188.6 L1231.7,2186.9 L1232.7,2185.2 L1233.8,2183.5 L1234.8,2181.8 L1235.7,2180.0 L1236.7,2178.3 L1237.7,2176.5 L1238.6,2174.7 L1239.5,2173.0 L1240.5,2171.2 L1241.4,2169.4 L1242.2,2167.6 L1243.1,2165.8 L1243.9,2164.0 L1244.8,2162.2 L1245.6,2160.3 L1246.3,2158.5 L1247.1,2156.6 L1247.8,2154.8 L1248.5,2152.9 L1249.2,2151.0 L1249.8,2149.1 L1250.6,2147.3 L1251.3,2145.4 L1252.1,2143.6 L1252.9,2141.7 L1253.8,2140.0 L1254.7,2138.2 L1255.7,2136.5 L1256.8,2134.8 L1258.0,2133.4 L1259.4,2132.4 L1260.9,2132.1 L1262.4,2132.5 L1263.9,2133.5 L1265.1,2134.9 L1266.2,2136.6 L1267.1,2138.3 L1267.8,2140.2 L1268.3,2142.1 L1268.8,2144.0 L1269.2,2146.0 L1269.5,2148.0 L1269.9,2149.9 L1270.3,2151.9 L1270.7,2153.9 L1271.1,2155.8 L1271.5,2157.8 L1271.9,2159.7 L1272.3,2161.7 L1272.8,2163.6 L1273.2,2165.6 L1273.6,2167.5 L1274.0,2169.5 L1274.4,2171.4 L1274.9,2173.4 L1275.4,2175.3 L1275.9,2177.3 L1276.5,2179.2 L1277.1,2181.0 L1277.9,2182.9 L1278.9,2184.6 L1280.0,2186.2 L1281.2,2187.5 L1282.7,2188.3 L1284.3,2188.5 L1285.9,2187.9 L1287.5,2186.9 L1288.9,2185.6 L1290.2,2184.1 L1291.5,2182.6 L1292.8,2181.1 L1294.1,2179.5 L1295.3,2178.0 L1296.5,2176.4 L1297.7,2174.7 L1298.8,2173.1 L1300.0,2171.5 L1301.1,2169.8 L1302.2,2168.1 L1303.3,2166.5 L1304.5,2164.8 L1305.5,2163.2 L1306.6,2161.5 L1307.7,2159.8 L1308.7,2158.1 L1309.8,2156.4 L1311.0,2154.8 L1312.2,2153.2 L1313.6,2151.8 L1315.1,2150.5 L1316.7,2149.4 L1318.4,2148.5 L1320.2,2147.6 L1322.1,2147.0 L1324.0,2146.7 L1325.8,2146.8 L1327.5,2147.4 L1329.1,2148.5 L1330.5,2149.8 L1331.7,2151.4 L1332.9,2153.0 L1334.1,2154.6 L1335.1,2156.3 L1336.1,2158.0 L1337.0,2159.8 L1337.9,2161.6 L1338.7,2163.4 L1339.5,2165.3 L1340.2,2167.1 L1340.9,2169.0 L1341.7,2170.9 L1342.4,2172.7 L1343.1,2174.6 L1343.8,2176.5 L1344.4,2178.4 L1345.1,2180.3 L1345.7,2182.2 L1346.3,2184.1 L1346.9,2186.0 L1347.5,2187.9 L1348.1,2189.8 L1348.7,2191.7 L1349.3,2193.6 L1349.9,2195.5 L1350.6,2197.4 L1351.3,2199.3 L1352.0,2201.1 L1352.8,2203.0 L1353.5,2204.8 L1354.3,2206.7 L1355.1,2208.5 L1355.9,2210.3 L1356.7,2212.1 L1357.7,2213.9 L1358.7,2215.6 L1359.8,2217.3 L1361.0,2218.9 L1362.3,2220.4 L1363.6,2221.9 L1365.0,2223.3 L1366.5,2224.7 L1368.0,2226.0 L1369.5,2227.2 L1371.1,2228.4 L1372.8,2229.5 L1374.6,2230.4 L1376.4,2231.3 L1378.2,2232.0 L1380.1,2232.7 L1382.0,2233.3 L1383.9,2233.8 L1385.9,2234.3 L1387.8,2234.7 L1389.8,2235.2 L1391.7,2235.6 L1393.7,2235.9 L1395.7,2236.3 L1397.7,2236.6 L1399.6,2236.8 L1401.6,2237.1 L1403.6,2237.3 L1405.6,2237.6 L1407.6,2237.8 L1409.6,2238.0 L1411.6,2238.2 L1413.5,2238.4 L1415.5,2238.5 L1417.5,2238.7 L1419.5,2238.9 L1421.5,2239.0 L1423.5,2239.2 L1425.5,2239.4 L1427.5,2239.5 L1429.5,2239.6 L1431.5,2239.7 L1433.5,2239.9 L1435.5,2240.0 L1437.5,2240.1 L1439.5,2240.1 L1441.5,2240.2 L1443.5,2240.3 L1445.5,2240.3 L1447.5,2240.4 L1449.5,2240.4 L1451.5,2240.5 L1453.5,2240.5 L1455.5,2240.5 L1457.5,2240.6 L1459.5,2240.6 L1461.5,2240.6 L1463.5,2240.6 L1465.5,2240.7 L1467.5,2240.7 L1469.5,2240.7 L1471.5,2240.7 L1473.5,2240.8 L1475.5,2240.8 L1477.5,2240.8 L1479.5,2240.8 L1481.5,2240.8 L1483.5,2240.8 L1485.5,2240.9 L1487.5,2240.9 L1489.5,2240.9 L1491.5,2240.9 L1493.5,2240.9 L1495.5,2240.9 L1497.5,2240.9 L1499.5,2240.9 L1501.5,2240.8 L1503.5,2240.8 L1505.5,2240.7 L1507.5,2240.6 L1509.5,2240.5 L1511.5,2240.4 L1513.5,2240.3 L1515.5,2240.2 L1517.5,2240.0 L1519.4,2239.9 L1521.4,2239.7 L1523.4,2239.5 L1525.4,2239.3 L1527.4,2239.2 L1529.4,2239.0 L1531.4,2238.8 L1533.4,2238.6 L1535.4,2238.4 L1537.4,2238.3 L1539.4,2238.1 L1541.4,2237.9 L1543.4,2237.8 L1545.3,2237.6 L1547.3,2237.4 L1549.3,2237.3 L1551.3,2237.1 L1553.3,2236.9 L1555.3,2236.7 L1557.3,2236.6 L1559.3,2236.4 L1561.3,2236.3 L1563.3,2236.3 L1565.3,2236.3 L1567.3,2236.4 L1569.3,2236.5 L1571.3,2236.7 L1573.2,2237.0 L1575.2,2237.3 L1577.2,2237.7 L1579.1,2238.0 L1581.1,2238.4 L1583.1,2238.8 L1585.0,2239.2 L1587.0,2239.5 L1589.0,2239.8 L1591.0,2240.0 L1593.0,2240.2 L1594.9,2240.2 L1596.9,2240.1 L1598.9,2239.8 L1600.8,2239.3 L1602.6,2238.6 L1604.5,2237.8 L1606.3,2236.9 L1608.0,2236.0 L1609.8,2235.0 L1611.5,2234.0 L1613.3,2233.1 L1615.1,2232.2 L1616.9,2231.3 L1618.7,2230.5 L1620.5,2229.6 L1622.3,2228.7 L1624.1,2227.8 L1625.9,2226.9 L1627.6,2226.0 L1629.4,2225.1 L1631.1,2224.3 L1632.6,2223.5 L1634.7,2222.3 L1634.7,2222.3" fill="none" stroke="#000" stroke-width="7.8" stroke-linejoin="round" stroke-linecap="round"/>
<path d="M179.5,2512.0 L181.3,2511.9 L183.6,2511.9 L185.5,2511.8 L187.5,2511.7 L189.5,2511.7 L191.5,2511.6 L193.5,2511.5 L195.5,2511.5 L197.5,2511.4 L199.5,2511.3 L201.5,2511.2 L203.5,2511.2 L205.5,2511.1 L207.5,2511.0 L209.5,2510.9 L211.5,2510.9 L213.5,2510.8 L215.5,2510.7 L217.5,2510.6 L219.5,2510.5 L221.5,2510.4 L223.5,2510.3 L225.5,2510.3 L227.5,2510.2 L229.5,2510.1 L231.5,2510.0 L233.5,2509.9 L235.5,2509.8 L237.5,2509.7 L239.5,2509.6 L241.4,2509.5 L243.4,2509.4 L245.4,2509.3 L247.4,2509.2 L249.4,2509.1 L251.4,2509.0 L253.4,2508.9 L255.4,2508.8 L257.4,2508.7 L259.4,2508.6 L261.4,2508.5 L263.4,2508.4 L265.4,2508.2 L267.4,2508.1 L269.4,2508.0 L271.4,2507.9 L273.4,2507.7 L275.4,2507.6 L277.4,2507.5 L279.4,2507.4 L281.4,2507.2 L283.4,2507.1 L285.4,2507.0 L287.4,2506.8 L289.4,2506.7 L291.4,2506.6 L293.4,2506.5 L295.4,2506.3 L297.4,2506.2 L299.3,2506.1 L301.3,2506.0 L303.3,2505.9 L305.3,2505.7 L307.3,2505.6 L309.3,2505.5 L311.3,2505.4 L313.3,2505.3 L315.3,2505.2 L317.3,2505.1 L319.3,2505.0 L321.3,2504.9 L323.3,2504.8 L325.3,2504.7 L327.3,2504.6 L329.3,2504.5 L331.3,2504.4 L333.3,2504.4 L335.3,2504.3 L337.3,2504.2 L339.3,2504.1 L341.3,2504.0 L343.3,2503.9 L345.3,2503.8 L347.3,2503.8 L349.3,2503.7 L351.3,2503.6 L353.3,2503.5 L355.3,2503.4 L357.3,2503.3 L359.3,2503.2 L361.3,2503.1 L363.3,2503.0 L365.3,2502.9 L367.3,2502.8 L369.3,2502.7 L371.3,2502.5 L373.3,2502.4 L375.3,2502.3 L377.2,2502.2 L379.2,2502.0 L381.2,2501.9 L383.2,2501.7 L385.2,2501.6 L387.2,2501.4 L389.2,2501.3 L391.2,2501.1 L393.2,2501.0 L395.2,2500.8 L397.2,2500.6 L399.2,2500.4 L401.2,2500.3 L403.2,2500.1 L405.2,2499.9 L407.1,2499.7 L409.1,2499.5 L411.1,2499.3 L413.1,2499.1 L415.1,2498.9 L417.1,2498.7 L419.1,2498.5 L421.1,2498.2 L423.1,2498.0 L425.0,2497.8 L427.0,2497.5 L429.0,2497.3 L431.0,2497.0 L433.0,2496.8 L435.0,2496.5 L436.9,2496.3 L438.9,2496.0 L440.9,2495.7 L442.9,2495.4 L444.9,2495.2 L446.8,2494.8 L448.8,2494.5 L450.8,2494.2 L452.8,2493.8 L454.7,2493.5 L456.7,2493.1 L458.7,2492.7 L460.6,2492.3 L462.6,2491.9 L464.5,2491.5 L466.5,2491.0 L468.4,2490.6 L470.4,2490.1 L472.3,2489.6 L474.2,2489.2 L476.2,2488.7 L478.1,2488.1 L480.0,2487.5 L481.8,2486.7 L483.5,2485.7 L485.1,2484.6 L486.5,2483.2 L487.8,2481.7 L489.0,2480.1 L490.2,2478.5 L491.3,2476.9 L492.5,2475.2 L493.5,2473.5 L494.5,2471.8 L495.5,2470.1 L496.5,2468.3 L497.4,2466.6 L498.4,2464.8 L499.3,2463.0 L500.2,2461.2 L501.1,2459.4 L501.9,2457.6 L502.7,2455.8 L503.5,2454.0 L504.3,2452.1 L505.0,2450.2 L505.7,2448.4 L506.4,2446.5 L507.1,2444.6 L507.7,2442.7 L508.3,2440.8 L508.9,2438.9 L509.5,2437.0 L510.1,2435.1 L510.7,2433.2 L511.2,2431.2 L511.7,2429.3 L512.3,2427.4 L512.8,2425.5 L513.3,2423.5 L513.8,2421.6 L514.3,2419.6 L514.8,2417.7 L515.3,2415.8 L515.9,2413.9 L516.4,2411.9 L516.9,2410.0 L517.4,2408.1 L517.9,2406.1 L518.4,2404.2 L518.9,2402.2 L519.4,2400.3 L519.9,2398.4 L520.3,2396.4 L520.8,2394.5 L521.3,2392.5 L521.7,2390.6 L522.2,2388.6 L522.6,2386.7 L523.1,2384.7 L523.5,2382.8 L524.0,2380.8 L524.4,2378.9 L524.8,2376.9 L525.2,2375.0 L525.6,2373.0 L526.0,2371.0 L526.4,2369.1 L526.9,2367.1 L527.4,2365.2 L527.9,2363.3 L528.6,2361.4 L529.2,2359.5 L530.0,2357.7 L530.7,2355.8 L531.6,2354.0 L532.4,2352.2 L533.3,2350.4 L534.3,2348.6 L535.2,2346.9 L536.3,2345.2 L537.4,2343.6 L538.7,2342.1 L540.1,2340.8 L541.5,2340.0 L543.7,2340.1 L545.0,2341.1 L546.0,2342.6 L546.9,2344.3 L547.7,2346.2 L548.3,2348.0 L548.8,2350.0 L549.3,2351.9 L549.8,2353.9 L550.2,2355.8 L550.6,2357.8 L551.1,2359.7 L551.5,2361.7 L551.9,2363.6 L552.2,2365.6 L552.6,2367.6 L553.0,2369.5 L553.4,2371.5 L553.7,2373.5 L554.1,2375.4 L554.5,2377.4 L554.9,2379.3 L555.3,2381.3 L555.7,2383.3 L556.1,2385.2 L556.5,2387.2 L556.9,2389.1 L557.3,2391.1 L557.6,2393.1 L558.0,2395.0 L558.3,2397.0 L558.7,2399.0 L559.0,2401.0 L559.3,2402.9 L559.7,2404.9 L560.0,2406.9 L560.4,2408.8 L560.7,2410.8 L561.0,2412.8 L561.3,2414.8 L561.7,2416.7 L562.0,2418.7 L562.3,2420.7 L562.6,2422.7 L563.0,2424.6 L563.3,2426.6 L563.7,2428.6 L564.1,2430.5 L564.4,2432.5 L564.8,2434.5 L565.2,2436.4 L565.6,2438.4 L566.0,2440.3 L566.4,2442.3 L566.8,2444.2 L567.3,2446.2 L567.7,2448.1 L568.2,2450.1 L568.7,2452.0 L569.2,2454.0 L569.7,2455.9 L570.2,2457.8 L570.8,2459.7 L571.5,2461.6 L572.2,2463.5 L572.9,2465.3 L573.7,2467.2 L574.6,2469.0 L575.5,2470.7 L576.6,2472.4 L577.9,2473.9 L579.3,2475.2 L580.9,2476.3 L582.7,2477.3 L584.4,2478.3 L586.2,2479.2 L587.9,2480.2 L589.7,2481.1 L591.5,2481.9 L593.4,2482.6 L595.3,2483.1 L597.2,2483.4 L599.2,2483.7 L601.2,2483.9 L603.2,2484.0 L605.2,2484.1 L607.2,2484.1 L609.2,2484.1 L611.2,2484.1 L613.2,2484.1 L615.2,2484.1 L617.2,2484.1 L619.2,2484.0 L621.1,2483.7 L623.1,2483.3 L624.9,2482.7 L626.8,2481.9 L628.5,2481.0 L630.2,2480.0 L631.9,2478.9 L633.6,2477.9 L635.4,2476.8 L637.1,2475.8 L638.8,2474.8 L640.5,2473.8 L642.2,2472.7 L643.9,2471.7 L645.6,2470.6 L647.3,2469.7 L649.1,2468.8 L651.0,2468.1 L652.9,2467.7 L654.8,2467.4 L656.8,2467.4 L658.8,2467.5 L660.8,2467.7 L662.8,2468.0 L664.7,2468.4 L666.5,2469.1 L668.1,2470.0 L669.5,2471.3 L670.7,2472.9 L671.8,2474.5 L672.8,2476.2 L674.0,2477.8 L675.2,2479.4 L676.6,2480.7 L678.2,2481.9 L679.9,2482.9 L681.6,2483.9 L683.4,2484.7 L685.3,2485.5 L687.1,2486.2 L689.0,2486.8 L691.0,2487.3 L692.9,2487.7 L694.9,2488.0 L696.9,2488.2 L698.9,2488.3 L700.9,2488.4 L702.9,2488.5 L704.9,2488.5 L706.9,2488.6 L708.9,2488.6 L710.9,2488.7 L712.9,2488.7 L714.9,2488.7 L716.9,2488.6 L718.9,2488.5 L720.8,2488.3 L722.8,2488.1 L724.8,2487.8 L726.8,2487.5 L728.7,2487.1 L730.7,2486.8 L732.7,2486.4 L734.6,2486.0 L736.6,2485.7 L738.6,2485.3 L740.6,2485.0 L742.5,2484.7 L744.5,2484.4 L746.5,2484.0 L748.4,2483.7 L750.4,2483.4 L752.4,2483.0 L754.4,2482.7 L756.3,2482.4 L758.3,2482.1 L760.3,2481.7 L762.2,2481.1 L764.0,2480.4 L765.7,2479.4 L767.2,2478.2 L768.7,2476.9 L770.1,2475.5 L771.4,2473.9 L772.6,2472.4 L773.7,2470.7 L774.7,2469.0 L775.6,2467.2 L776.5,2465.4 L777.3,2463.6 L778.0,2461.7 L778.7,2459.8 L779.3,2458.0 L779.9,2456.1 L780.5,2454.1 L781.0,2452.2 L781.5,2450.3 L781.9,2448.3 L782.4,2446.4 L782.7,2444.4 L783.1,2442.4 L783.5,2440.5 L783.8,2438.5 L784.1,2436.5 L784.5,2434.5 L784.8,2432.6 L785.1,2430.6 L785.4,2428.6 L785.8,2426.7 L786.1,2424.7 L786.4,2422.7 L786.7,2420.7 L787.1,2418.8 L787.4,2416.8 L787.7,2414.8 L788.1,2412.8 L788.4,2410.9 L788.7,2408.9 L789.0,2406.9 L789.4,2405.0 L789.7,2403.0 L790.0,2401.0 L790.3,2399.0 L790.6,2397.0 L790.9,2395.1 L791.2,2393.1 L791.5,2391.1 L791.8,2389.1 L792.1,2387.2 L792.4,2385.2 L792.6,2383.2 L792.9,2381.2 L793.2,2379.2 L793.4,2377.3 L793.7,2375.3 L793.9,2373.3 L794.2,2371.3 L794.4,2369.3 L794.7,2367.3 L795.0,2365.3 L795.2,2363.4 L795.5,2361.4 L795.7,2359.4 L796.0,2357.4 L796.2,2355.4 L796.5,2353.4 L796.8,2351.5 L797.1,2349.5 L797.4,2347.5 L797.7,2345.5 L798.0,2343.6 L798.3,2341.6 L798.6,2339.6 L798.9,2337.6 L799.3,2335.7 L799.6,2333.7 L799.9,2331.7 L800.2,2329.7 L800.6,2327.8 L800.9,2325.8 L801.2,2323.8 L801.6,2321.8 L801.9,2319.9 L802.2,2317.9 L802.5,2315.9 L802.8,2314.0 L803.2,2312.0 L803.5,2310.0 L803.8,2308.0 L804.2,2306.1 L804.5,2304.1 L804.8,2302.1 L805.1,2300.1 L805.5,2298.2 L805.8,2296.2 L806.1,2294.2 L806.4,2292.2 L806.7,2290.3 L807.0,2288.3 L807.2,2286.3 L807.5,2284.3 L807.8,2282.3 L808.0,2280.4 L808.3,2278.4 L808.5,2276.4 L808.8,2274.4 L809.0,2272.4 L809.2,2270.4 L809.5,2268.4 L809.7,2266.5 L809.9,2264.5 L810.1,2262.5 L810.4,2260.5 L810.6,2258.5 L810.8,2256.5 L811.1,2254.5 L811.3,2252.5 L811.5,2250.6 L811.8,2248.6 L812.0,2246.6 L812.2,2244.6 L812.5,2242.6 L812.7,2240.6 L812.9,2238.6 L813.2,2236.7 L813.4,2234.7 L813.6,2232.7 L813.9,2230.7 L814.1,2228.7 L814.4,2226.7 L814.6,2224.7 L814.9,2222.8 L815.2,2220.8 L815.4,2218.8 L815.7,2216.8 L815.9,2214.8 L816.2,2212.8 L816.4,2210.9 L816.7,2208.9 L817.0,2206.9 L817.3,2204.9 L817.6,2202.9 L817.9,2201.0 L818.2,2199.0 L818.6,2197.0 L819.1,2195.1 L819.6,2193.2 L820.1,2191.2 L820.7,2189.3 L821.4,2187.5 L822.2,2185.8 L823.4,2184.6 L824.7,2183.9 L826.3,2183.9 L827.8,2184.7 L829.1,2185.9 L830.0,2187.5 L830.6,2189.3 L831.0,2191.2 L831.3,2193.2 L831.6,2195.2 L831.8,2197.1 L832.0,2199.1 L832.2,2201.1 L832.4,2203.1 L832.6,2205.1 L832.9,2207.1 L833.1,2209.1 L833.3,2211.1 L833.5,2213.1 L833.7,2215.0 L833.8,2217.0 L834.0,2219.0 L834.2,2221.0 L834.3,2223.0 L834.5,2225.0 L834.7,2227.0 L834.8,2229.0 L835.0,2231.0 L835.1,2233.0 L835.2,2235.0 L835.4,2237.0 L835.5,2239.0 L835.6,2241.0 L835.7,2243.0 L835.8,2245.0 L836.0,2247.0 L836.1,2249.0 L836.2,2251.0 L836.3,2253.0 L836.3,2254.9 L836.4,2256.9 L836.5,2258.9 L836.6,2260.9 L836.7,2262.9 L836.8,2264.9 L836.9,2266.9 L837.0,2268.9 L837.1,2270.9 L837.2,2272.9 L837.3,2274.9 L837.4,2276.9 L837.5,2278.9 L837.6,2280.9 L837.7,2282.9 L837.9,2284.9 L838.0,2286.9 L838.1,2288.9 L838.3,2290.9 L838.4,2292.9 L838.5,2294.9 L838.7,2296.9 L838.8,2298.9 L838.9,2300.9 L839.1,2302.9 L839.2,2304.9 L839.4,2306.9 L839.5,2308.9 L839.7,2310.8 L839.8,2312.8 L839.9,2314.8 L840.1,2316.8 L840.2,2318.8 L840.3,2320.8 L840.5,2322.8 L840.6,2324.8 L840.7,2326.8 L840.9,2328.8 L841.0,2330.8 L841.1,2332.8 L841.3,2334.8 L841.4,2336.8 L841.5,2338.8 L841.6,2340.8 L841.8,2342.8 L841.9,2344.8 L842.0,2346.8 L842.2,2348.8 L842.3,2350.8 L842.4,2352.8 L842.5,2354.8 L842.7,2356.8 L842.8,2358.7 L842.9,2360.7 L843.0,2362.7 L843.1,2364.7 L843.2,2366.7 L843.4,2368.7 L843.5,2370.7 L843.6,2372.7 L843.7,2374.7 L843.8,2376.7 L843.9,2378.7 L844.1,2380.7 L844.2,2382.7 L844.3,2384.7 L844.4,2386.7 L844.6,2388.7 L844.7,2390.7 L844.8,2392.7 L845.0,2394.7 L845.1,2396.7 L845.3,2398.7 L845.4,2400.7 L845.6,2402.7 L845.7,2404.7 L845.9,2406.6 L846.0,2408.6 L846.2,2410.6 L846.4,2412.6 L846.6,2414.6 L846.8,2416.6 L847.0,2418.6 L847.2,2420.6 L847.5,2422.6 L847.7,2424.5 L848.0,2426.5 L848.3,2428.5 L848.6,2430.5 L848.9,2432.5 L849.3,2434.4 L849.7,2436.4 L850.1,2438.3 L850.6,2440.3 L851.2,2442.2 L851.9,2444.1 L852.6,2445.9 L853.3,2447.8 L854.1,2449.6 L855.1,2451.3 L856.2,2452.9 L857.6,2454.2 L859.2,2455.2 L861.0,2455.8 L862.9,2456.2 L864.8,2456.6 L866.7,2457.0 L868.6,2457.7 L870.3,2458.5 L872.0,2459.6 L873.5,2460.9 L875.1,2462.2 L876.6,2463.5 L878.1,2464.8 L879.6,2466.1 L881.1,2467.4 L882.6,2468.7 L884.1,2470.0 L885.6,2471.4 L887.1,2472.7 L888.6,2474.1 L890.0,2475.4 L891.5,2476.8 L892.9,2478.2 L894.4,2479.5 L896.0,2480.7 L897.6,2481.9 L899.3,2482.9 L901.1,2483.8 L902.9,2484.7 L904.7,2485.5 L906.5,2486.3 L908.4,2487.1 L910.3,2487.7 L912.2,2488.3 L914.1,2488.8 L916.1,2489.1 L918.0,2489.4 L920.0,2489.5 L922.0,2489.5 L924.0,2489.5 L926.0,2489.4 L928.0,2489.4 L930.0,2489.3 L932.0,2489.2 L934.0,2489.1 L936.0,2489.1 L938.0,2489.0 L940.0,2489.0 L942.0,2489.1 L944.0,2489.1 L946.0,2489.2 L948.0,2489.3 L950.0,2489.4 L952.0,2489.5 L954.0,2489.7 L956.0,2489.8 L958.0,2490.0 L960.0,2490.1 L962.0,2490.3 L964.0,2490.4 L965.9,2490.6 L967.9,2490.7 L969.9,2490.8 L971.9,2490.9 L973.9,2491.1 L975.9,2491.2 L977.9,2491.3 L979.9,2491.5 L981.9,2491.6 L983.9,2491.7 L985.9,2491.8 L987.9,2491.9 L989.9,2492.0 L991.9,2492.0 L993.9,2492.0 L995.9,2492.0 L997.9,2492.0 L999.9,2491.8 L1001.9,2491.6 L1003.9,2491.3 L1005.8,2491.0 L1007.8,2490.7 L1009.8,2490.3 L1011.7,2489.9 L1013.7,2489.5 L1015.6,2489.1 L1017.6,2488.8 L1019.6,2488.4 L1021.6,2488.2 L1023.6,2488.0 L1025.5,2487.8 L1027.5,2487.7 L1029.5,2487.6 L1031.5,2487.5 L1033.5,2487.4 L1035.5,2487.3 L1037.5,2487.3 L1039.5,2487.2 L1041.5,2487.1 L1043.5,2487.0 L1045.5,2486.9 L1047.5,2486.8 L1049.5,2486.6 L1051.5,2486.4 L1053.5,2486.2 L1055.5,2485.9 L1057.4,2485.4 L1059.3,2485.0 L1061.3,2484.4 L1063.2,2483.9 L1065.1,2483.3 L1067.0,2482.8 L1069.0,2482.2 L1070.9,2481.8 L1072.9,2481.3 L1074.8,2480.9 L1076.8,2480.5 L1078.7,2480.0 L1080.6,2479.4 L1082.4,2478.7 L1084.1,2477.8 L1085.6,2476.6 L1086.9,2475.1 L1088.0,2473.5 L1089.0,2471.8 L1090.0,2470.0 L1090.9,2468.3 L1091.8,2466.5 L1092.8,2464.7 L1093.8,2463.0 L1094.8,2461.3 L1095.9,2459.6 L1097.1,2458.0 L1098.4,2456.5 L1099.7,2455.0 L1101.0,2453.5 L1102.3,2451.9 L1103.4,2450.3 L1104.4,2448.6 L1105.3,2446.8 L1106.1,2445.0 L1106.7,2443.1 L1107.3,2441.2 L1107.9,2439.3 L1108.4,2437.3 L1108.9,2435.4 L1109.4,2433.5 L1110.0,2431.5 L1110.5,2429.6 L1111.0,2427.7 L1111.6,2425.8 L1112.3,2423.9 L1112.9,2422.0 L1113.6,2420.1 L1114.3,2418.2 L1115.0,2416.4 L1115.7,2414.5 L1116.4,2412.6 L1117.1,2410.8 L1117.9,2408.9 L1118.6,2407.0 L1119.3,2405.2 L1120.0,2403.3 L1120.7,2401.4 L1121.4,2399.6 L1122.1,2397.7 L1122.9,2395.8 L1123.6,2393.9 L1124.3,2392.1 L1125.0,2390.2 L1125.6,2388.3 L1126.3,2386.4 L1127.0,2384.5 L1127.6,2382.6 L1128.2,2380.8 L1128.9,2378.9 L1129.5,2377.0 L1130.1,2375.1 L1130.7,2373.2 L1131.4,2371.3 L1132.0,2369.4 L1132.6,2367.5 L1133.2,2365.5 L1133.8,2363.6 L1134.3,2361.7 L1134.9,2359.8 L1135.4,2357.9 L1136.0,2355.9 L1136.5,2354.0 L1137.1,2352.1 L1137.8,2350.2 L1138.6,2348.4 L1139.6,2346.7 L1140.8,2345.2 L1142.2,2343.9 L1143.8,2342.8 L1145.5,2342.1 L1147.3,2341.8 L1149.0,2342.1 L1150.6,2342.9 L1152.1,2344.2 L1153.3,2345.7 L1154.4,2347.3 L1155.4,2349.0 L1156.2,2350.8 L1156.9,2352.7 L1157.5,2354.6 L1158.0,2356.5 L1158.5,2358.5 L1158.9,2360.4 L1159.3,2362.4 L1159.6,2364.4 L1160.0,2366.3 L1160.3,2368.3 L1160.6,2370.3 L1161.0,2372.2 L1161.3,2374.2 L1161.6,2376.2 L1162.0,2378.2 L1162.3,2380.1 L1162.6,2382.1 L1163.0,2384.1 L1163.4,2386.0 L1163.7,2388.0 L1164.1,2390.0 L1164.4,2391.9 L1164.8,2393.9 L1165.1,2395.9 L1165.5,2397.8 L1165.8,2399.8 L1166.1,2401.8 L1166.5,2403.8 L1166.8,2405.7 L1167.1,2407.7 L1167.5,2409.7 L1167.8,2411.6 L1168.2,2413.6 L1168.5,2415.6 L1168.9,2417.6 L1169.2,2419.5 L1169.6,2421.5 L1169.9,2423.5 L1170.3,2425.4 L1170.7,2427.4 L1171.1,2429.4 L1171.4,2431.3 L1171.8,2433.3 L1172.2,2435.2 L1172.6,2437.2 L1172.9,2439.2 L1173.3,2441.1 L1173.7,2443.1 L1174.1,2445.1 L1174.5,2447.0 L1174.9,2449.0 L1175.4,2450.9 L1175.9,2452.9 L1176.4,2454.8 L1177.0,2456.7 L1177.7,2458.6 L1178.4,2460.5 L1179.1,2462.3 L1179.9,2464.2 L1180.7,2466.0 L1181.5,2467.8 L1182.4,2469.6 L1183.5,2471.2 L1184.7,2472.8 L1186.1,2474.1 L1187.7,2475.2 L1189.4,2476.1 L1191.3,2476.9 L1193.2,2477.5 L1195.1,2477.9 L1197.1,2478.1 L1199.0,2478.0 L1201.0,2477.7 L1202.8,2477.1 L1204.7,2476.4 L1206.5,2475.5 L1208.2,2474.5 L1209.9,2473.5 L1211.5,2472.3 L1213.0,2471.0 L1214.4,2469.6 L1215.8,2468.2 L1217.2,2466.7 L1218.5,2465.2 L1219.9,2463.8 L1221.3,2462.3 L1222.7,2460.9 L1224.1,2459.6 L1225.6,2458.2 L1227.1,2456.9 L1228.6,2455.5 L1230.1,2454.2 L1231.6,2452.9 L1233.0,2451.5 L1234.5,2450.1 L1235.9,2448.7 L1237.3,2447.3 L1238.6,2445.8 L1239.9,2444.2 L1241.1,2442.6 L1242.2,2441.0 L1243.3,2439.3 L1244.4,2437.6 L1245.5,2436.0 L1246.6,2434.3 L1247.7,2432.6 L1248.8,2431.0 L1250.1,2429.5 L1251.4,2428.0 L1252.9,2426.8 L1254.6,2425.9 L1256.4,2425.4 L1258.2,2425.4 L1260.1,2425.8 L1261.9,2426.5 L1263.7,2427.4 L1265.2,2428.6 L1266.5,2429.9 L1267.6,2431.6 L1268.5,2433.3 L1269.3,2435.1 L1270.1,2437.0 L1270.8,2438.8 L1271.6,2440.6 L1272.5,2442.3 L1273.7,2443.8 L1275.1,2444.8 L1276.8,2445.4 L1278.6,2445.6 L1280.5,2445.5 L1282.3,2445.0 L1284.0,2444.2 L1285.4,2442.9 L1286.7,2441.4 L1287.8,2439.8 L1288.8,2438.1 L1289.9,2436.4 L1290.9,2434.7 L1291.9,2433.0 L1292.9,2431.2 L1293.8,2429.5 L1294.7,2427.7 L1295.5,2425.9 L1296.4,2424.0 L1297.2,2422.2 L1298.1,2420.4 L1299.0,2418.6 L1299.9,2416.9 L1300.9,2415.1 L1301.9,2413.4 L1303.0,2411.7 L1304.1,2410.1 L1305.2,2408.4 L1306.4,2406.8 L1307.5,2405.1 L1308.6,2403.4 L1309.6,2401.7 L1310.6,2400.0 L1311.5,2398.2 L1312.4,2396.4 L1313.4,2394.7 L1314.4,2393.1 L1315.6,2391.8 L1317.0,2391.1 L1318.6,2391.1 L1320.3,2391.7 L1321.9,2392.7 L1323.3,2394.0 L1324.7,2395.4 L1326.0,2396.9 L1327.2,2398.5 L1328.2,2400.2 L1329.1,2402.0 L1330.0,2403.8 L1330.8,2405.6 L1331.6,2407.5 L1332.3,2409.3 L1333.0,2411.2 L1333.7,2413.1 L1334.5,2414.9 L1335.2,2416.8 L1335.9,2418.6 L1336.7,2420.5 L1337.4,2422.4 L1338.1,2424.3 L1338.7,2426.1 L1339.4,2428.0 L1340.1,2429.9 L1340.8,2431.8 L1341.4,2433.7 L1342.1,2435.6 L1342.8,2437.4 L1343.4,2439.3 L1344.1,2441.2 L1344.8,2443.1 L1345.4,2445.0 L1346.1,2446.9 L1346.7,2448.8 L1347.4,2450.7 L1348.0,2452.6 L1348.6,2454.5 L1349.3,2456.4 L1349.9,2458.2 L1350.6,2460.1 L1351.3,2462.0 L1352.0,2463.9 L1352.7,2465.7 L1353.5,2467.6 L1354.4,2469.4 L1355.3,2471.1 L1356.3,2472.9 L1357.2,2474.6 L1358.3,2476.4 L1359.4,2478.0 L1360.5,2479.6 L1361.8,2481.1 L1363.2,2482.6 L1364.7,2483.8 L1366.3,2485.0 L1368.0,2486.1 L1369.7,2487.1 L1371.5,2488.0 L1373.3,2488.8 L1375.2,2489.5 L1377.1,2490.1 L1379.0,2490.6 L1381.0,2491.1 L1382.9,2491.5 L1384.9,2491.9 L1386.8,2492.2 L1388.8,2492.6 L1390.8,2492.9 L1392.8,2493.1 L1394.8,2493.4 L1396.7,2493.7 L1398.7,2493.9 L1400.7,2494.1 L1402.7,2494.3 L1404.7,2494.5 L1406.7,2494.7 L1408.7,2494.8 L1410.7,2495.0 L1412.7,2495.2 L1414.7,2495.3 L1416.7,2495.5 L1418.7,2495.6 L1420.6,2495.7 L1422.6,2495.9 L1424.6,2496.0 L1426.6,2496.1 L1428.6,2496.2 L1430.6,2496.3 L1432.6,2496.4 L1434.6,2496.6 L1436.6,2496.7 L1438.6,2496.8 L1440.6,2496.9 L1442.6,2497.0 L1444.6,2497.1 L1446.6,2497.2 L1448.6,2497.4 L1450.6,2497.5 L1452.6,2497.6 L1454.6,2497.8 L1456.6,2497.9 L1458.6,2498.1 L1460.6,2498.2 L1462.6,2498.4 L1464.6,2498.5 L1466.5,2498.7 L1468.5,2498.8 L1470.5,2499.0 L1472.5,2499.1 L1474.5,2499.2 L1476.5,2499.3 L1478.5,2499.4 L1480.5,2499.5 L1482.5,2499.5 L1484.5,2499.6 L1486.5,2499.6 L1488.5,2499.6 L1490.5,2499.5 L1492.5,2499.5 L1494.5,2499.4 L1496.5,2499.4 L1498.5,2499.3 L1500.5,2499.1 L1502.5,2499.0 L1504.5,2498.9 L1506.5,2498.7 L1508.5,2498.6 L1510.5,2498.4 L1512.5,2498.3 L1514.5,2498.1 L1516.5,2497.9 L1518.5,2497.7 L1520.4,2497.5 L1522.4,2497.3 L1524.4,2497.2 L1526.4,2497.0 L1528.4,2496.8 L1530.4,2496.6 L1532.4,2496.4 L1534.4,2496.2 L1536.4,2495.9 L1538.3,2495.6 L1540.3,2495.3 L1542.3,2495.0 L1544.3,2494.7 L1546.3,2494.4 L1548.2,2494.2 L1550.2,2493.9 L1552.2,2493.7 L1554.2,2493.5 L1556.2,2493.4 L1558.2,2493.3 L1560.2,2493.2 L1562.2,2493.3 L1564.2,2493.3 L1566.2,2493.4 L1568.2,2493.4 L1570.2,2493.5 L1572.2,2493.7 L1574.2,2493.8 L1576.2,2493.9 L1578.2,2494.0 L1580.2,2494.1 L1582.2,2494.2 L1584.2,2494.3 L1586.1,2494.4 L1588.1,2494.5 L1590.1,2494.5 L1592.1,2494.5 L1594.1,2494.3 L1596.0,2493.9 L1597.9,2493.3 L1599.8,2492.6 L1601.5,2491.7 L1603.3,2490.7 L1605.0,2489.6 L1606.6,2488.5 L1608.3,2487.5 L1610.0,2486.4 L1611.7,2485.4 L1613.5,2484.4 L1615.3,2483.6 L1617.1,2482.7 L1619.0,2482.0 L1620.8,2481.3 L1622.7,2480.5 L1624.6,2479.8 L1626.4,2479.2 L1628.3,2478.5 L1630.1,2477.9 L1631.7,2477.4 L1634.0,2476.7 L1634.0,2476.7" fill="none" stroke="#ff0000" stroke-width="7.8" stroke-linejoin="round" stroke-linecap="round"/>
<path d="M179.5,2771.3 L181.3,2771.2 L183.6,2771.2 L185.5,2771.1 L187.5,2771.1 L189.5,2771.0 L191.5,2770.9 L193.5,2770.9 L195.5,2770.8 L197.5,2770.7 L199.5,2770.7 L201.5,2770.6 L203.5,2770.5 L205.5,2770.4 L207.5,2770.4 L209.5,2770.3 L211.5,2770.2 L213.5,2770.1 L215.5,2770.1 L217.5,2770.0 L219.5,2769.9 L221.5,2769.8 L223.5,2769.7 L225.5,2769.6 L227.5,2769.5 L229.5,2769.5 L231.5,2769.4 L233.5,2769.3 L235.5,2769.2 L237.5,2769.1 L239.5,2769.0 L241.5,2768.9 L243.5,2768.8 L245.4,2768.7 L247.4,2768.6 L249.4,2768.5 L251.4,2768.4 L253.4,2768.3 L255.4,2768.2 L257.4,2768.1 L259.4,2768.0 L261.4,2767.9 L263.4,2767.8 L265.4,2767.7 L267.4,2767.6 L269.4,2767.5 L271.4,2767.4 L273.4,2767.2 L275.4,2767.1 L277.4,2767.0 L279.4,2766.9 L281.4,2766.7 L283.4,2766.6 L285.4,2766.5 L287.4,2766.4 L289.4,2766.2 L291.4,2766.1 L293.4,2766.0 L295.4,2765.9 L297.4,2765.7 L299.4,2765.6 L301.4,2765.5 L303.3,2765.3 L305.3,2765.2 L307.3,2765.1 L309.3,2764.9 L311.3,2764.8 L313.3,2764.7 L315.3,2764.5 L317.3,2764.4 L319.3,2764.3 L321.3,2764.1 L323.3,2764.0 L325.3,2763.8 L327.3,2763.7 L329.3,2763.6 L331.3,2763.4 L333.3,2763.3 L335.3,2763.1 L337.3,2763.0 L339.3,2762.8 L341.3,2762.7 L343.2,2762.5 L345.2,2762.4 L347.2,2762.2 L349.2,2762.1 L351.2,2761.9 L353.2,2761.7 L355.2,2761.6 L357.2,2761.4 L359.2,2761.3 L361.2,2761.1 L363.2,2761.0 L365.2,2760.8 L367.2,2760.7 L369.2,2760.5 L371.2,2760.3 L373.2,2760.2 L375.2,2760.0 L377.1,2759.9 L379.1,2759.7 L381.1,2759.6 L383.1,2759.4 L385.1,2759.3 L387.1,2759.1 L389.1,2759.0 L391.1,2758.8 L393.1,2758.7 L395.1,2758.6 L397.1,2758.4 L399.1,2758.3 L401.1,2758.1 L403.1,2758.0 L405.1,2757.9 L407.1,2757.7 L409.1,2757.6 L411.1,2757.4 L413.1,2757.3 L415.0,2757.1 L417.0,2756.9 L419.0,2756.8 L421.0,2756.6 L423.0,2756.4 L425.0,2756.2 L427.0,2756.0 L429.0,2755.8 L431.0,2755.6 L433.0,2755.4 L434.9,2755.2 L436.9,2754.9 L438.9,2754.7 L440.9,2754.4 L442.9,2754.2 L444.9,2753.9 L446.8,2753.6 L448.8,2753.3 L450.8,2752.9 L452.8,2752.5 L454.7,2752.1 L456.7,2751.7 L458.6,2751.3 L460.5,2750.8 L462.5,2750.2 L464.4,2749.6 L466.3,2749.0 L468.2,2748.3 L470.0,2747.6 L471.8,2746.7 L473.5,2745.7 L475.1,2744.5 L476.6,2743.2 L477.9,2741.8 L479.3,2740.3 L480.6,2738.8 L481.9,2737.3 L483.2,2735.8 L484.5,2734.3 L485.8,2732.7 L487.1,2731.2 L488.4,2729.7 L489.6,2728.1 L490.8,2726.5 L492.0,2724.9 L493.1,2723.2 L494.2,2721.5 L495.3,2719.9 L496.3,2718.2 L497.3,2716.4 L498.3,2714.7 L499.2,2712.9 L500.1,2711.1 L501.0,2709.3 L501.8,2707.5 L502.6,2705.7 L503.4,2703.8 L504.1,2702.0 L504.8,2700.1 L505.5,2698.2 L506.2,2696.3 L506.9,2694.4 L507.5,2692.6 L508.1,2690.7 L508.7,2688.8 L509.4,2686.8 L510.0,2685.0 L510.7,2683.1 L511.3,2681.2 L512.1,2679.3 L512.8,2677.5 L513.6,2675.6 L514.3,2673.8 L515.1,2671.9 L515.9,2670.1 L516.7,2668.3 L517.5,2666.4 L518.3,2664.6 L519.1,2662.8 L520.0,2661.0 L520.8,2659.1 L521.6,2657.3 L522.5,2655.5 L523.3,2653.7 L524.1,2651.8 L524.8,2650.0 L525.6,2648.1 L526.4,2646.3 L527.2,2644.5 L528.1,2642.7 L529.1,2641.0 L530.2,2639.3 L531.4,2637.8 L532.8,2636.4 L534.4,2635.3 L536.0,2634.7 L537.7,2634.6 L539.4,2635.2 L540.9,2636.2 L542.3,2637.5 L543.7,2639.0 L545.0,2640.5 L546.2,2642.1 L547.3,2643.8 L548.3,2645.5 L549.3,2647.2 L550.2,2649.0 L551.0,2650.8 L551.8,2652.6 L552.5,2654.5 L553.2,2656.4 L553.9,2658.3 L554.5,2660.2 L555.2,2662.0 L556.0,2663.9 L556.7,2665.7 L557.5,2667.6 L558.3,2669.4 L559.2,2671.2 L560.0,2673.0 L560.8,2674.8 L561.7,2676.7 L562.5,2678.5 L563.4,2680.3 L564.2,2682.1 L565.0,2683.9 L565.8,2685.7 L566.7,2687.6 L567.5,2689.4 L568.3,2691.2 L569.1,2693.0 L569.9,2694.9 L570.7,2696.7 L571.6,2698.5 L572.4,2700.4 L573.2,2702.2 L574.1,2703.9 L575.0,2705.7 L576.0,2707.5 L577.0,2709.2 L578.0,2710.9 L579.1,2712.6 L580.1,2714.3 L581.3,2716.0 L582.4,2717.6 L583.6,2719.2 L584.9,2720.8 L586.2,2722.3 L587.5,2723.8 L588.9,2725.2 L590.4,2726.5 L591.9,2727.8 L593.5,2729.0 L595.1,2730.1 L596.9,2731.2 L598.6,2732.1 L600.4,2732.9 L602.3,2733.6 L604.2,2734.2 L606.1,2734.7 L608.1,2735.1 L610.0,2735.2 L612.0,2735.1 L614.0,2734.9 L615.9,2734.5 L617.8,2734.0 L619.8,2733.5 L621.7,2733.1 L623.7,2732.7 L625.7,2732.4 L627.6,2732.0 L629.5,2731.5 L631.4,2730.8 L633.2,2730.0 L635.0,2729.2 L636.8,2728.4 L638.7,2727.6 L640.5,2726.9 L642.4,2726.2 L644.3,2725.7 L646.3,2725.4 L648.3,2725.2 L650.3,2725.1 L652.3,2725.0 L654.3,2725.0 L656.3,2725.0 L658.3,2725.0 L660.3,2725.0 L662.2,2725.1 L664.2,2725.4 L666.2,2725.7 L668.1,2726.3 L669.9,2727.0 L671.7,2727.9 L673.5,2728.8 L675.2,2729.7 L677.0,2730.7 L678.7,2731.7 L680.4,2732.7 L682.1,2733.8 L683.7,2735.0 L685.3,2736.2 L686.9,2737.4 L688.5,2738.7 L690.1,2739.8 L691.8,2740.8 L693.6,2741.6 L695.5,2742.2 L697.4,2742.5 L699.4,2742.7 L701.4,2742.8 L703.4,2742.9 L705.4,2743.0 L707.4,2743.0 L709.4,2743.1 L711.4,2743.1 L713.4,2743.2 L715.4,2743.2 L717.4,2743.2 L719.4,2743.2 L721.4,2743.1 L723.4,2743.1 L725.4,2743.0 L727.4,2742.9 L729.3,2742.8 L731.3,2742.6 L733.3,2742.5 L735.3,2742.3 L737.3,2742.1 L739.3,2741.9 L741.3,2741.7 L743.3,2741.5 L745.3,2741.2 L747.2,2740.8 L749.2,2740.4 L751.1,2739.9 L753.1,2739.4 L755.0,2738.8 L756.9,2738.2 L758.8,2737.6 L760.6,2736.8 L762.4,2736.0 L764.2,2735.1 L765.9,2734.0 L767.5,2732.8 L769.0,2731.6 L770.4,2730.2 L771.8,2728.7 L773.1,2727.2 L774.2,2725.6 L775.3,2723.9 L776.3,2722.2 L777.3,2720.5 L778.2,2718.7 L779.1,2716.9 L779.9,2715.1 L780.8,2713.2 L781.5,2711.4 L782.2,2709.5 L782.9,2707.7 L783.6,2705.8 L784.2,2703.9 L784.8,2702.0 L785.4,2700.0 L786.0,2698.1 L786.5,2696.2 L787.1,2694.3 L787.6,2692.4 L788.1,2690.4 L788.6,2688.5 L789.1,2686.6 L789.6,2684.6 L790.1,2682.7 L790.5,2680.7 L791.0,2678.8 L791.5,2676.8 L791.9,2674.9 L792.4,2673.0 L792.9,2671.0 L793.4,2669.1 L793.9,2667.1 L794.3,2665.2 L794.8,2663.2 L795.3,2661.3 L795.8,2659.4 L796.3,2657.4 L796.7,2655.5 L797.2,2653.5 L797.7,2651.6 L798.2,2649.7 L798.7,2647.7 L799.2,2645.8 L799.7,2643.8 L800.2,2641.9 L800.6,2640.0 L801.1,2638.0 L801.6,2636.1 L802.1,2634.1 L802.6,2632.2 L803.1,2630.3 L803.6,2628.3 L804.1,2626.4 L804.6,2624.4 L805.0,2622.5 L805.5,2620.6 L806.0,2618.6 L806.5,2616.7 L806.9,2614.7 L807.4,2612.8 L807.9,2610.9 L808.4,2608.9 L808.9,2607.0 L809.4,2605.1 L810.0,2603.1 L810.5,2601.2 L811.0,2599.3 L811.6,2597.3 L812.1,2595.4 L812.7,2593.5 L813.2,2591.6 L813.7,2589.6 L814.2,2587.7 L814.7,2585.8 L815.2,2583.8 L815.7,2581.9 L816.1,2579.9 L816.6,2578.0 L817.1,2576.0 L817.5,2574.1 L818.0,2572.1 L818.4,2570.2 L818.8,2568.2 L819.3,2566.3 L819.7,2564.3 L820.1,2562.4 L820.5,2560.4 L820.9,2558.5 L821.3,2556.5 L821.7,2554.5 L822.2,2552.6 L822.7,2550.7 L823.2,2548.7 L823.7,2546.8 L824.3,2544.9 L824.8,2543.0 L825.5,2541.2 L826.4,2539.8 L828.2,2539.0 L830.0,2540.0 L831.1,2541.4 L831.9,2543.1 L832.4,2545.0 L832.9,2547.0 L833.2,2548.9 L833.5,2550.9 L833.7,2552.9 L834.0,2554.9 L834.2,2556.9 L834.5,2558.8 L834.7,2560.8 L834.9,2562.8 L835.1,2564.8 L835.3,2566.8 L835.5,2568.8 L835.7,2570.8 L835.8,2572.8 L836.0,2574.8 L836.1,2576.8 L836.3,2578.8 L836.4,2580.8 L836.6,2582.7 L836.7,2584.7 L836.9,2586.7 L837.1,2588.7 L837.2,2590.7 L837.4,2592.7 L837.5,2594.7 L837.7,2596.7 L837.8,2598.7 L838.0,2600.7 L838.2,2602.7 L838.3,2604.7 L838.5,2606.7 L838.6,2608.7 L838.8,2610.7 L838.9,2612.7 L839.1,2614.7 L839.2,2616.6 L839.3,2618.6 L839.5,2620.6 L839.6,2622.6 L839.7,2624.6 L839.8,2626.6 L840.0,2628.6 L840.1,2630.6 L840.2,2632.6 L840.3,2634.6 L840.4,2636.6 L840.6,2638.6 L840.7,2640.6 L840.8,2642.6 L841.0,2644.6 L841.1,2646.6 L841.3,2648.6 L841.5,2650.6 L841.6,2652.6 L841.8,2654.6 L842.0,2656.5 L842.2,2658.5 L842.4,2660.5 L842.6,2662.5 L842.8,2664.5 L843.0,2666.5 L843.3,2668.5 L843.5,2670.5 L843.7,2672.5 L844.0,2674.4 L844.2,2676.4 L844.5,2678.4 L844.8,2680.4 L845.0,2682.4 L845.3,2684.3 L845.6,2686.3 L846.0,2688.3 L846.3,2690.3 L846.7,2692.2 L847.1,2694.2 L847.6,2696.1 L848.1,2698.1 L848.6,2700.0 L849.1,2701.9 L849.8,2703.8 L850.4,2705.7 L851.2,2707.5 L852.1,2709.3 L853.2,2711.0 L854.3,2712.6 L855.7,2714.0 L857.1,2715.4 L858.6,2716.7 L860.3,2717.8 L862.0,2718.8 L863.7,2719.8 L865.5,2720.7 L867.3,2721.6 L869.1,2722.4 L870.9,2723.3 L872.7,2724.2 L874.5,2725.0 L876.3,2726.0 L878.0,2726.9 L879.7,2728.0 L881.4,2729.0 L883.1,2730.1 L884.8,2731.2 L886.5,2732.3 L888.2,2733.4 L889.8,2734.4 L891.5,2735.5 L893.3,2736.5 L895.0,2737.5 L896.8,2738.3 L898.7,2739.0 L900.5,2739.7 L902.4,2740.4 L904.3,2741.0 L906.2,2741.6 L908.2,2742.2 L910.1,2742.6 L912.1,2743.1 L914.0,2743.4 L916.0,2743.7 L918.0,2743.8 L920.0,2743.9 L922.0,2743.9 L924.0,2743.9 L926.0,2743.9 L928.0,2743.8 L930.0,2743.7 L932.0,2743.7 L934.0,2743.6 L936.0,2743.6 L938.0,2743.5 L940.0,2743.5 L942.0,2743.6 L944.0,2743.7 L946.0,2743.8 L948.0,2743.9 L949.9,2744.1 L951.9,2744.3 L953.9,2744.5 L955.9,2744.8 L957.9,2745.0 L959.9,2745.1 L961.9,2745.3 L963.9,2745.4 L965.9,2745.5 L967.9,2745.6 L969.9,2745.6 L971.9,2745.6 L973.9,2745.6 L975.9,2745.6 L977.9,2745.5 L979.9,2745.5 L981.9,2745.5 L983.9,2745.5 L985.9,2745.4 L987.9,2745.4 L989.9,2745.3 L991.9,2745.3 L993.9,2745.3 L995.9,2745.2 L997.9,2745.2 L999.9,2745.1 L1001.9,2745.0 L1003.9,2745.0 L1005.9,2744.9 L1007.9,2744.9 L1009.9,2744.8 L1011.9,2744.7 L1013.9,2744.6 L1015.9,2744.5 L1017.9,2744.4 L1019.9,2744.3 L1021.8,2744.1 L1023.8,2744.0 L1025.8,2743.8 L1027.8,2743.6 L1029.8,2743.4 L1031.8,2743.2 L1033.8,2743.0 L1035.8,2742.8 L1037.8,2742.5 L1039.7,2742.3 L1041.7,2742.0 L1043.7,2741.8 L1045.7,2741.5 L1047.7,2741.2 L1049.7,2740.9 L1051.6,2740.6 L1053.6,2740.2 L1055.6,2739.9 L1057.5,2739.4 L1059.5,2739.0 L1061.4,2738.5 L1063.3,2737.9 L1065.2,2737.3 L1067.1,2736.7 L1069.0,2736.1 L1070.9,2735.4 L1072.8,2734.7 L1074.6,2733.9 L1076.4,2733.1 L1078.2,2732.2 L1080.0,2731.2 L1081.7,2730.2 L1083.3,2729.1 L1084.9,2727.9 L1086.5,2726.6 L1087.9,2725.3 L1089.3,2723.8 L1090.6,2722.4 L1091.9,2720.8 L1093.1,2719.3 L1094.3,2717.7 L1095.5,2716.0 L1096.7,2714.4 L1097.8,2712.7 L1098.8,2711.0 L1099.8,2709.3 L1100.8,2707.6 L1101.7,2705.8 L1102.6,2704.0 L1103.5,2702.2 L1104.3,2700.4 L1105.2,2698.6 L1106.0,2696.8 L1106.9,2695.0 L1107.7,2693.1 L1108.6,2691.3 L1109.4,2689.5 L1110.3,2687.7 L1111.2,2685.9 L1112.1,2684.1 L1113.0,2682.4 L1113.9,2680.6 L1114.7,2678.8 L1115.6,2677.0 L1116.5,2675.2 L1117.4,2673.4 L1118.4,2671.6 L1119.3,2669.9 L1120.3,2668.1 L1121.2,2666.4 L1122.2,2664.6 L1123.2,2662.9 L1124.2,2661.2 L1125.2,2659.4 L1126.2,2657.7 L1127.2,2656.0 L1128.2,2654.2 L1129.2,2652.5 L1130.1,2650.7 L1131.1,2649.0 L1132.0,2647.2 L1133.1,2645.5 L1134.3,2644.0 L1135.7,2642.5 L1137.2,2641.3 L1138.8,2640.1 L1140.5,2639.1 L1142.2,2638.2 L1144.1,2637.7 L1145.9,2637.5 L1147.7,2637.8 L1149.4,2638.5 L1150.8,2639.7 L1152.1,2641.2 L1153.3,2642.8 L1154.4,2644.5 L1155.4,2646.2 L1156.4,2647.9 L1157.3,2649.7 L1158.2,2651.5 L1158.9,2653.3 L1159.6,2655.2 L1160.3,2657.1 L1160.9,2659.0 L1161.6,2660.9 L1162.2,2662.8 L1162.8,2664.7 L1163.4,2666.6 L1164.0,2668.5 L1164.5,2670.4 L1165.0,2672.4 L1165.5,2674.3 L1166.0,2676.2 L1166.5,2678.2 L1167.0,2680.1 L1167.5,2682.1 L1168.0,2684.0 L1168.5,2685.9 L1169.1,2687.8 L1169.7,2689.8 L1170.3,2691.7 L1171.0,2693.5 L1171.7,2695.4 L1172.4,2697.3 L1173.1,2699.1 L1173.9,2701.0 L1174.7,2702.8 L1175.5,2704.6 L1176.4,2706.4 L1177.3,2708.2 L1178.2,2710.0 L1179.1,2711.8 L1180.1,2713.5 L1181.0,2715.3 L1182.0,2717.1 L1182.9,2718.8 L1184.0,2720.5 L1185.1,2722.2 L1186.3,2723.7 L1187.6,2725.1 L1189.2,2726.3 L1190.9,2727.3 L1192.7,2728.1 L1194.6,2728.8 L1196.5,2729.3 L1198.4,2729.6 L1200.4,2729.7 L1202.4,2729.6 L1204.3,2729.3 L1206.2,2728.8 L1208.1,2728.1 L1209.9,2727.4 L1211.7,2726.4 L1213.3,2725.3 L1214.7,2724.0 L1216.1,2722.5 L1217.3,2721.0 L1218.5,2719.4 L1219.7,2717.7 L1220.8,2716.1 L1222.1,2714.6 L1223.4,2713.1 L1224.8,2711.7 L1226.3,2710.3 L1227.8,2709.1 L1229.4,2707.9 L1231.0,2706.7 L1232.6,2705.4 L1234.1,2704.2 L1235.6,2702.8 L1237.0,2701.4 L1238.2,2699.8 L1239.3,2698.2 L1240.4,2696.5 L1241.3,2694.7 L1242.2,2693.0 L1243.2,2691.2 L1244.1,2689.4 L1245.1,2687.7 L1246.1,2686.0 L1247.2,2684.3 L1248.4,2682.7 L1249.6,2681.1 L1250.9,2679.6 L1252.2,2678.2 L1253.7,2677.0 L1255.4,2676.1 L1257.2,2675.6 L1259.1,2675.5 L1261.1,2675.7 L1262.9,2676.1 L1264.5,2676.9 L1265.8,2678.1 L1266.7,2679.6 L1267.3,2681.4 L1267.8,2683.3 L1268.2,2685.3 L1268.6,2687.3 L1269.0,2689.2 L1269.6,2691.1 L1270.2,2693.0 L1271.1,2694.7 L1272.2,2696.4 L1273.4,2697.9 L1274.9,2699.0 L1276.5,2699.8 L1278.3,2700.0 L1280.1,2699.7 L1281.9,2699.0 L1283.6,2698.1 L1285.3,2697.0 L1286.9,2695.9 L1288.6,2694.7 L1290.1,2693.5 L1291.7,2692.3 L1293.2,2691.0 L1294.8,2689.7 L1296.3,2688.5 L1297.9,2687.2 L1299.5,2686.0 L1301.1,2684.8 L1302.7,2683.6 L1304.3,2682.4 L1306.0,2681.4 L1307.7,2680.4 L1309.5,2679.6 L1311.4,2679.2 L1313.3,2678.9 L1315.3,2678.9 L1317.3,2679.0 L1319.3,2679.2 L1321.2,2679.6 L1323.2,2680.0 L1325.0,2680.6 L1326.8,2681.5 L1328.4,2682.6 L1330.0,2683.8 L1331.4,2685.2 L1332.8,2686.6 L1334.0,2688.2 L1335.2,2689.8 L1336.3,2691.5 L1337.3,2693.2 L1338.2,2694.9 L1339.2,2696.7 L1340.0,2698.5 L1340.9,2700.3 L1341.8,2702.1 L1342.8,2703.9 L1343.7,2705.6 L1344.7,2707.4 L1345.7,2709.1 L1346.7,2710.8 L1347.8,2712.5 L1348.8,2714.2 L1349.9,2715.9 L1351.0,2717.6 L1352.0,2719.3 L1353.1,2720.9 L1354.3,2722.6 L1355.4,2724.2 L1356.6,2725.9 L1357.8,2727.5 L1359.0,2729.0 L1360.3,2730.6 L1361.5,2732.1 L1362.8,2733.6 L1364.2,2735.1 L1365.6,2736.6 L1367.0,2737.9 L1368.6,2739.2 L1370.2,2740.2 L1372.0,2741.2 L1373.8,2742.0 L1375.6,2742.8 L1377.5,2743.5 L1379.3,2744.3 L1381.2,2745.0 L1383.0,2745.8 L1384.9,2746.5 L1386.7,2747.3 L1388.6,2748.0 L1390.5,2748.7 L1392.4,2749.3 L1394.3,2749.9 L1396.2,2750.5 L1398.1,2751.1 L1400.0,2751.6 L1402.0,2752.1 L1403.9,2752.6 L1405.9,2753.1 L1407.8,2753.6 L1409.7,2754.0 L1411.7,2754.5 L1413.7,2754.9 L1415.6,2755.3 L1417.6,2755.7 L1419.5,2756.0 L1421.5,2756.3 L1423.5,2756.6 L1425.5,2756.8 L1427.5,2757.0 L1429.5,2757.2 L1431.5,2757.4 L1433.5,2757.5 L1435.5,2757.7 L1437.4,2757.8 L1439.4,2757.9 L1441.4,2758.1 L1443.4,2758.2 L1445.4,2758.3 L1447.4,2758.4 L1449.4,2758.5 L1451.4,2758.6 L1453.4,2758.7 L1455.4,2758.8 L1457.4,2758.9 L1459.4,2759.0 L1461.4,2759.1 L1463.4,2759.1 L1465.4,2759.2 L1467.4,2759.2 L1469.4,2759.2 L1471.4,2759.3 L1473.4,2759.3 L1475.4,2759.3 L1477.4,2759.3 L1479.4,2759.3 L1481.4,2759.2 L1483.4,2759.2 L1485.4,2759.2 L1487.4,2759.1 L1489.4,2759.1 L1491.4,2759.0 L1493.4,2758.9 L1495.4,2758.8 L1497.4,2758.8 L1499.4,2758.7 L1501.4,2758.6 L1503.4,2758.5 L1505.4,2758.4 L1507.4,2758.3 L1509.4,2758.2 L1511.4,2758.2 L1513.4,2758.1 L1515.4,2758.0 L1517.4,2757.9 L1519.4,2757.8 L1521.4,2757.7 L1523.4,2757.6 L1525.4,2757.5 L1527.4,2757.4 L1529.4,2757.3 L1531.4,2757.2 L1533.4,2757.1 L1535.4,2756.9 L1537.4,2756.8 L1539.3,2756.7 L1541.3,2756.6 L1543.3,2756.5 L1545.3,2756.4 L1547.3,2756.3 L1549.3,2756.2 L1551.3,2756.2 L1553.3,2756.1 L1555.3,2756.1 L1557.3,2756.0 L1559.3,2756.1 L1561.3,2756.1 L1563.3,2756.3 L1565.3,2756.5 L1567.3,2756.8 L1569.3,2757.1 L1571.2,2757.5 L1573.2,2757.9 L1575.2,2758.2 L1577.1,2758.5 L1579.1,2758.8 L1581.1,2759.0 L1583.1,2759.1 L1585.1,2759.1 L1587.1,2759.0 L1589.0,2758.8 L1591.0,2758.5 L1593.0,2758.1 L1594.9,2757.6 L1596.8,2757.0 L1598.7,2756.4 L1600.6,2755.8 L1602.5,2755.3 L1604.5,2754.7 L1606.4,2754.1 L1608.3,2753.6 L1610.3,2753.1 L1612.2,2752.7 L1614.2,2752.3 L1616.1,2751.8 L1618.1,2751.4 L1620.0,2751.0 L1622.0,2750.6 L1623.9,2750.2 L1625.9,2749.8 L1627.9,2749.5 L1629.8,2749.1 L1631.6,2748.7 L1634.8,2748.1 L1634.8,2748.1" fill="none" stroke="#000" stroke-width="7.8" stroke-linejoin="round" stroke-linecap="round"/>
<path d="M179.5,3031.0 L181.2,3030.9 L183.6,3030.7 L185.5,3030.6 L187.5,3030.5 L189.5,3030.4 L191.5,3030.3 L193.5,3030.2 L195.5,3030.0 L197.5,3029.9 L199.5,3029.8 L201.5,3029.7 L203.5,3029.6 L205.5,3029.5 L207.5,3029.4 L209.5,3029.3 L211.4,3029.2 L213.4,3029.1 L215.4,3029.0 L217.4,3028.9 L219.4,3028.8 L221.4,3028.7 L223.4,3028.6 L225.4,3028.5 L227.4,3028.4 L229.4,3028.3 L231.4,3028.3 L233.4,3028.2 L235.4,3028.1 L237.4,3028.0 L239.4,3027.9 L241.4,3027.9 L243.4,3027.8 L245.4,3027.7 L247.4,3027.7 L249.4,3027.6 L251.4,3027.5 L253.4,3027.5 L255.4,3027.4 L257.4,3027.4 L259.4,3027.3 L261.4,3027.3 L263.4,3027.2 L265.4,3027.2 L267.4,3027.1 L269.4,3027.1 L271.4,3027.1 L273.4,3027.0 L275.4,3027.0 L277.4,3026.9 L279.4,3026.9 L281.4,3026.8 L283.4,3026.8 L285.4,3026.8 L287.4,3026.7 L289.4,3026.7 L291.4,3026.6 L293.4,3026.6 L295.4,3026.5 L297.4,3026.5 L299.4,3026.4 L301.4,3026.4 L303.4,3026.3 L305.4,3026.3 L307.4,3026.2 L309.4,3026.2 L311.4,3026.1 L313.4,3026.0 L315.4,3026.0 L317.4,3025.9 L319.4,3025.8 L321.4,3025.7 L323.4,3025.7 L325.4,3025.6 L327.4,3025.5 L329.4,3025.4 L331.4,3025.3 L333.4,3025.2 L335.4,3025.1 L337.4,3025.1 L339.4,3025.0 L341.4,3024.9 L343.4,3024.8 L345.4,3024.7 L347.4,3024.6 L349.4,3024.4 L351.4,3024.3 L353.4,3024.2 L355.4,3024.1 L357.3,3024.0 L359.3,3023.9 L361.3,3023.8 L363.3,3023.6 L365.3,3023.5 L367.3,3023.4 L369.3,3023.3 L371.3,3023.1 L373.3,3023.0 L375.3,3022.9 L377.3,3022.7 L379.3,3022.6 L381.3,3022.5 L383.3,3022.3 L385.3,3022.2 L387.3,3022.0 L389.3,3021.9 L391.3,3021.7 L393.3,3021.5 L395.3,3021.4 L397.2,3021.2 L399.2,3021.0 L401.2,3020.8 L403.2,3020.6 L405.2,3020.4 L407.2,3020.2 L409.2,3020.0 L411.2,3019.8 L413.2,3019.6 L415.2,3019.4 L417.1,3019.2 L419.1,3019.0 L421.1,3018.8 L423.1,3018.6 L425.1,3018.3 L427.1,3018.1 L429.1,3017.9 L431.1,3017.6 L433.0,3017.4 L435.0,3017.2 L437.0,3016.9 L439.0,3016.7 L441.0,3016.4 L443.0,3016.2 L445.0,3015.9 L446.9,3015.7 L448.9,3015.5 L450.9,3015.2 L452.9,3015.0 L454.9,3014.7 L456.9,3014.4 L458.8,3014.1 L460.8,3013.8 L462.8,3013.5 L464.7,3013.1 L466.7,3012.7 L468.6,3012.3 L470.6,3011.7 L472.5,3011.1 L474.3,3010.4 L476.1,3009.5 L477.8,3008.4 L479.4,3007.3 L481.0,3006.1 L482.6,3004.9 L484.1,3003.6 L485.6,3002.2 L487.0,3000.8 L488.4,2999.4 L489.7,2997.9 L491.1,2996.4 L492.4,2994.9 L493.6,2993.3 L494.9,2991.8 L496.0,2990.2 L497.2,2988.5 L498.3,2986.9 L499.3,2985.1 L500.3,2983.4 L501.2,2981.6 L502.1,2979.9 L503.0,2978.0 L503.8,2976.2 L504.6,2974.4 L505.4,2972.5 L506.1,2970.7 L506.8,2968.8 L507.5,2966.9 L508.2,2965.1 L508.8,2963.2 L509.5,2961.3 L510.1,2959.4 L510.7,2957.5 L511.3,2955.6 L511.9,2953.6 L512.5,2951.7 L513.0,2949.8 L513.6,2947.9 L514.2,2946.0 L514.8,2944.1 L515.3,2942.2 L515.9,2940.2 L516.5,2938.3 L517.1,2936.4 L517.7,2934.5 L518.3,2932.6 L518.9,2930.7 L519.5,2928.8 L520.0,2926.9 L520.6,2924.9 L521.1,2923.0 L521.6,2921.1 L522.2,2919.1 L522.7,2917.2 L523.2,2915.3 L523.7,2913.3 L524.2,2911.4 L524.7,2909.5 L525.2,2907.5 L525.6,2905.6 L526.1,2903.6 L526.6,2901.7 L527.0,2899.8 L527.5,2897.8 L528.0,2895.9 L528.5,2893.9 L529.0,2892.0 L529.5,2890.1 L530.0,2888.1 L530.6,2886.2 L531.2,2884.3 L531.8,2882.4 L532.4,2880.5 L533.0,2878.6 L533.6,2876.7 L534.2,2874.8 L534.8,2872.9 L535.4,2871.0 L536.0,2869.1 L536.6,2867.1 L537.2,2865.2 L537.8,2863.3 L538.4,2861.4 L539.0,2859.5 L539.4,2857.6 L539.9,2855.6 L540.3,2853.7 L540.7,2851.7 L541.2,2849.8 L541.8,2848.0 L542.7,2846.3 L544.0,2845.0 L545.5,2843.9 L547.2,2843.4 L548.8,2843.5 L550.1,2844.2 L551.2,2845.6 L552.0,2847.3 L552.7,2849.1 L553.3,2851.0 L553.9,2852.9 L554.5,2854.8 L555.1,2856.7 L555.6,2858.7 L556.1,2860.6 L556.6,2862.5 L557.0,2864.5 L557.5,2866.4 L557.9,2868.4 L558.3,2870.4 L558.7,2872.3 L559.1,2874.3 L559.4,2876.3 L559.7,2878.2 L560.1,2880.2 L560.4,2882.2 L560.7,2884.1 L561.0,2886.1 L561.3,2888.1 L561.5,2890.1 L561.8,2892.1 L562.1,2894.1 L562.3,2896.0 L562.5,2898.0 L562.8,2900.0 L563.0,2902.0 L563.3,2904.0 L563.5,2906.0 L563.7,2908.0 L564.0,2909.9 L564.2,2911.9 L564.5,2913.9 L564.8,2915.9 L565.1,2917.9 L565.3,2919.8 L565.6,2921.8 L565.9,2923.8 L566.2,2925.8 L566.5,2927.8 L566.8,2929.7 L567.1,2931.7 L567.4,2933.7 L567.7,2935.7 L568.0,2937.6 L568.4,2939.6 L568.7,2941.6 L569.0,2943.6 L569.3,2945.5 L569.6,2947.5 L569.9,2949.5 L570.2,2951.5 L570.6,2953.4 L570.9,2955.4 L571.3,2957.4 L571.7,2959.3 L572.2,2961.3 L572.7,2963.2 L573.2,2965.1 L573.8,2967.0 L574.4,2968.9 L575.1,2970.8 L575.8,2972.7 L576.5,2974.6 L577.3,2976.4 L578.1,2978.2 L578.9,2980.1 L579.7,2981.9 L580.7,2983.6 L581.6,2985.4 L582.7,2987.1 L583.9,2988.7 L585.2,2990.2 L586.5,2991.7 L588.0,2993.0 L589.5,2994.3 L591.1,2995.4 L592.8,2996.5 L594.6,2997.4 L596.4,2998.3 L598.2,2999.0 L600.1,2999.6 L602.1,3000.0 L604.0,3000.4 L606.0,3000.7 L608.0,3001.0 L610.0,3001.1 L612.0,3001.2 L613.9,3001.1 L615.9,3000.8 L617.8,3000.3 L619.6,2999.6 L621.4,2998.8 L623.2,2997.9 L625.1,2997.1 L626.9,2996.4 L628.8,2995.7 L630.7,2995.2 L632.6,2994.6 L634.6,2994.1 L636.5,2993.6 L638.4,2993.1 L640.4,2992.6 L642.3,2992.0 L644.2,2991.4 L646.1,2990.7 L647.9,2989.9 L649.7,2989.0 L651.4,2988.1 L653.2,2987.1 L654.9,2986.2 L656.7,2985.3 L658.6,2984.5 L660.4,2984.0 L662.4,2983.8 L664.3,2983.8 L666.3,2984.0 L668.2,2984.4 L670.1,2985.0 L672.0,2985.7 L673.8,2986.5 L675.4,2987.6 L677.0,2988.8 L678.4,2990.2 L679.7,2991.7 L681.0,2993.2 L682.2,2994.8 L683.6,2996.3 L685.0,2997.7 L686.5,2998.9 L688.1,3000.0 L689.9,3000.9 L691.7,3001.8 L693.5,3002.5 L695.4,3003.3 L697.3,3004.0 L699.2,3004.6 L701.1,3005.2 L703.0,3005.7 L705.0,3006.1 L706.9,3006.5 L708.9,3006.7 L710.9,3006.9 L712.9,3007.0 L714.9,3007.0 L716.9,3007.0 L718.9,3006.9 L720.9,3006.8 L722.9,3006.7 L724.9,3006.6 L726.9,3006.4 L728.8,3006.3 L730.8,3006.1 L732.8,3005.9 L734.8,3005.7 L736.8,3005.6 L738.8,3005.4 L740.8,3005.1 L742.8,3004.9 L744.8,3004.6 L746.7,3004.3 L748.7,3004.0 L750.6,3003.5 L752.6,3003.1 L754.5,3002.5 L756.3,3001.7 L757.9,3000.7 L759.4,2999.4 L760.7,2998.0 L762.1,2996.7 L763.6,2995.4 L765.3,2994.3 L767.0,2993.3 L768.7,2992.3 L770.4,2991.3 L772.0,2990.1 L773.4,2988.7 L774.7,2987.2 L775.8,2985.6 L776.8,2983.9 L777.8,2982.1 L778.7,2980.4 L779.6,2978.6 L780.5,2976.8 L781.4,2975.0 L782.3,2973.2 L783.2,2971.4 L784.1,2969.6 L784.9,2967.8 L785.7,2966.0 L786.6,2964.2 L787.4,2962.3 L788.2,2960.5 L788.9,2958.7 L789.7,2956.8 L790.5,2955.0 L791.2,2953.1 L792.0,2951.3 L792.7,2949.4 L793.4,2947.5 L794.1,2945.7 L794.8,2943.8 L795.5,2941.9 L796.2,2940.0 L796.8,2938.1 L797.5,2936.2 L798.1,2934.3 L798.7,2932.4 L799.3,2930.5 L799.9,2928.6 L800.5,2926.7 L801.1,2924.8 L801.7,2922.9 L802.3,2921.0 L802.9,2919.1 L803.4,2917.1 L804.0,2915.2 L804.5,2913.3 L805.1,2911.4 L805.6,2909.5 L806.2,2907.5 L806.8,2905.6 L807.5,2903.7 L808.1,2901.9 L808.8,2900.0 L809.5,2898.1 L810.1,2896.2 L810.8,2894.3 L811.4,2892.4 L811.9,2890.5 L812.4,2888.5 L812.8,2886.6 L813.2,2884.6 L813.6,2882.7 L814.0,2880.7 L814.3,2878.7 L814.7,2876.8 L815.1,2874.8 L815.6,2872.9 L816.0,2870.9 L816.6,2869.0 L817.1,2867.1 L817.7,2865.2 L818.2,2863.2 L818.7,2861.3 L819.2,2859.4 L819.7,2857.4 L820.0,2855.4 L820.4,2853.5 L820.7,2851.5 L821.0,2849.5 L821.3,2847.5 L821.6,2845.6 L821.8,2843.6 L822.1,2841.6 L822.4,2839.6 L822.7,2837.6 L822.9,2835.7 L823.2,2833.7 L823.5,2831.7 L823.8,2829.7 L824.1,2827.7 L824.4,2825.8 L824.7,2823.8 L825.0,2821.8 L825.3,2819.8 L825.6,2817.9 L825.9,2815.9 L826.2,2813.9 L826.6,2811.9 L826.9,2810.0 L827.3,2808.0 L827.7,2806.0 L828.0,2804.1 L828.4,2802.1 L828.9,2800.2 L829.4,2798.2 L829.9,2796.3 L830.6,2794.5 L831.3,2792.8 L832.8,2791.4 L834.5,2791.9 L835.5,2793.1 L836.4,2794.8 L837.2,2796.6 L837.8,2798.5 L838.3,2800.4 L838.8,2802.3 L839.2,2804.3 L839.5,2806.3 L839.9,2808.2 L840.2,2810.2 L840.5,2812.2 L840.8,2814.2 L841.0,2816.1 L841.3,2818.1 L841.5,2820.1 L841.8,2822.1 L842.0,2824.1 L842.2,2826.1 L842.4,2828.1 L842.6,2830.1 L842.8,2832.0 L843.1,2834.0 L843.3,2836.0 L843.5,2838.0 L843.7,2840.0 L843.9,2842.0 L844.1,2844.0 L844.3,2846.0 L844.5,2848.0 L844.7,2850.0 L844.8,2851.9 L845.0,2853.9 L845.2,2855.9 L845.4,2857.9 L845.5,2859.9 L845.7,2861.9 L845.8,2863.9 L846.0,2865.9 L846.2,2867.9 L846.3,2869.9 L846.5,2871.9 L846.6,2873.9 L846.8,2875.9 L846.9,2877.9 L847.1,2879.9 L847.2,2881.9 L847.4,2883.8 L847.6,2885.8 L847.7,2887.8 L847.9,2889.8 L848.0,2891.8 L848.2,2893.8 L848.3,2895.8 L848.5,2897.8 L848.6,2899.8 L848.8,2901.8 L848.9,2903.8 L849.1,2905.8 L849.2,2907.8 L849.4,2909.8 L849.5,2911.8 L849.7,2913.8 L849.8,2915.8 L850.0,2917.7 L850.1,2919.7 L850.3,2921.7 L850.4,2923.7 L850.6,2925.7 L850.8,2927.7 L851.0,2929.7 L851.2,2931.7 L851.4,2933.7 L851.7,2935.7 L852.0,2937.6 L852.4,2939.6 L852.8,2941.6 L853.2,2943.5 L853.6,2945.5 L854.1,2947.4 L854.6,2949.3 L855.2,2951.3 L855.7,2953.2 L856.4,2955.1 L857.0,2957.0 L857.8,2958.8 L858.8,2960.5 L859.9,2962.1 L861.2,2963.6 L862.7,2964.9 L864.2,2966.2 L865.8,2967.3 L867.5,2968.5 L869.1,2969.6 L870.8,2970.7 L872.5,2971.7 L874.3,2972.7 L876.1,2973.6 L877.9,2974.4 L879.7,2975.2 L881.5,2976.1 L883.2,2977.1 L884.7,2978.3 L886.2,2979.6 L887.6,2981.1 L888.9,2982.6 L890.2,2984.1 L891.4,2985.6 L892.7,2987.2 L893.9,2988.8 L895.1,2990.4 L896.3,2992.0 L897.6,2993.6 L898.8,2995.1 L900.0,2996.7 L901.3,2998.2 L902.8,2999.6 L904.3,3000.8 L905.9,3002.0 L907.6,3003.0 L909.3,3004.0 L911.1,3004.9 L912.9,3005.8 L914.7,3006.6 L916.6,3007.2 L918.6,3007.7 L920.5,3008.1 L922.5,3008.4 L924.5,3008.5 L926.5,3008.7 L928.5,3008.7 L930.5,3008.8 L932.5,3008.9 L934.5,3008.9 L936.5,3009.0 L938.5,3009.0 L940.5,3009.0 L942.5,3009.0 L944.5,3009.0 L946.5,3009.0 L948.5,3009.0 L950.5,3009.0 L952.5,3009.1 L954.5,3009.1 L956.5,3009.1 L958.5,3009.1 L960.5,3009.1 L962.5,3009.1 L964.5,3009.1 L966.5,3009.1 L968.5,3009.1 L970.5,3009.1 L972.5,3009.1 L974.5,3009.2 L976.5,3009.2 L978.5,3009.2 L980.5,3009.2 L982.5,3009.3 L984.5,3009.3 L986.5,3009.3 L988.4,3009.4 L990.4,3009.4 L992.4,3009.4 L994.4,3009.5 L996.4,3009.5 L998.4,3009.5 L1000.4,3009.5 L1002.4,3009.6 L1004.4,3009.6 L1006.4,3009.6 L1008.4,3009.6 L1010.4,3009.6 L1012.4,3009.6 L1014.4,3009.5 L1016.4,3009.5 L1018.4,3009.4 L1020.4,3009.4 L1022.4,3009.3 L1024.4,3009.2 L1026.4,3009.0 L1028.4,3008.9 L1030.4,3008.8 L1032.4,3008.6 L1034.4,3008.5 L1036.4,3008.3 L1038.4,3008.1 L1040.4,3008.0 L1042.4,3007.8 L1044.4,3007.6 L1046.4,3007.4 L1048.4,3007.2 L1050.3,3006.9 L1052.3,3006.7 L1054.3,3006.4 L1056.3,3006.1 L1058.2,3005.7 L1060.2,3005.3 L1062.1,3004.8 L1064.1,3004.4 L1066.0,3004.0 L1068.0,3003.5 L1070.0,3003.2 L1071.9,3002.8 L1073.9,3002.5 L1075.9,3002.2 L1077.9,3001.9 L1079.8,3001.6 L1081.7,3001.1 L1083.6,3000.4 L1085.3,2999.5 L1086.8,2998.3 L1088.2,2997.0 L1089.5,2995.4 L1090.7,2993.8 L1091.8,2992.2 L1093.0,2990.6 L1094.1,2988.9 L1095.3,2987.3 L1096.5,2985.7 L1097.7,2984.1 L1098.9,2982.5 L1100.1,2980.9 L1101.2,2979.3 L1102.4,2977.6 L1103.5,2976.0 L1104.7,2974.3 L1105.8,2972.7 L1106.9,2971.0 L1108.0,2969.3 L1109.0,2967.6 L1110.1,2965.9 L1111.1,2964.2 L1112.1,2962.5 L1113.1,2960.7 L1114.0,2959.0 L1115.0,2957.2 L1115.9,2955.4 L1116.8,2953.6 L1117.6,2951.8 L1118.5,2950.0 L1119.3,2948.2 L1120.1,2946.4 L1120.9,2944.5 L1121.6,2942.7 L1122.4,2940.8 L1123.1,2939.0 L1123.9,2937.1 L1124.6,2935.2 L1125.3,2933.4 L1126.0,2931.5 L1126.7,2929.6 L1127.4,2927.8 L1128.1,2925.9 L1128.8,2924.0 L1129.5,2922.1 L1130.2,2920.3 L1130.9,2918.4 L1131.6,2916.5 L1132.3,2914.7 L1133.1,2912.8 L1133.8,2910.9 L1134.5,2909.1 L1135.2,2907.2 L1135.9,2905.3 L1136.6,2903.4 L1137.2,2901.5 L1137.9,2899.7 L1138.6,2897.8 L1139.2,2895.9 L1139.8,2894.0 L1140.5,2892.1 L1141.1,2890.2 L1141.7,2888.3 L1142.3,2886.4 L1142.9,2884.5 L1143.5,2882.6 L1144.1,2880.7 L1144.7,2878.7 L1145.3,2876.8 L1145.8,2874.9 L1146.4,2873.0 L1147.0,2871.1 L1147.7,2869.2 L1148.5,2867.6 L1149.7,2866.1 L1151.2,2865.1 L1153.0,2864.3 L1154.8,2864.0 L1156.5,2864.2 L1157.9,2865.0 L1159.0,2866.3 L1159.9,2867.9 L1160.5,2869.8 L1161.1,2871.7 L1161.6,2873.6 L1162.1,2875.5 L1162.6,2877.5 L1163.1,2879.4 L1163.6,2881.4 L1164.0,2883.3 L1164.4,2885.3 L1164.8,2887.2 L1165.2,2889.2 L1165.5,2891.2 L1165.8,2893.1 L1166.2,2895.1 L1166.5,2897.1 L1166.8,2899.1 L1167.1,2901.0 L1167.4,2903.0 L1167.8,2905.0 L1168.1,2907.0 L1168.4,2908.9 L1168.7,2910.9 L1168.9,2912.9 L1169.2,2914.9 L1169.5,2916.9 L1169.8,2918.8 L1170.1,2920.8 L1170.3,2922.8 L1170.6,2924.8 L1170.9,2926.8 L1171.2,2928.7 L1171.4,2930.7 L1171.7,2932.7 L1172.0,2934.7 L1172.3,2936.7 L1172.6,2938.6 L1173.0,2940.6 L1173.3,2942.6 L1173.6,2944.6 L1173.9,2946.5 L1174.3,2948.5 L1174.6,2950.5 L1174.9,2952.4 L1175.3,2954.4 L1175.7,2956.4 L1176.1,2958.3 L1176.5,2960.3 L1176.9,2962.2 L1177.4,2964.2 L1178.0,2966.1 L1178.5,2968.0 L1179.1,2969.9 L1179.7,2971.8 L1180.4,2973.7 L1181.1,2975.6 L1181.8,2977.4 L1182.7,2979.3 L1183.6,2981.0 L1184.7,2982.7 L1185.8,2984.3 L1187.1,2985.8 L1188.5,2987.3 L1189.9,2988.6 L1191.5,2989.9 L1193.1,2991.0 L1194.8,2992.0 L1196.6,2992.9 L1198.4,2993.6 L1200.3,2994.2 L1202.2,2994.4 L1204.1,2994.3 L1206.0,2993.8 L1207.8,2993.1 L1209.6,2992.1 L1211.3,2991.1 L1213.0,2990.0 L1214.7,2989.0 L1216.4,2987.9 L1218.1,2986.9 L1219.8,2985.8 L1221.5,2984.8 L1223.1,2983.6 L1224.8,2982.5 L1226.4,2981.3 L1227.9,2980.1 L1229.5,2978.8 L1231.0,2977.5 L1232.5,2976.2 L1234.0,2974.9 L1235.4,2973.5 L1236.8,2972.1 L1238.2,2970.6 L1239.5,2969.1 L1240.8,2967.6 L1242.1,2966.0 L1243.3,2964.5 L1244.5,2962.8 L1245.6,2961.2 L1246.7,2959.5 L1247.7,2957.8 L1248.7,2956.1 L1249.8,2954.3 L1250.8,2952.6 L1251.8,2950.9 L1252.8,2949.2 L1253.8,2947.4 L1254.8,2945.7 L1255.7,2943.9 L1256.6,2942.2 L1257.5,2940.4 L1258.4,2938.6 L1259.3,2936.8 L1260.2,2935.0 L1261.2,2933.3 L1262.3,2931.7 L1263.6,2930.5 L1265.0,2929.9 L1267.2,2930.3 L1268.4,2931.5 L1269.5,2933.1 L1270.4,2934.8 L1271.3,2936.6 L1272.1,2938.4 L1272.9,2940.3 L1273.7,2942.1 L1274.6,2943.9 L1275.4,2945.7 L1276.2,2947.5 L1276.9,2949.4 L1277.7,2951.2 L1278.4,2953.1 L1279.2,2954.9 L1280.0,2956.7 L1281.0,2958.3 L1282.3,2959.5 L1283.8,2960.2 L1285.5,2960.3 L1287.3,2959.8 L1289.1,2959.1 L1290.9,2958.1 L1292.5,2957.0 L1293.9,2955.7 L1295.3,2954.2 L1296.4,2952.6 L1297.4,2950.9 L1298.3,2949.2 L1299.2,2947.4 L1300.1,2945.6 L1301.0,2943.8 L1302.0,2942.0 L1303.0,2940.3 L1304.0,2938.6 L1305.1,2936.9 L1306.3,2935.3 L1307.4,2933.7 L1308.6,2932.0 L1309.7,2930.4 L1310.7,2928.7 L1311.7,2927.0 L1312.6,2925.2 L1313.4,2923.4 L1314.2,2921.5 L1314.8,2919.6 L1315.5,2917.7 L1316.1,2915.8 L1316.8,2914.0 L1317.6,2912.1 L1318.5,2910.5 L1319.7,2909.3 L1321.2,2908.5 L1322.9,2908.4 L1324.7,2908.7 L1326.6,2909.2 L1328.5,2909.8 L1330.4,2910.4 L1332.3,2911.1 L1334.0,2911.9 L1335.4,2913.1 L1336.5,2914.6 L1337.3,2916.3 L1337.9,2918.2 L1338.4,2920.1 L1338.8,2922.1 L1339.2,2924.0 L1339.7,2926.0 L1340.1,2928.0 L1340.5,2929.9 L1341.0,2931.9 L1341.4,2933.8 L1342.0,2935.7 L1342.6,2937.6 L1343.2,2939.5 L1343.9,2941.4 L1344.7,2943.2 L1345.5,2945.0 L1346.4,2946.9 L1347.2,2948.7 L1348.0,2950.5 L1348.8,2952.4 L1349.5,2954.2 L1350.1,2956.1 L1350.7,2958.0 L1351.3,2959.9 L1351.8,2961.9 L1352.4,2963.8 L1352.9,2965.7 L1353.4,2967.7 L1354.0,2969.6 L1354.5,2971.5 L1355.1,2973.4 L1355.8,2975.3 L1356.5,2977.2 L1357.3,2979.0 L1358.1,2980.8 L1358.9,2982.6 L1359.9,2984.4 L1360.8,2986.2 L1361.8,2987.9 L1362.9,2989.6 L1364.0,2991.2 L1365.2,2992.8 L1366.5,2994.3 L1367.9,2995.8 L1369.3,2997.2 L1370.8,2998.5 L1372.4,2999.7 L1374.0,3000.9 L1375.6,3002.0 L1377.3,3003.1 L1379.0,3004.2 L1380.7,3005.2 L1382.5,3006.1 L1384.3,3007.0 L1386.1,3007.9 L1387.9,3008.6 L1389.8,3009.3 L1391.7,3009.9 L1393.6,3010.4 L1395.6,3010.8 L1397.6,3011.2 L1399.5,3011.6 L1401.5,3011.9 L1403.5,3012.2 L1405.4,3012.5 L1407.4,3012.8 L1409.4,3013.1 L1411.4,3013.3 L1413.4,3013.5 L1415.4,3013.8 L1417.4,3014.0 L1419.3,3014.2 L1421.3,3014.3 L1423.3,3014.5 L1425.3,3014.7 L1427.3,3014.9 L1429.3,3015.1 L1431.3,3015.2 L1433.3,3015.4 L1435.3,3015.5 L1437.3,3015.7 L1439.3,3015.8 L1441.3,3016.0 L1443.3,3016.1 L1445.3,3016.2 L1447.3,3016.3 L1449.3,3016.4 L1451.2,3016.6 L1453.2,3016.7 L1455.2,3016.7 L1457.2,3016.8 L1459.2,3016.9 L1461.2,3017.0 L1463.2,3017.0 L1465.2,3017.1 L1467.2,3017.2 L1469.2,3017.2 L1471.2,3017.3 L1473.2,3017.4 L1475.2,3017.4 L1477.2,3017.5 L1479.2,3017.5 L1481.2,3017.6 L1483.2,3017.6 L1485.2,3017.7 L1487.2,3017.7 L1489.2,3017.8 L1491.2,3017.8 L1493.2,3017.8 L1495.2,3017.8 L1497.2,3017.9 L1499.2,3017.9 L1501.2,3017.9 L1503.2,3017.9 L1505.2,3017.9 L1507.2,3017.9 L1509.2,3017.8 L1511.2,3017.8 L1513.2,3017.7 L1515.2,3017.7 L1517.2,3017.6 L1519.2,3017.5 L1521.2,3017.4 L1523.2,3017.3 L1525.2,3017.2 L1527.2,3017.0 L1529.2,3016.9 L1531.2,3016.8 L1533.2,3016.6 L1535.2,3016.5 L1537.2,3016.3 L1539.2,3016.1 L1541.2,3016.0 L1543.2,3015.8 L1545.1,3015.6 L1547.1,3015.3 L1549.1,3015.0 L1551.1,3014.6 L1553.0,3014.2 L1554.9,3013.7 L1556.9,3013.2 L1558.8,3012.8 L1560.8,3012.3 L1562.8,3012.0 L1564.7,3011.7 L1566.7,3011.6 L1568.7,3011.6 L1570.7,3011.7 L1572.7,3011.9 L1574.6,3012.2 L1576.6,3012.6 L1578.6,3013.0 L1580.5,3013.3 L1582.5,3013.7 L1584.5,3013.9 L1586.5,3014.0 L1588.5,3014.1 L1590.5,3014.0 L1592.5,3013.9 L1594.4,3013.7 L1596.4,3013.4 L1598.4,3013.1 L1600.4,3012.8 L1602.3,3012.4 L1604.3,3012.0 L1606.2,3011.5 L1608.2,3011.1 L1610.1,3010.7 L1612.1,3010.2 L1614.0,3009.8 L1616.0,3009.4 L1617.9,3008.9 L1619.9,3008.4 L1621.8,3007.9 L1623.8,3007.4 L1625.7,3006.9 L1627.6,3006.3 L1629.4,3005.8 L1631.0,3005.3 L1633.3,3004.6 L1633.3,3004.6" fill="none" stroke="#ff0000" stroke-width="7.8" stroke-linejoin="round" stroke-linecap="round"/>
<g fill="#000">
<text transform="translate(276.95,171.31) scale(1.0117,1.0912)" font-family='"Liberation Sans", Arial, sans-serif' font-size="100">a</text>
<text transform="translate(1350.56,108.00) scale(0.5139,0.4966)" font-family='"Liberation Sans", Arial, sans-serif' font-size="100">iPP</text>
<text transform="translate(1349.80,171.01) scale(0.5118,0.4884)" font-family='"Liberation Sans", Arial, sans-serif' font-size="100">PP/CN5</text>
<text transform="translate(225.95,466.77) scale(0.4937,0.5272)" font-family='"Liberation Sans", Arial, sans-serif' font-size="100">1.4 MPa</text>
<text transform="translate(225.95,624.87) scale(0.4937,0.5272)" font-family='"Liberation Sans", Arial, sans-serif' font-size="100">1.4 MPa</text>
<text transform="translate(222.47,838.28) scale(0.5061,0.5198)" font-family='"Liberation Sans", Arial, sans-serif' font-size="100">200 MPa</text>
<text transform="translate(222.47,1038.31) scale(0.5061,0.4915)" font-family='"Liberation Sans", Arial, sans-serif' font-size="100">200 MPa</text>
<text transform="translate(224.40,1253.01) scale(0.5013,0.4929)" font-family='"Liberation Sans", Arial, sans-serif' font-size="100">300 MPa</text>
<text transform="translate(224.40,1395.51) scale(0.4995,0.4944)" font-family='"Liberation Sans", Arial, sans-serif' font-size="100">300 MPa</text>
<text transform="translate(519.81,274.72) scale(0.5309,0.5064)" font-family='"Liberation Sans", Arial, sans-serif' font-size="100">(110)</text>
<text transform="translate(638.67,290.39) scale(0.4816,0.4108)" font-family='"Liberation Serif", "Times New Roman", serif' font-size="100">α</text>
<text transform="translate(780.13,286.95) scale(0.5276,0.5097)" font-family='"Liberation Sans", Arial, sans-serif' font-size="100">(040)</text>
<text transform="translate(899.19,302.59) scale(0.4752,0.4149)" font-family='"Liberation Serif", "Times New Roman", serif' font-size="100">α</text>
<text transform="translate(952.54,347.45) scale(0.5258,0.5097)" font-family='"Liberation Sans", Arial, sans-serif' font-size="100">(130)</text>
<text transform="translate(1071.70,364.59) scale(0.4730,0.4149)" font-family='"Liberation Serif", "Times New Roman", serif' font-size="100">α</text>
<text transform="translate(1158.13,347.45) scale(0.5597,0.5097)" font-family='"Liberation Sans", Arial, sans-serif' font-size="100">(111)</text>
<text transform="translate(1276.19,364.59) scale(0.4752,0.4149)" font-family='"Liberation Serif", "Times New Roman", serif' font-size="100">α</text>
<text transform="translate(1343.33,355.45) scale(0.5267,0.5097)" font-family='"Liberation Sans", Arial, sans-serif' font-size="100">(041)</text>
<text transform="translate(1462.21,372.59) scale(0.4708,0.4149)" font-family='"Liberation Serif", "Times New Roman", serif' font-size="100">α</text>
<text transform="translate(515.00,1093.05) scale(0.5485,0.5000)" font-family='"Liberation Sans", Arial, sans-serif' font-size="100">(111)</text>
<text transform="translate(633.04,1108.02) scale(0.4000,0.4122)" font-family='"Liberation Serif", "Times New Roman", serif' font-size="100">γ</text>
<text transform="translate(695.66,1115.56) scale(0.5059,0.5043)" font-family='"Liberation Sans", Arial, sans-serif' font-size="100">(008)</text>
<text transform="translate(813.54,1130.12) scale(0.4095,0.4167)" font-family='"Liberation Serif", "Times New Roman", serif' font-size="100">γ</text>
<text transform="translate(1061.71,1103.56) scale(0.5150,0.5043)" font-family='"Liberation Sans", Arial, sans-serif' font-size="100">(117)</text>
<text transform="translate(1180.04,1118.12) scale(0.4095,0.4167)" font-family='"Liberation Serif", "Times New Roman", serif' font-size="100">γ</text>
<text transform="translate(1231.98,1126.06) scale(0.5195,0.5043)" font-family='"Liberation Sans", Arial, sans-serif' font-size="100">(202)</text>
<text transform="translate(1350.04,1140.12) scale(0.4000,0.4167)" font-family='"Liberation Serif", "Times New Roman", serif' font-size="100">γ</text>
<text transform="translate(1377.38,1173.56) scale(0.5195,0.5043)" font-family='"Liberation Sans", Arial, sans-serif' font-size="100">(026)</text>
<text transform="translate(1495.04,1187.12) scale(0.4048,0.4167)" font-family='"Liberation Serif", "Times New Roman", serif' font-size="100">γ</text>
<text transform="translate(86.06,972.96) rotate(-90) scale(0.7020,0.7181)" font-family='"Liberation Sans", Arial, sans-serif' font-size="100">Intensity (a.u.)</text>
<text transform="translate(162.97,1569.19) scale(0.5958,0.6073)" font-family='"Liberation Sans", Arial, sans-serif' font-size="100">10</text>
<text transform="translate(641.91,1569.77) scale(0.6177,0.6332)" font-family='"Liberation Sans", Arial, sans-serif' font-size="100">15</text>
<text transform="translate(1118.63,1569.78) scale(0.6149,0.6243)" font-family='"Liberation Sans", Arial, sans-serif' font-size="100">20</text>
<text transform="translate(1598.41,1569.78) scale(0.6176,0.6243)" font-family='"Liberation Sans", Arial, sans-serif' font-size="100">25</text>
<text transform="translate(783.83,1668.30) scale(0.7346,0.7278)" font-family='"Liberation Sans", Arial, sans-serif' font-size="100">2</text>
<text transform="translate(823.85,1667.99) scale(0.7769,0.7066)" font-family='"Liberation Serif", "Times New Roman", serif' font-size="100">θ</text>
<text transform="translate(880.12,1668.16) scale(0.7222,0.6988)" font-family='"Liberation Sans", Arial, sans-serif' font-size="100">(deg)</text>
<text transform="translate(251.07,2001.91) scale(1.1269,1.0939)" font-family='"Liberation Sans", Arial, sans-serif' font-size="100">b</text>
<text transform="translate(1310.78,1927.69) scale(0.5248,0.4785)" font-family='"Liberation Sans", Arial, sans-serif' font-size="100">iPP(i)</text>
<text transform="translate(1311.23,1991.69) scale(0.5210,0.4785)" font-family='"Liberation Sans", Arial, sans-serif' font-size="100">PP/CN5(i)</text>
<text transform="translate(207.07,2215.51) scale(0.5058,0.4944)" font-family='"Liberation Sans", Arial, sans-serif' font-size="100">200 MPa</text>
<text transform="translate(208.27,2487.90) scale(0.5058,0.5042)" font-family='"Liberation Sans", Arial, sans-serif' font-size="100">200 MPa</text>
<text transform="translate(216.09,2743.90) scale(0.5028,0.5042)" font-family='"Liberation Sans", Arial, sans-serif' font-size="100">300 MPa</text>
<text transform="translate(210.79,3004.49) scale(0.5015,0.5113)" font-family='"Liberation Sans", Arial, sans-serif' font-size="100">300 MPa</text>
<text transform="translate(93.13,2782.75) rotate(-90) scale(0.7121,0.7438)" font-family='"Liberation Sans", Arial, sans-serif' font-size="100">Intensity (a.u.)</text>
<text transform="translate(147.75,3268.66) scale(0.6118,0.6398)" font-family='"Liberation Sans", Arial, sans-serif' font-size="100">10</text>
<text transform="translate(630.20,3268.67) scale(0.6318,0.6347)" font-family='"Liberation Sans", Arial, sans-serif' font-size="100">15</text>
<text transform="translate(1111.63,3268.67) scale(0.6149,0.6257)" font-family='"Liberation Sans", Arial, sans-serif' font-size="100">20</text>
<text transform="translate(1596.39,3268.86) scale(0.6412,0.6427)" font-family='"Liberation Sans", Arial, sans-serif' font-size="100">25</text>
<text transform="translate(776.83,3362.60) scale(0.7346,0.7350)" font-family='"Liberation Sans", Arial, sans-serif' font-size="100">2</text>
<text transform="translate(817.35,3362.29) scale(0.7769,0.7123)" font-family='"Liberation Serif", "Times New Roman", serif' font-size="100">θ</text>
<text transform="translate(873.07,3361.46) scale(0.7308,0.6988)" font-family='"Liberation Sans", Arial, sans-serif' font-size="100">(deg)</text>
</g>
</svg>
</body></html>
